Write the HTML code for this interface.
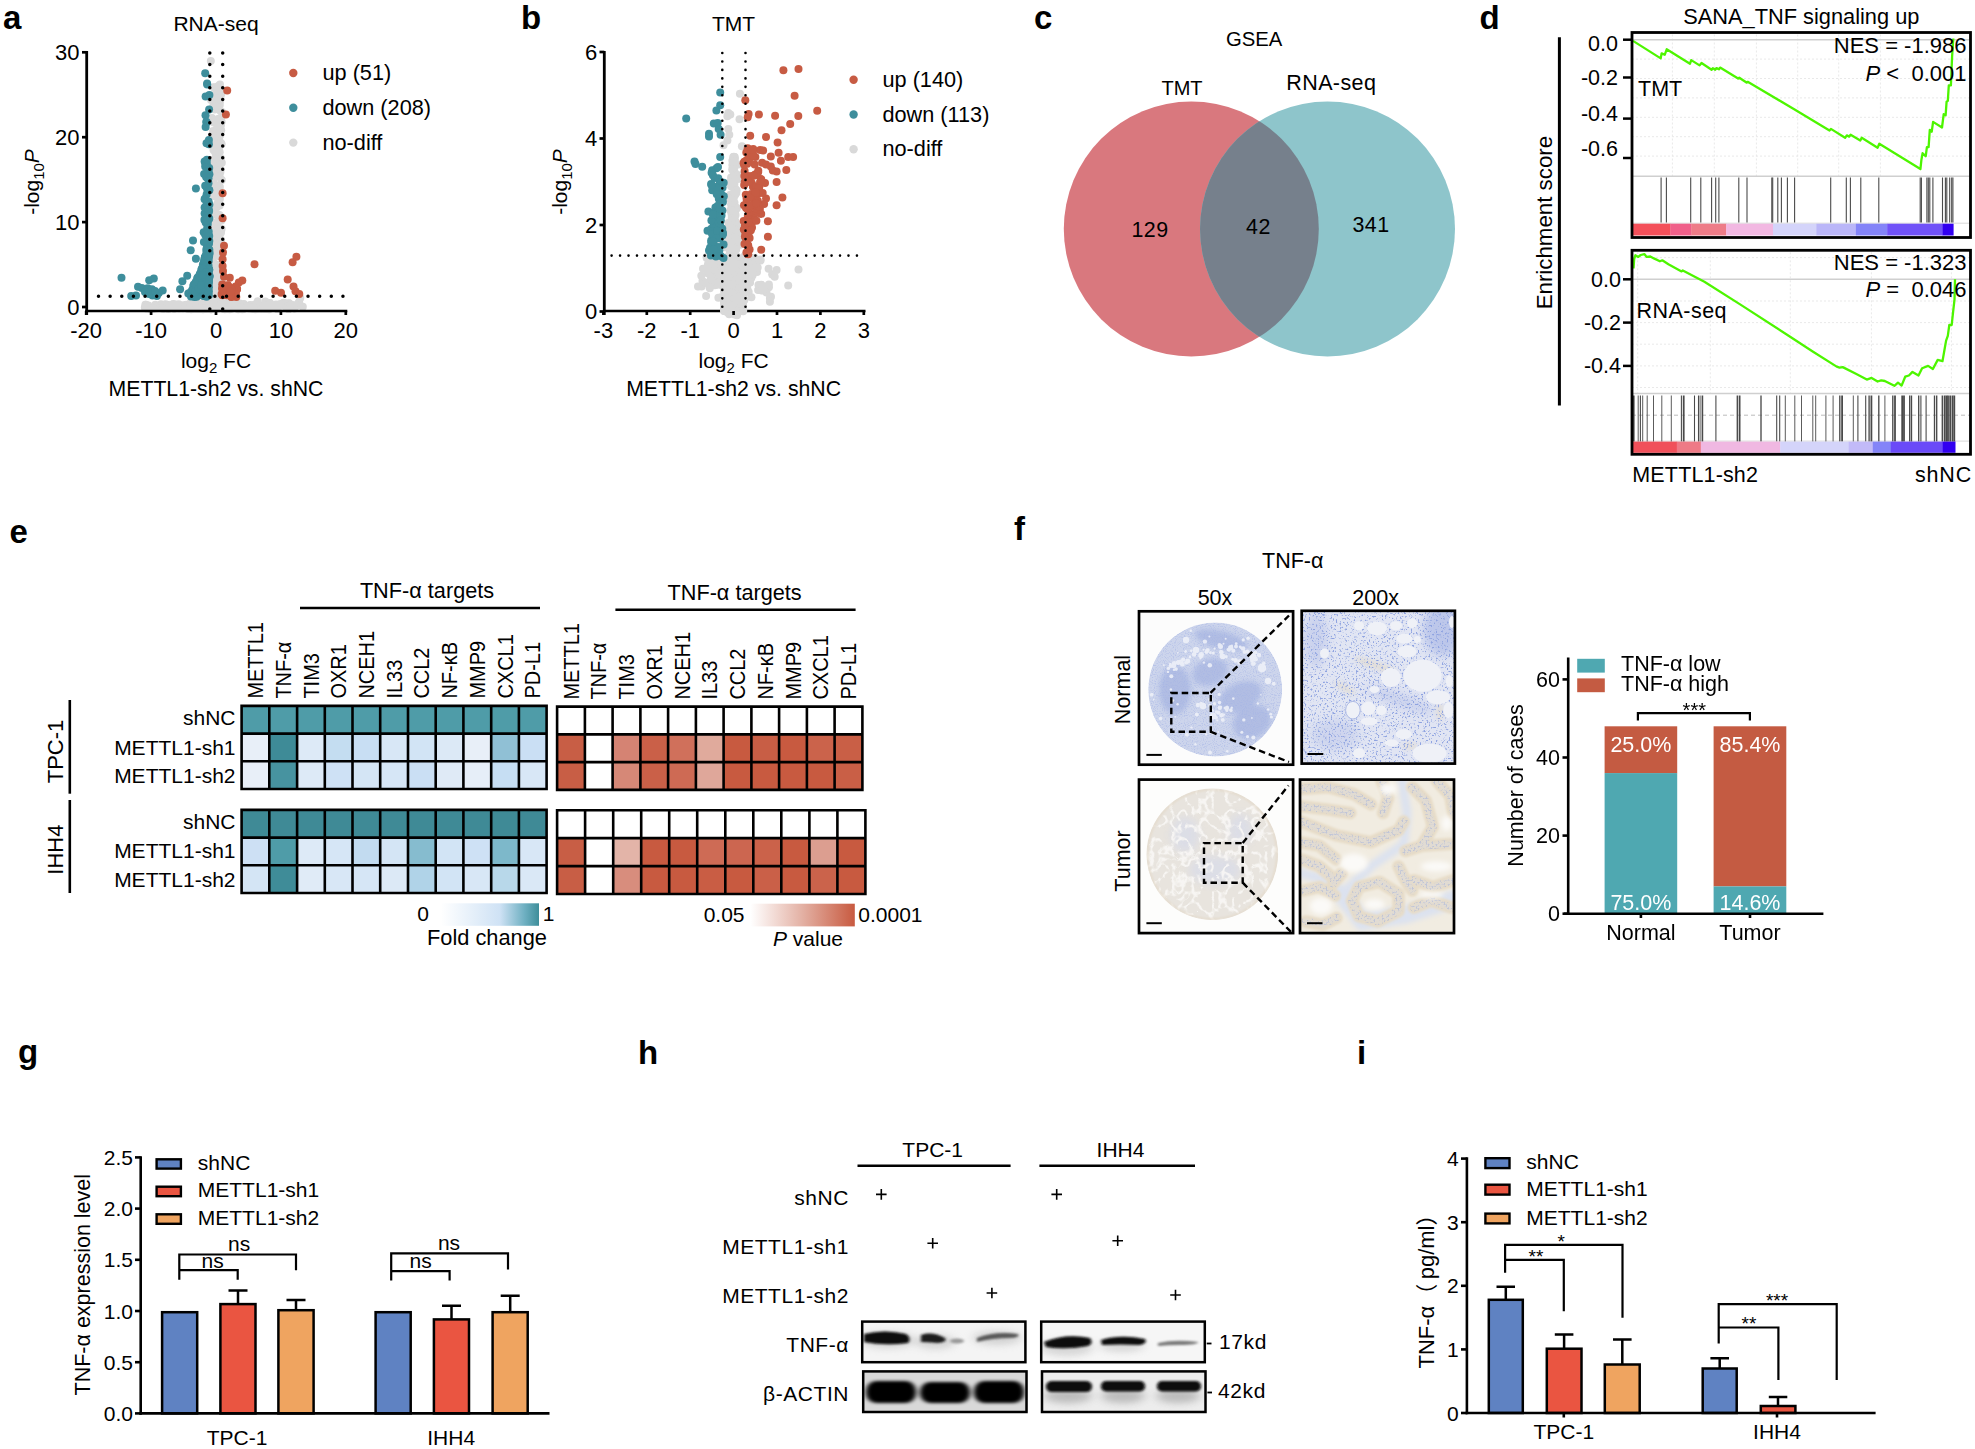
<!DOCTYPE html>
<html><head><meta charset="utf-8"><title>Figure</title>
<style>html,body{margin:0;padding:0;background:#fff}svg{display:block}text{font-family:'Liberation Sans', Arial, sans-serif}</style></head>
<body>
<svg width="1975" height="1449" viewBox="0 0 1975 1449">
<rect width="1975" height="1449" fill="#fff"/>
<text x="3.0" y="29.0" font-size="33" font-weight="bold">a</text>
<text x="216.0" y="31.0" font-size="21" text-anchor="middle">RNA-seq</text>
<g fill="#D9D9D9"><circle cx="220.3" cy="303.4" r="4"/><circle cx="213.2" cy="178.9" r="4"/><circle cx="215.6" cy="255.2" r="4"/><circle cx="219.6" cy="215.2" r="4"/><circle cx="210.5" cy="305.1" r="4"/><circle cx="219.7" cy="152.3" r="4"/><circle cx="215.5" cy="306.7" r="4"/><circle cx="212.9" cy="193.3" r="4"/><circle cx="213.0" cy="106.8" r="4"/><circle cx="216.7" cy="306.6" r="4"/><circle cx="214.7" cy="109.5" r="4"/><circle cx="210.5" cy="269.9" r="4"/><circle cx="215.4" cy="297.2" r="4"/><circle cx="213.0" cy="255.1" r="4"/><circle cx="212.8" cy="296.3" r="4"/><circle cx="213.6" cy="262.7" r="4"/><circle cx="220.2" cy="306.6" r="4"/><circle cx="217.9" cy="241.0" r="4"/><circle cx="222.1" cy="300.1" r="4"/><circle cx="215.8" cy="142.8" r="4"/><circle cx="218.7" cy="193.3" r="4"/><circle cx="220.3" cy="110.7" r="4"/><circle cx="213.8" cy="209.6" r="4"/><circle cx="220.8" cy="233.0" r="4"/><circle cx="218.1" cy="148.3" r="4"/><circle cx="213.1" cy="306.5" r="4"/><circle cx="215.1" cy="166.8" r="4"/><circle cx="216.7" cy="301.0" r="4"/><circle cx="218.3" cy="199.3" r="4"/><circle cx="215.4" cy="278.1" r="4"/><circle cx="219.5" cy="252.3" r="4"/><circle cx="214.9" cy="249.5" r="4"/><circle cx="210.5" cy="256.5" r="4"/><circle cx="218.6" cy="306.4" r="4"/><circle cx="216.3" cy="89.6" r="4"/><circle cx="216.2" cy="301.2" r="4"/><circle cx="217.7" cy="90.1" r="4"/><circle cx="217.4" cy="142.7" r="4"/><circle cx="216.9" cy="103.6" r="4"/><circle cx="216.7" cy="292.4" r="4"/><circle cx="219.9" cy="101.5" r="4"/><circle cx="220.8" cy="158.2" r="4"/><circle cx="219.9" cy="187.0" r="4"/><circle cx="216.9" cy="250.0" r="4"/><circle cx="210.8" cy="269.2" r="4"/><circle cx="214.6" cy="138.8" r="4"/><circle cx="216.0" cy="253.2" r="4"/><circle cx="214.3" cy="280.9" r="4"/><circle cx="217.6" cy="245.4" r="4"/><circle cx="215.7" cy="226.3" r="4"/><circle cx="212.9" cy="306.6" r="4"/><circle cx="217.2" cy="300.8" r="4"/><circle cx="220.0" cy="142.4" r="4"/><circle cx="213.2" cy="159.7" r="4"/><circle cx="213.5" cy="150.0" r="4"/><circle cx="210.3" cy="306.7" r="4"/><circle cx="213.2" cy="181.8" r="4"/><circle cx="217.7" cy="304.5" r="4"/><circle cx="211.0" cy="282.7" r="4"/><circle cx="216.5" cy="301.9" r="4"/><circle cx="213.4" cy="301.4" r="4"/><circle cx="215.6" cy="196.6" r="4"/><circle cx="215.8" cy="285.9" r="4"/><circle cx="214.8" cy="306.6" r="4"/><circle cx="212.4" cy="270.1" r="4"/><circle cx="221.0" cy="304.6" r="4"/><circle cx="212.7" cy="252.0" r="4"/><circle cx="220.0" cy="228.2" r="4"/><circle cx="210.4" cy="306.6" r="4"/><circle cx="218.8" cy="302.7" r="4"/><circle cx="218.6" cy="301.9" r="4"/><circle cx="216.7" cy="207.2" r="4"/><circle cx="221.9" cy="297.3" r="4"/><circle cx="216.4" cy="166.7" r="4"/><circle cx="217.9" cy="297.1" r="4"/><circle cx="217.1" cy="274.7" r="4"/><circle cx="217.7" cy="286.0" r="4"/><circle cx="213.7" cy="306.1" r="4"/><circle cx="215.5" cy="96.6" r="4"/><circle cx="221.3" cy="143.4" r="4"/><circle cx="215.2" cy="185.8" r="4"/><circle cx="210.3" cy="294.2" r="4"/><circle cx="220.2" cy="135.2" r="4"/><circle cx="214.3" cy="99.2" r="4"/><circle cx="219.2" cy="139.7" r="4"/><circle cx="214.7" cy="252.2" r="4"/><circle cx="212.6" cy="282.3" r="4"/><circle cx="215.4" cy="208.4" r="4"/><circle cx="211.4" cy="299.5" r="4"/><circle cx="213.7" cy="210.9" r="4"/><circle cx="214.1" cy="254.3" r="4"/><circle cx="212.9" cy="138.1" r="4"/><circle cx="214.1" cy="299.0" r="4"/><circle cx="215.8" cy="87.8" r="4"/><circle cx="218.3" cy="298.0" r="4"/><circle cx="215.9" cy="151.6" r="4"/><circle cx="217.2" cy="133.7" r="4"/><circle cx="219.3" cy="88.5" r="4"/><circle cx="212.2" cy="305.4" r="4"/><circle cx="219.7" cy="121.7" r="4"/><circle cx="220.3" cy="229.7" r="4"/><circle cx="214.2" cy="279.1" r="4"/><circle cx="220.6" cy="289.8" r="4"/><circle cx="221.6" cy="228.7" r="4"/><circle cx="217.8" cy="131.7" r="4"/><circle cx="210.6" cy="304.7" r="4"/><circle cx="220.6" cy="305.8" r="4"/><circle cx="220.1" cy="170.2" r="4"/><circle cx="217.5" cy="283.2" r="4"/><circle cx="214.7" cy="172.5" r="4"/><circle cx="212.8" cy="237.4" r="4"/><circle cx="213.4" cy="305.5" r="4"/><circle cx="221.2" cy="130.2" r="4"/><circle cx="213.5" cy="263.1" r="4"/><circle cx="220.1" cy="170.6" r="4"/><circle cx="218.2" cy="306.7" r="4"/><circle cx="211.5" cy="305.2" r="4"/><circle cx="214.9" cy="132.6" r="4"/><circle cx="213.8" cy="87.3" r="4"/><circle cx="213.1" cy="301.4" r="4"/><circle cx="211.4" cy="185.8" r="4"/><circle cx="221.6" cy="121.8" r="4"/><circle cx="215.1" cy="122.5" r="4"/><circle cx="211.4" cy="259.2" r="4"/><circle cx="210.6" cy="215.0" r="4"/><circle cx="222.0" cy="306.7" r="4"/><circle cx="217.3" cy="289.3" r="4"/><circle cx="213.9" cy="264.7" r="4"/><circle cx="221.1" cy="306.0" r="4"/><circle cx="213.8" cy="95.7" r="4"/><circle cx="217.6" cy="297.8" r="4"/><circle cx="219.0" cy="91.1" r="4"/><circle cx="213.3" cy="212.1" r="4"/><circle cx="213.8" cy="244.6" r="4"/><circle cx="211.1" cy="294.8" r="4"/><circle cx="222.0" cy="291.1" r="4"/><circle cx="218.0" cy="265.0" r="4"/><circle cx="221.5" cy="217.6" r="4"/><circle cx="213.8" cy="275.5" r="4"/><circle cx="214.0" cy="285.2" r="4"/><circle cx="215.5" cy="147.9" r="4"/><circle cx="216.7" cy="284.2" r="4"/><circle cx="217.3" cy="235.3" r="4"/><circle cx="210.4" cy="295.0" r="4"/><circle cx="211.0" cy="295.1" r="4"/><circle cx="211.0" cy="242.3" r="4"/><circle cx="217.8" cy="305.7" r="4"/><circle cx="219.7" cy="289.9" r="4"/><circle cx="220.5" cy="255.7" r="4"/><circle cx="216.2" cy="302.3" r="4"/><circle cx="211.1" cy="167.7" r="4"/><circle cx="219.8" cy="105.0" r="4"/><circle cx="215.7" cy="88.8" r="4"/><circle cx="216.3" cy="304.6" r="4"/><circle cx="220.9" cy="118.1" r="4"/><circle cx="221.1" cy="303.0" r="4"/><circle cx="214.0" cy="306.5" r="4"/><circle cx="221.0" cy="125.1" r="4"/><circle cx="219.0" cy="150.4" r="4"/><circle cx="215.4" cy="300.7" r="4"/><circle cx="218.7" cy="302.0" r="4"/><circle cx="213.2" cy="210.3" r="4"/><circle cx="221.7" cy="306.0" r="4"/><circle cx="216.8" cy="162.8" r="4"/><circle cx="220.4" cy="244.7" r="4"/><circle cx="214.9" cy="264.0" r="4"/><circle cx="213.3" cy="283.5" r="4"/><circle cx="217.9" cy="306.6" r="4"/><circle cx="217.0" cy="270.9" r="4"/><circle cx="214.4" cy="306.0" r="4"/><circle cx="211.7" cy="303.2" r="4"/><circle cx="220.1" cy="293.5" r="4"/><circle cx="215.0" cy="274.2" r="4"/><circle cx="213.0" cy="226.3" r="4"/><circle cx="216.5" cy="306.7" r="4"/><circle cx="217.9" cy="254.0" r="4"/><circle cx="218.4" cy="266.9" r="4"/><circle cx="213.0" cy="190.0" r="4"/><circle cx="215.9" cy="255.3" r="4"/><circle cx="215.1" cy="296.9" r="4"/><circle cx="221.0" cy="240.0" r="4"/><circle cx="218.6" cy="118.8" r="4"/><circle cx="211.0" cy="306.3" r="4"/><circle cx="220.7" cy="251.6" r="4"/><circle cx="219.4" cy="301.9" r="4"/><circle cx="219.0" cy="133.4" r="4"/><circle cx="219.1" cy="147.2" r="4"/><circle cx="217.3" cy="188.4" r="4"/><circle cx="221.5" cy="144.3" r="4"/><circle cx="212.3" cy="237.3" r="4"/><circle cx="212.8" cy="294.4" r="4"/><circle cx="219.3" cy="237.7" r="4"/><circle cx="218.3" cy="306.2" r="4"/><circle cx="214.3" cy="194.8" r="4"/><circle cx="212.1" cy="250.8" r="4"/><circle cx="210.6" cy="190.6" r="4"/><circle cx="218.5" cy="90.5" r="4"/><circle cx="221.1" cy="292.6" r="4"/><circle cx="219.8" cy="100.5" r="4"/><circle cx="219.1" cy="149.9" r="4"/><circle cx="221.3" cy="265.6" r="4"/><circle cx="220.0" cy="95.1" r="4"/><circle cx="212.1" cy="267.9" r="4"/><circle cx="211.7" cy="285.4" r="4"/><circle cx="213.8" cy="122.6" r="4"/><circle cx="215.1" cy="229.6" r="4"/><circle cx="213.7" cy="304.2" r="4"/><circle cx="219.2" cy="294.6" r="4"/><circle cx="212.4" cy="306.7" r="4"/><circle cx="210.4" cy="266.8" r="4"/><circle cx="217.4" cy="222.1" r="4"/><circle cx="215.3" cy="152.5" r="4"/><circle cx="213.4" cy="244.5" r="4"/><circle cx="213.2" cy="233.5" r="4"/><circle cx="219.7" cy="205.5" r="4"/><circle cx="221.8" cy="162.7" r="4"/><circle cx="216.1" cy="243.7" r="4"/><circle cx="217.9" cy="144.5" r="4"/><circle cx="213.6" cy="276.7" r="4"/><circle cx="219.9" cy="304.6" r="4"/><circle cx="219.1" cy="304.2" r="4"/><circle cx="221.7" cy="243.7" r="4"/><circle cx="221.8" cy="179.9" r="4"/><circle cx="216.2" cy="303.3" r="4"/><circle cx="213.9" cy="236.9" r="4"/><circle cx="214.4" cy="253.5" r="4"/><circle cx="210.2" cy="247.8" r="4"/><circle cx="215.6" cy="266.1" r="4"/><circle cx="215.0" cy="288.1" r="4"/><circle cx="218.4" cy="172.1" r="4"/><circle cx="217.9" cy="255.9" r="4"/><circle cx="212.6" cy="277.6" r="4"/><circle cx="213.5" cy="306.7" r="4"/><circle cx="220.7" cy="230.2" r="4"/><circle cx="216.3" cy="154.8" r="4"/><circle cx="220.3" cy="87.8" r="4"/><circle cx="219.1" cy="272.3" r="4"/><circle cx="214.3" cy="87.5" r="4"/><circle cx="216.5" cy="224.2" r="4"/><circle cx="210.2" cy="280.5" r="4"/><circle cx="215.3" cy="275.7" r="4"/><circle cx="220.5" cy="272.9" r="4"/><circle cx="219.0" cy="233.9" r="4"/><circle cx="217.2" cy="127.3" r="4"/><circle cx="217.8" cy="185.2" r="4"/><circle cx="217.7" cy="216.0" r="4"/><circle cx="217.7" cy="272.6" r="4"/><circle cx="221.4" cy="220.4" r="4"/><circle cx="220.3" cy="172.3" r="4"/><circle cx="219.9" cy="177.6" r="4"/><circle cx="214.4" cy="228.3" r="4"/><circle cx="218.7" cy="292.9" r="4"/><circle cx="214.1" cy="137.2" r="4"/><circle cx="217.0" cy="153.4" r="4"/><circle cx="216.3" cy="306.4" r="4"/><circle cx="215.2" cy="185.5" r="4"/><circle cx="218.0" cy="281.1" r="4"/><circle cx="216.2" cy="306.6" r="4"/><circle cx="216.4" cy="106.4" r="4"/><circle cx="217.4" cy="203.8" r="4"/><circle cx="212.7" cy="298.3" r="4"/><circle cx="213.4" cy="132.2" r="4"/><circle cx="216.4" cy="154.3" r="4"/><circle cx="216.3" cy="279.1" r="4"/><circle cx="212.2" cy="188.3" r="4"/><circle cx="218.7" cy="214.7" r="4"/><circle cx="213.4" cy="160.3" r="4"/><circle cx="212.9" cy="227.1" r="4"/><circle cx="212.2" cy="239.9" r="4"/><circle cx="220.6" cy="169.6" r="4"/><circle cx="212.8" cy="284.8" r="4"/><circle cx="220.4" cy="98.5" r="4"/><circle cx="221.0" cy="306.6" r="4"/><circle cx="214.0" cy="223.6" r="4"/><circle cx="219.3" cy="268.1" r="4"/><circle cx="212.4" cy="171.2" r="4"/><circle cx="212.1" cy="222.6" r="4"/><circle cx="221.1" cy="94.3" r="4"/><circle cx="217.4" cy="191.1" r="4"/><circle cx="216.5" cy="293.2" r="4"/><circle cx="211.8" cy="303.2" r="4"/><circle cx="214.5" cy="195.2" r="4"/><circle cx="213.0" cy="183.3" r="4"/><circle cx="218.8" cy="194.4" r="4"/><circle cx="211.4" cy="288.1" r="4"/><circle cx="216.1" cy="274.4" r="4"/><circle cx="212.4" cy="304.9" r="4"/><circle cx="217.3" cy="306.2" r="4"/><circle cx="213.1" cy="131.0" r="4"/><circle cx="219.9" cy="199.1" r="4"/><circle cx="215.9" cy="98.3" r="4"/><circle cx="219.0" cy="151.5" r="4"/><circle cx="215.0" cy="305.1" r="4"/><circle cx="214.7" cy="255.3" r="4"/><circle cx="212.9" cy="301.3" r="4"/><circle cx="215.7" cy="158.3" r="4"/><circle cx="212.7" cy="235.0" r="4"/><circle cx="214.1" cy="195.5" r="4"/><circle cx="221.1" cy="231.4" r="4"/><circle cx="220.0" cy="84.4" r="4"/><circle cx="197.0" cy="302.1" r="4"/><circle cx="206.9" cy="303.9" r="4"/><circle cx="168.3" cy="308.9" r="4"/><circle cx="233.2" cy="307.3" r="4"/><circle cx="164.9" cy="304.8" r="4"/><circle cx="219.1" cy="308.0" r="4"/><circle cx="211.1" cy="309.2" r="4"/><circle cx="243.9" cy="304.6" r="4"/><circle cx="276.3" cy="307.2" r="4"/><circle cx="242.9" cy="305.1" r="4"/><circle cx="239.9" cy="307.5" r="4"/><circle cx="238.9" cy="306.2" r="4"/><circle cx="205.7" cy="307.1" r="4"/><circle cx="175.7" cy="306.5" r="4"/><circle cx="255.8" cy="304.3" r="4"/><circle cx="227.0" cy="302.1" r="4"/><circle cx="277.7" cy="309.1" r="4"/><circle cx="158.8" cy="308.1" r="4"/><circle cx="214.4" cy="306.1" r="4"/><circle cx="191.9" cy="302.5" r="4"/><circle cx="148.4" cy="305.6" r="4"/><circle cx="234.7" cy="307.3" r="4"/><circle cx="239.7" cy="303.4" r="4"/><circle cx="241.3" cy="307.0" r="4"/><circle cx="182.8" cy="308.2" r="4"/><circle cx="266.7" cy="305.6" r="4"/><circle cx="160.9" cy="304.2" r="4"/><circle cx="256.7" cy="304.5" r="4"/><circle cx="228.0" cy="303.1" r="4"/><circle cx="199.8" cy="309.0" r="4"/><circle cx="198.4" cy="309.1" r="4"/><circle cx="271.5" cy="307.8" r="4"/><circle cx="233.2" cy="307.7" r="4"/><circle cx="261.2" cy="306.1" r="4"/><circle cx="167.8" cy="308.2" r="4"/><circle cx="155.3" cy="304.8" r="4"/><circle cx="289.1" cy="303.3" r="4"/><circle cx="288.8" cy="303.4" r="4"/><circle cx="165.6" cy="304.2" r="4"/><circle cx="266.7" cy="304.0" r="4"/><circle cx="200.9" cy="305.0" r="4"/><circle cx="207.3" cy="301.4" r="4"/><circle cx="233.7" cy="305.8" r="4"/><circle cx="239.8" cy="307.1" r="4"/><circle cx="235.9" cy="308.1" r="4"/><circle cx="230.3" cy="305.1" r="4"/><circle cx="250.1" cy="305.0" r="4"/><circle cx="171.6" cy="308.1" r="4"/><circle cx="276.6" cy="308.0" r="4"/><circle cx="283.4" cy="302.7" r="4"/><circle cx="232.8" cy="304.7" r="4"/><circle cx="229.4" cy="303.4" r="4"/><circle cx="257.7" cy="301.2" r="4"/><circle cx="215.3" cy="306.2" r="4"/><circle cx="182.6" cy="305.6" r="4"/><circle cx="228.8" cy="308.5" r="4"/><circle cx="191.2" cy="309.2" r="4"/><circle cx="198.6" cy="302.5" r="4"/><circle cx="260.9" cy="306.0" r="4"/><circle cx="233.7" cy="306.1" r="4"/><circle cx="229.0" cy="301.7" r="4"/><circle cx="208.2" cy="307.8" r="4"/><circle cx="191.6" cy="305.6" r="4"/><circle cx="230.3" cy="308.7" r="4"/><circle cx="243.8" cy="304.1" r="4"/><circle cx="178.7" cy="306.4" r="4"/><circle cx="284.6" cy="302.9" r="4"/><circle cx="204.3" cy="303.5" r="4"/><circle cx="202.7" cy="306.5" r="4"/><circle cx="197.0" cy="308.9" r="4"/><circle cx="242.4" cy="309.2" r="4"/><circle cx="232.3" cy="308.0" r="4"/><circle cx="195.8" cy="306.2" r="4"/><circle cx="259.8" cy="306.9" r="4"/><circle cx="265.6" cy="304.3" r="4"/><circle cx="221.1" cy="304.3" r="4"/><circle cx="229.7" cy="309.2" r="4"/><circle cx="184.1" cy="307.9" r="4"/><circle cx="257.3" cy="309.0" r="4"/><circle cx="239.9" cy="305.9" r="4"/><circle cx="213.1" cy="301.8" r="4"/><circle cx="196.8" cy="304.8" r="4"/><circle cx="209.4" cy="308.0" r="4"/><circle cx="219.3" cy="302.8" r="4"/><circle cx="267.1" cy="309.0" r="4"/><circle cx="205.3" cy="307.9" r="4"/><circle cx="223.7" cy="308.9" r="4"/><circle cx="184.0" cy="307.3" r="4"/><circle cx="209.5" cy="301.2" r="4"/><circle cx="189.6" cy="307.2" r="4"/><circle cx="178.0" cy="307.5" r="4"/><circle cx="145.9" cy="304.7" r="4"/><circle cx="243.7" cy="306.0" r="4"/><circle cx="213.2" cy="303.0" r="4"/><circle cx="210.6" cy="308.8" r="4"/><circle cx="175.0" cy="304.4" r="4"/><circle cx="227.6" cy="308.7" r="4"/><circle cx="196.7" cy="304.5" r="4"/><circle cx="201.2" cy="307.6" r="4"/><circle cx="232.2" cy="302.5" r="4"/><circle cx="252.7" cy="309.1" r="4"/><circle cx="195.4" cy="305.0" r="4"/><circle cx="271.1" cy="307.8" r="4"/><circle cx="223.4" cy="308.2" r="4"/><circle cx="158.3" cy="307.0" r="4"/><circle cx="223.7" cy="308.5" r="4"/><circle cx="233.0" cy="307.0" r="4"/><circle cx="206.8" cy="309.0" r="4"/><circle cx="179.6" cy="308.2" r="4"/><circle cx="238.2" cy="309.2" r="4"/><circle cx="241.3" cy="308.2" r="4"/><circle cx="264.5" cy="309.1" r="4"/><circle cx="156.7" cy="308.3" r="4"/><circle cx="226.4" cy="307.2" r="4"/><circle cx="290.0" cy="308.2" r="4"/><circle cx="218.1" cy="306.2" r="4"/><circle cx="194.7" cy="307.5" r="4"/><circle cx="269.8" cy="303.0" r="4"/><circle cx="239.0" cy="307.1" r="4"/><circle cx="250.4" cy="306.1" r="4"/><circle cx="232.5" cy="307.2" r="4"/><circle cx="284.5" cy="305.9" r="4"/><circle cx="153.0" cy="308.7" r="4"/><circle cx="212.3" cy="308.2" r="4"/><circle cx="186.8" cy="307.9" r="4"/><circle cx="202.2" cy="306.0" r="4"/><circle cx="276.0" cy="304.6" r="4"/><circle cx="195.9" cy="304.7" r="4"/><circle cx="168.9" cy="305.0" r="4"/><circle cx="178.3" cy="308.2" r="4"/><circle cx="227.1" cy="306.8" r="4"/><circle cx="163.0" cy="306.4" r="4"/><circle cx="269.1" cy="309.2" r="4"/><circle cx="292.9" cy="305.0" r="4"/><circle cx="203.7" cy="302.5" r="4"/><circle cx="216.2" cy="305.5" r="4"/><circle cx="210.4" cy="307.1" r="4"/><circle cx="200.5" cy="306.6" r="4"/><circle cx="150.4" cy="309.2" r="4"/><circle cx="197.7" cy="308.1" r="4"/><circle cx="297.8" cy="304.9" r="4"/><circle cx="269.5" cy="308.2" r="4"/><circle cx="215.1" cy="305.8" r="4"/><circle cx="223.3" cy="307.8" r="4"/><circle cx="173.2" cy="304.1" r="4"/><circle cx="198.6" cy="307.9" r="4"/><circle cx="223.5" cy="304.5" r="4"/><circle cx="243.5" cy="309.1" r="4"/><circle cx="249.4" cy="308.6" r="4"/><circle cx="244.7" cy="307.6" r="4"/><circle cx="255.3" cy="309.2" r="4"/><circle cx="222.1" cy="304.3" r="4"/><circle cx="205.6" cy="301.5" r="4"/><circle cx="246.9" cy="306.7" r="4"/><circle cx="218.0" cy="303.7" r="4"/><circle cx="193.3" cy="305.7" r="4"/><circle cx="289.0" cy="308.7" r="4"/><circle cx="224.9" cy="309.2" r="4"/><circle cx="218.9" cy="303.5" r="4"/><circle cx="187.3" cy="305.4" r="4"/><circle cx="194.0" cy="304.1" r="4"/><circle cx="286.8" cy="307.2" r="4"/><circle cx="145.4" cy="304.8" r="4"/><circle cx="232.7" cy="308.3" r="4"/><circle cx="265.3" cy="301.6" r="4"/><circle cx="172.0" cy="307.8" r="4"/><circle cx="268.3" cy="304.2" r="4"/><circle cx="253.7" cy="304.9" r="4"/><circle cx="217.8" cy="305.0" r="4"/><circle cx="204.9" cy="305.1" r="4"/><circle cx="219.2" cy="308.3" r="4"/><circle cx="146.5" cy="308.5" r="4"/><circle cx="209.3" cy="301.3" r="4"/><circle cx="206.4" cy="306.0" r="4"/><circle cx="214.5" cy="307.0" r="4"/><circle cx="206.0" cy="303.2" r="4"/><circle cx="224.4" cy="305.8" r="4"/><circle cx="276.2" cy="305.2" r="4"/><circle cx="225.3" cy="307.5" r="4"/><circle cx="188.1" cy="309.0" r="4"/><circle cx="227.7" cy="303.4" r="4"/><circle cx="180.4" cy="307.1" r="4"/><circle cx="233.0" cy="305.2" r="4"/><circle cx="156.6" cy="305.9" r="4"/><circle cx="204.2" cy="305.5" r="4"/><circle cx="164.7" cy="308.6" r="4"/><circle cx="185.8" cy="305.3" r="4"/><circle cx="179.7" cy="307.2" r="4"/><circle cx="158.4" cy="307.6" r="4"/><circle cx="189.8" cy="306.7" r="4"/><circle cx="167.3" cy="305.4" r="4"/><circle cx="193.8" cy="301.7" r="4"/><circle cx="232.8" cy="308.2" r="4"/><circle cx="177.0" cy="304.8" r="4"/><circle cx="254.9" cy="307.3" r="4"/><circle cx="194.1" cy="304.3" r="4"/><circle cx="225.5" cy="303.8" r="4"/><circle cx="203.5" cy="305.3" r="4"/><circle cx="186.3" cy="304.7" r="4"/><circle cx="222.9" cy="301.5" r="4"/><circle cx="225.0" cy="308.1" r="4"/><circle cx="159.8" cy="307.1" r="4"/><circle cx="224.0" cy="306.0" r="4"/><circle cx="288.6" cy="309.0" r="4"/><circle cx="251.3" cy="307.0" r="4"/><circle cx="213.4" cy="305.5" r="4"/><circle cx="174.2" cy="308.8" r="4"/><circle cx="200.6" cy="301.4" r="4"/><circle cx="233.9" cy="303.1" r="4"/><circle cx="204.0" cy="302.2" r="4"/><circle cx="156.5" cy="307.9" r="4"/><circle cx="299.3" cy="303.0" r="4"/><circle cx="215.6" cy="302.2" r="4"/><circle cx="217.9" cy="305.9" r="4"/><circle cx="286.3" cy="307.0" r="4"/><circle cx="231.3" cy="302.9" r="4"/><circle cx="187.9" cy="305.7" r="4"/><circle cx="209.3" cy="303.5" r="4"/><circle cx="237.0" cy="305.7" r="4"/><circle cx="146.9" cy="308.1" r="4"/><circle cx="230.4" cy="305.6" r="4"/><circle cx="220.1" cy="302.9" r="4"/><circle cx="214.1" cy="303.3" r="4"/><circle cx="209.9" cy="302.4" r="4"/><circle cx="228.0" cy="307.8" r="4"/><circle cx="223.8" cy="301.2" r="4"/><circle cx="277.3" cy="309.1" r="4"/><circle cx="154.5" cy="308.5" r="4"/><circle cx="295.6" cy="305.7" r="4"/><circle cx="237.9" cy="308.1" r="4"/><circle cx="256.1" cy="304.2" r="4"/><circle cx="212.2" cy="304.1" r="4"/><circle cx="191.5" cy="301.4" r="4"/><circle cx="238.0" cy="307.8" r="4"/><circle cx="288.8" cy="308.8" r="4"/><circle cx="215.9" cy="307.8" r="4"/><circle cx="261.4" cy="309.1" r="4"/><circle cx="236.3" cy="302.6" r="4"/><circle cx="210.7" cy="308.5" r="4"/><circle cx="211.3" cy="305.6" r="4"/><circle cx="218.2" cy="301.6" r="4"/><circle cx="196.8" cy="304.2" r="4"/><circle cx="178.8" cy="304.2" r="4"/><circle cx="222.2" cy="305.9" r="4"/><circle cx="146.0" cy="305.4" r="4"/><circle cx="150.1" cy="308.4" r="4"/><circle cx="193.9" cy="308.5" r="4"/><circle cx="172.9" cy="304.6" r="4"/><circle cx="211.0" cy="309.2" r="4"/><circle cx="233.8" cy="305.2" r="4"/><circle cx="248.1" cy="306.9" r="4"/><circle cx="234.2" cy="304.5" r="4"/><circle cx="269.9" cy="303.1" r="4"/><circle cx="232.4" cy="306.3" r="4"/><circle cx="219.0" cy="305.7" r="4"/><circle cx="278.1" cy="306.6" r="4"/><circle cx="274.2" cy="306.1" r="4"/><circle cx="232.4" cy="305.4" r="4"/><circle cx="225.1" cy="305.4" r="4"/><circle cx="151.8" cy="308.6" r="4"/><circle cx="213.8" cy="302.0" r="4"/><circle cx="253.1" cy="307.3" r="4"/><circle cx="212.7" cy="307.5" r="4"/><circle cx="216.3" cy="307.8" r="4"/><circle cx="183.9" cy="305.6" r="4"/><circle cx="224.6" cy="301.3" r="4"/><circle cx="220.8" cy="304.6" r="4"/><circle cx="294.1" cy="308.3" r="4"/><circle cx="294.5" cy="308.6" r="4"/><circle cx="264.0" cy="305.7" r="4"/><circle cx="195.1" cy="306.7" r="4"/><circle cx="227.4" cy="308.5" r="4"/><circle cx="290.6" cy="305.3" r="4"/><circle cx="205.4" cy="308.7" r="4"/><circle cx="298.7" cy="302.6" r="4"/><circle cx="144.8" cy="307.4" r="4"/><circle cx="224.2" cy="307.4" r="4"/><circle cx="230.9" cy="306.2" r="4"/><circle cx="194.1" cy="305.6" r="4"/><circle cx="190.1" cy="308.0" r="4"/><circle cx="235.4" cy="306.3" r="4"/><circle cx="280.2" cy="304.0" r="4"/><circle cx="227.7" cy="307.4" r="4"/><circle cx="192.8" cy="308.8" r="4"/><circle cx="288.3" cy="309.1" r="4"/><circle cx="213.8" cy="304.2" r="4"/><circle cx="240.2" cy="307.7" r="4"/><circle cx="217.4" cy="308.4" r="4"/><circle cx="201.9" cy="308.3" r="4"/><circle cx="177.4" cy="307.1" r="4"/><circle cx="211.4" cy="307.1" r="4"/><circle cx="195.0" cy="308.4" r="4"/><circle cx="172.1" cy="305.6" r="4"/><circle cx="190.6" cy="303.1" r="4"/><circle cx="212.0" cy="305.5" r="4"/><circle cx="213.5" cy="304.8" r="4"/><circle cx="233.4" cy="304.0" r="4"/><circle cx="162.7" cy="308.7" r="4"/><circle cx="203.0" cy="309.2" r="4"/><circle cx="222.9" cy="307.5" r="4"/><circle cx="210.8" cy="60.9" r="4"/><circle cx="219.0" cy="90.6" r="4"/><circle cx="218.5" cy="86.0" r="4"/><circle cx="302.8" cy="306.7" r="4"/><circle cx="300.3" cy="298.0" r="4"/><circle cx="222.0" cy="112.0" r="4"/><circle cx="221.0" cy="120.0" r="4"/><circle cx="211.0" cy="100.0" r="4"/><circle cx="212.0" cy="118.0" r="4"/></g>
<g fill="#3E8E9C"><circle cx="205.2" cy="73.2" r="4"/><circle cx="205.6" cy="96.4" r="4"/><circle cx="206.6" cy="122.5" r="4"/><circle cx="208.9" cy="140.1" r="4"/><circle cx="208.9" cy="144.3" r="4"/><circle cx="204.6" cy="161.4" r="4"/><circle cx="205.2" cy="166.6" r="4"/><circle cx="207.5" cy="172.4" r="4"/><circle cx="208.5" cy="178.2" r="4"/><circle cx="195.9" cy="188.4" r="4"/><circle cx="207.5" cy="190.7" r="4"/><circle cx="206.6" cy="194.6" r="4"/><circle cx="205.2" cy="198.5" r="4"/><circle cx="209.1" cy="211.0" r="4"/><circle cx="204.6" cy="213.5" r="4"/><circle cx="205.6" cy="222.6" r="4"/><circle cx="208.5" cy="219.7" r="4"/><circle cx="203.7" cy="232.3" r="4"/><circle cx="207.5" cy="233.2" r="4"/><circle cx="193.0" cy="240.6" r="4"/><circle cx="190.7" cy="250.2" r="4"/><circle cx="195.9" cy="258.7" r="4"/><circle cx="187.2" cy="275.7" r="4"/><circle cx="182.4" cy="281.2" r="4"/><circle cx="180.1" cy="289.3" r="4"/><circle cx="121.5" cy="277.7" r="4"/><circle cx="149.2" cy="280.2" r="4"/><circle cx="153.8" cy="278.6" r="4"/><circle cx="138.0" cy="286.8" r="4"/><circle cx="141.8" cy="287.9" r="4"/><circle cx="147.6" cy="288.3" r="4"/><circle cx="151.9" cy="289.3" r="4"/><circle cx="162.7" cy="290.6" r="4"/><circle cx="158.8" cy="293.1" r="4"/><circle cx="131.2" cy="296.0" r="4"/><circle cx="136.0" cy="295.5" r="4"/><circle cx="152.5" cy="295.5" r="4"/><circle cx="156.9" cy="296.0" r="4"/><circle cx="145.0" cy="292.0" r="4"/><circle cx="149.0" cy="294.0" r="4"/><circle cx="155.0" cy="291.0" r="4"/><circle cx="200.2" cy="274.7" r="4"/><circle cx="199.9" cy="284.0" r="4"/><circle cx="201.4" cy="292.1" r="4"/><circle cx="207.1" cy="273.4" r="4"/><circle cx="191.9" cy="290.8" r="4"/><circle cx="196.0" cy="293.8" r="4"/><circle cx="209.3" cy="254.0" r="4"/><circle cx="192.5" cy="289.5" r="4"/><circle cx="198.0" cy="278.4" r="4"/><circle cx="192.2" cy="294.5" r="4"/><circle cx="205.5" cy="270.5" r="4"/><circle cx="206.2" cy="269.5" r="4"/><circle cx="209.4" cy="275.6" r="4"/><circle cx="208.9" cy="255.1" r="4"/><circle cx="197.9" cy="280.0" r="4"/><circle cx="207.1" cy="286.1" r="4"/><circle cx="202.8" cy="274.9" r="4"/><circle cx="209.2" cy="255.8" r="4"/><circle cx="206.2" cy="281.9" r="4"/><circle cx="207.0" cy="283.4" r="4"/><circle cx="203.1" cy="291.7" r="4"/><circle cx="204.0" cy="273.5" r="4"/><circle cx="189.7" cy="292.9" r="4"/><circle cx="195.5" cy="291.3" r="4"/><circle cx="208.9" cy="249.9" r="4"/><circle cx="197.2" cy="278.5" r="4"/><circle cx="206.3" cy="286.7" r="4"/><circle cx="201.3" cy="269.7" r="4"/><circle cx="199.2" cy="277.3" r="4"/><circle cx="193.2" cy="291.8" r="4"/><circle cx="199.7" cy="282.6" r="4"/><circle cx="208.6" cy="269.0" r="4"/><circle cx="208.8" cy="295.2" r="4"/><circle cx="205.3" cy="264.9" r="4"/><circle cx="204.6" cy="295.7" r="4"/><circle cx="204.1" cy="263.5" r="4"/><circle cx="206.4" cy="268.2" r="4"/><circle cx="209.2" cy="269.9" r="4"/><circle cx="193.3" cy="294.9" r="4"/><circle cx="209.3" cy="241.0" r="4"/><circle cx="207.9" cy="255.8" r="4"/><circle cx="206.5" cy="293.0" r="4"/><circle cx="207.7" cy="262.3" r="4"/><circle cx="198.7" cy="277.4" r="4"/><circle cx="198.1" cy="278.7" r="4"/><circle cx="204.1" cy="278.9" r="4"/><circle cx="197.2" cy="292.3" r="4"/><circle cx="203.8" cy="275.7" r="4"/><circle cx="205.9" cy="269.7" r="4"/><circle cx="208.8" cy="250.4" r="4"/><circle cx="207.1" cy="288.2" r="4"/><circle cx="208.7" cy="261.0" r="4"/><circle cx="209.2" cy="270.1" r="4"/><circle cx="204.3" cy="270.0" r="4"/><circle cx="195.6" cy="284.7" r="4"/><circle cx="207.1" cy="251.6" r="4"/><circle cx="207.7" cy="260.2" r="4"/><circle cx="198.2" cy="280.3" r="4"/><circle cx="193.9" cy="284.4" r="4"/><circle cx="208.6" cy="243.3" r="4"/><circle cx="209.2" cy="276.0" r="4"/><circle cx="208.3" cy="248.1" r="4"/><circle cx="207.8" cy="279.6" r="4"/><circle cx="208.4" cy="249.8" r="4"/><circle cx="199.5" cy="287.3" r="4"/><circle cx="194.5" cy="296.9" r="4"/><circle cx="197.1" cy="293.0" r="4"/><circle cx="204.9" cy="276.0" r="4"/><circle cx="209.4" cy="250.1" r="4"/><circle cx="196.1" cy="283.9" r="4"/><circle cx="209.0" cy="243.5" r="4"/><circle cx="207.1" cy="268.2" r="4"/><circle cx="204.5" cy="290.9" r="4"/><circle cx="205.9" cy="267.0" r="4"/><circle cx="202.7" cy="295.2" r="4"/><circle cx="208.9" cy="282.9" r="4"/><circle cx="200.1" cy="273.6" r="4"/><circle cx="207.5" cy="261.6" r="4"/><circle cx="200.8" cy="283.7" r="4"/><circle cx="201.3" cy="280.4" r="4"/><circle cx="204.4" cy="284.6" r="4"/><circle cx="206.2" cy="269.5" r="4"/><circle cx="202.6" cy="278.0" r="4"/><circle cx="201.1" cy="292.4" r="4"/><circle cx="200.7" cy="274.5" r="4"/><circle cx="203.7" cy="296.0" r="4"/><circle cx="205.3" cy="286.9" r="4"/><circle cx="208.9" cy="287.3" r="4"/><circle cx="202.8" cy="277.3" r="4"/><circle cx="194.3" cy="285.6" r="4"/><circle cx="198.8" cy="289.4" r="4"/><circle cx="209.4" cy="276.8" r="4"/><circle cx="202.3" cy="279.3" r="4"/><circle cx="206.6" cy="287.3" r="4"/><circle cx="208.9" cy="280.9" r="4"/><circle cx="195.3" cy="286.7" r="4"/><circle cx="202.5" cy="273.9" r="4"/><circle cx="204.8" cy="284.1" r="4"/><circle cx="206.6" cy="251.7" r="4"/><circle cx="208.2" cy="269.8" r="4"/><circle cx="200.9" cy="274.2" r="4"/><circle cx="196.2" cy="295.4" r="4"/><circle cx="205.4" cy="295.9" r="4"/><circle cx="209.5" cy="276.5" r="4"/><circle cx="204.1" cy="262.7" r="4"/><circle cx="207.3" cy="248.8" r="4"/><circle cx="197.7" cy="277.4" r="4"/><circle cx="206.5" cy="296.8" r="4"/><circle cx="202.9" cy="264.4" r="4"/><circle cx="208.1" cy="268.3" r="4"/><circle cx="195.7" cy="293.8" r="4"/><circle cx="205.4" cy="267.1" r="4"/><circle cx="204.9" cy="273.4" r="4"/><circle cx="207.4" cy="279.3" r="4"/><circle cx="195.7" cy="282.1" r="4"/><circle cx="198.6" cy="281.1" r="4"/><circle cx="208.5" cy="265.6" r="4"/><circle cx="206.6" cy="240.9" r="4"/><circle cx="208.0" cy="254.5" r="4"/><circle cx="198.2" cy="283.8" r="4"/><circle cx="203.2" cy="282.2" r="4"/><circle cx="200.8" cy="290.2" r="4"/><circle cx="208.5" cy="291.0" r="4"/><circle cx="207.9" cy="286.5" r="4"/><circle cx="205.5" cy="271.4" r="4"/><circle cx="207.2" cy="259.2" r="4"/><circle cx="208.8" cy="291.6" r="4"/><circle cx="204.2" cy="260.1" r="4"/><circle cx="205.4" cy="274.5" r="4"/><circle cx="192.1" cy="293.9" r="4"/><circle cx="206.5" cy="258.6" r="4"/><circle cx="205.5" cy="259.1" r="4"/><circle cx="199.1" cy="279.5" r="4"/><circle cx="206.3" cy="249.4" r="4"/><circle cx="204.4" cy="262.4" r="4"/><circle cx="200.3" cy="274.1" r="4"/><circle cx="209.4" cy="253.0" r="4"/><circle cx="199.3" cy="275.4" r="4"/><circle cx="204.0" cy="275.3" r="4"/><circle cx="206.9" cy="258.0" r="4"/><circle cx="200.6" cy="273.4" r="4"/><circle cx="201.1" cy="287.3" r="4"/><circle cx="208.9" cy="256.8" r="4"/><circle cx="194.8" cy="296.0" r="4"/><circle cx="204.7" cy="262.1" r="4"/><circle cx="206.9" cy="261.5" r="4"/><circle cx="207.4" cy="292.5" r="4"/><circle cx="209.4" cy="253.1" r="4"/><circle cx="207.8" cy="257.0" r="4"/><circle cx="207.4" cy="267.9" r="4"/><circle cx="208.1" cy="242.6" r="4"/><circle cx="201.8" cy="274.3" r="4"/><circle cx="205.2" cy="266.8" r="4"/><circle cx="203.8" cy="267.4" r="4"/><circle cx="207.1" cy="258.7" r="4"/><circle cx="204.7" cy="274.3" r="4"/><circle cx="202.8" cy="278.7" r="4"/><circle cx="203.2" cy="267.6" r="4"/><circle cx="196.4" cy="295.3" r="4"/><circle cx="198.7" cy="282.9" r="4"/><circle cx="204.9" cy="267.8" r="4"/><circle cx="204.3" cy="275.2" r="4"/><circle cx="204.5" cy="271.7" r="4"/><circle cx="208.2" cy="261.7" r="4"/><circle cx="206.3" cy="260.5" r="4"/><circle cx="204.6" cy="263.4" r="4"/><circle cx="192.7" cy="293.6" r="4"/><circle cx="202.0" cy="268.2" r="4"/><circle cx="206.6" cy="269.1" r="4"/><circle cx="200.3" cy="281.2" r="4"/><circle cx="201.9" cy="272.5" r="4"/><circle cx="203.6" cy="291.7" r="4"/><circle cx="207.2" cy="262.1" r="4"/><circle cx="198.4" cy="285.6" r="4"/><circle cx="207.6" cy="258.8" r="4"/><circle cx="188.3" cy="293.5" r="4"/><circle cx="198.4" cy="281.6" r="4"/><circle cx="205.1" cy="291.1" r="4"/><circle cx="207.4" cy="249.5" r="4"/><circle cx="203.0" cy="271.3" r="4"/><circle cx="206.4" cy="266.3" r="4"/><circle cx="207.8" cy="289.9" r="4"/><circle cx="208.1" cy="272.4" r="4"/><circle cx="200.4" cy="278.5" r="4"/><circle cx="191.0" cy="296.5" r="4"/><circle cx="207.5" cy="256.5" r="4"/><circle cx="201.4" cy="278.9" r="4"/><circle cx="193.3" cy="285.7" r="4"/><circle cx="204.7" cy="294.9" r="4"/><circle cx="204.8" cy="257.5" r="4"/><circle cx="204.8" cy="257.7" r="4"/><circle cx="207.1" cy="254.5" r="4"/><circle cx="209.0" cy="255.3" r="4"/><circle cx="203.1" cy="268.5" r="4"/><circle cx="204.3" cy="285.7" r="4"/><circle cx="208.0" cy="255.9" r="4"/><circle cx="208.4" cy="258.7" r="4"/><circle cx="203.9" cy="276.8" r="4"/><circle cx="207.6" cy="294.2" r="4"/><circle cx="202.5" cy="278.4" r="4"/><circle cx="207.9" cy="256.3" r="4"/><circle cx="205.5" cy="256.0" r="4"/><circle cx="209.1" cy="269.3" r="4"/><circle cx="203.7" cy="275.8" r="4"/><circle cx="193.9" cy="292.9" r="4"/><circle cx="204.4" cy="260.9" r="4"/><circle cx="207.5" cy="240.5" r="4"/><circle cx="206.9" cy="246.8" r="4"/><circle cx="205.3" cy="259.7" r="4"/><circle cx="194.4" cy="290.1" r="4"/><circle cx="207.9" cy="253.7" r="4"/><circle cx="206.6" cy="253.2" r="4"/><circle cx="196.6" cy="296.8" r="4"/><circle cx="199.3" cy="283.6" r="4"/><circle cx="207.9" cy="256.3" r="4"/><circle cx="203.2" cy="269.4" r="4"/><circle cx="206.0" cy="272.6" r="4"/><circle cx="206.9" cy="279.2" r="4"/><circle cx="208.7" cy="249.5" r="4"/><circle cx="207.5" cy="243.8" r="4"/><circle cx="202.9" cy="274.9" r="4"/><circle cx="208.9" cy="280.0" r="4"/><circle cx="193.4" cy="290.2" r="4"/><circle cx="208.3" cy="241.2" r="4"/><circle cx="201.7" cy="289.1" r="4"/><circle cx="195.0" cy="291.9" r="4"/><circle cx="195.4" cy="284.0" r="4"/><circle cx="198.6" cy="288.8" r="4"/><circle cx="208.1" cy="247.5" r="4"/><circle cx="201.0" cy="285.2" r="4"/><circle cx="208.3" cy="213.2" r="4"/><circle cx="208.7" cy="231.5" r="4"/><circle cx="207.8" cy="217.3" r="4"/><circle cx="209.4" cy="174.2" r="4"/><circle cx="208.5" cy="172.0" r="4"/><circle cx="209.4" cy="204.4" r="4"/><circle cx="205.5" cy="163.9" r="4"/><circle cx="207.8" cy="240.7" r="4"/><circle cx="206.8" cy="204.2" r="4"/><circle cx="207.2" cy="168.0" r="4"/><circle cx="204.4" cy="219.8" r="4"/><circle cx="207.2" cy="217.5" r="4"/><circle cx="204.6" cy="199.3" r="4"/><circle cx="207.6" cy="208.5" r="4"/><circle cx="207.8" cy="224.1" r="4"/><circle cx="206.9" cy="163.9" r="4"/><circle cx="208.2" cy="233.2" r="4"/><circle cx="209.2" cy="167.9" r="4"/><circle cx="209.2" cy="235.9" r="4"/><circle cx="209.3" cy="218.4" r="4"/><circle cx="204.6" cy="207.6" r="4"/><circle cx="208.5" cy="183.3" r="4"/><circle cx="207.0" cy="215.2" r="4"/><circle cx="208.0" cy="211.3" r="4"/><circle cx="206.9" cy="159.8" r="4"/><circle cx="206.7" cy="187.4" r="4"/><circle cx="208.6" cy="201.6" r="4"/><circle cx="208.4" cy="241.7" r="4"/><circle cx="207.6" cy="240.1" r="4"/><circle cx="208.6" cy="209.3" r="4"/><circle cx="206.1" cy="177.0" r="4"/><circle cx="206.9" cy="203.1" r="4"/><circle cx="207.4" cy="178.0" r="4"/><circle cx="205.8" cy="218.7" r="4"/><circle cx="207.9" cy="219.3" r="4"/><circle cx="206.9" cy="220.6" r="4"/><circle cx="206.6" cy="204.8" r="4"/><circle cx="209.3" cy="190.2" r="4"/><circle cx="204.1" cy="174.1" r="4"/><circle cx="205.3" cy="235.0" r="4"/><circle cx="205.2" cy="185.8" r="4"/><circle cx="207.2" cy="228.0" r="4"/><circle cx="209.2" cy="189.9" r="4"/><circle cx="203.9" cy="241.9" r="4"/><circle cx="207.8" cy="232.2" r="4"/><circle cx="206.5" cy="143.3" r="4"/><circle cx="207.2" cy="84.4" r="4"/><circle cx="205.5" cy="115.3" r="4"/><circle cx="206.3" cy="121.7" r="4"/><circle cx="209.1" cy="109.6" r="4"/><circle cx="209.4" cy="94.9" r="4"/><circle cx="205.6" cy="126.9" r="4"/><circle cx="207.1" cy="83.4" r="4"/></g>
<g fill="#C75B43"><circle cx="227.2" cy="90.6" r="4"/><circle cx="225.9" cy="114.4" r="4"/><circle cx="222.6" cy="193.2" r="4"/><circle cx="222.6" cy="218.2" r="4"/><circle cx="224.0" cy="245.8" r="4"/><circle cx="223.0" cy="252.6" r="4"/><circle cx="222.6" cy="259.3" r="4"/><circle cx="254.5" cy="264.2" r="4"/><circle cx="296.4" cy="256.8" r="4"/><circle cx="292.6" cy="262.2" r="4"/><circle cx="287.7" cy="279.6" r="4"/><circle cx="293.5" cy="286.4" r="4"/><circle cx="275.2" cy="290.8" r="4"/><circle cx="281.0" cy="292.8" r="4"/><circle cx="295.5" cy="291.2" r="4"/><circle cx="299.3" cy="294.1" r="4"/><circle cx="224.0" cy="276.7" r="4"/><circle cx="229.8" cy="277.7" r="4"/><circle cx="242.3" cy="280.6" r="4"/><circle cx="238.8" cy="282.5" r="4"/><circle cx="235.6" cy="286.4" r="4"/><circle cx="222.6" cy="266.0" r="4"/><circle cx="223.0" cy="271.0" r="4"/><circle cx="231.1" cy="291.9" r="4"/><circle cx="230.2" cy="292.9" r="4"/><circle cx="236.7" cy="289.8" r="4"/><circle cx="229.6" cy="290.9" r="4"/><circle cx="229.2" cy="292.8" r="4"/><circle cx="222.9" cy="284.7" r="4"/><circle cx="222.2" cy="284.6" r="4"/><circle cx="228.5" cy="288.0" r="4"/><circle cx="233.3" cy="291.1" r="4"/><circle cx="222.5" cy="295.3" r="4"/><circle cx="222.0" cy="288.6" r="4"/><circle cx="231.2" cy="291.3" r="4"/><circle cx="223.8" cy="285.8" r="4"/><circle cx="229.0" cy="287.2" r="4"/><circle cx="235.0" cy="292.4" r="4"/><circle cx="236.8" cy="289.3" r="4"/><circle cx="229.6" cy="287.7" r="4"/><circle cx="227.1" cy="289.7" r="4"/><circle cx="233.9" cy="291.4" r="4"/><circle cx="232.9" cy="289.4" r="4"/><circle cx="230.1" cy="294.7" r="4"/><circle cx="226.3" cy="295.0" r="4"/><circle cx="225.1" cy="288.6" r="4"/><circle cx="236.3" cy="296.9" r="4"/><circle cx="233.4" cy="292.0" r="4"/><circle cx="237.1" cy="288.8" r="4"/><circle cx="235.2" cy="288.2" r="4"/><circle cx="223.2" cy="287.4" r="4"/><circle cx="231.3" cy="296.7" r="4"/><circle cx="227.9" cy="285.4" r="4"/><circle cx="231.1" cy="295.7" r="4"/><circle cx="233.2" cy="289.0" r="4"/><circle cx="224.5" cy="294.1" r="4"/><circle cx="231.5" cy="296.9" r="4"/><circle cx="236.0" cy="294.4" r="4"/><circle cx="231.2" cy="288.9" r="4"/><circle cx="221.6" cy="294.0" r="4"/><circle cx="226.8" cy="295.2" r="4"/><circle cx="222.3" cy="295.1" r="4"/><circle cx="230.3" cy="295.5" r="4"/><circle cx="231.5" cy="289.7" r="4"/><circle cx="227.8" cy="285.3" r="4"/><circle cx="223.5" cy="291.5" r="4"/><circle cx="222.8" cy="288.7" r="4"/><circle cx="230.3" cy="291.7" r="4"/></g>
<line x1="209.8" y1="52.9" x2="209.8" y2="310.0" stroke="#000" stroke-width="3.5" stroke-dasharray="0 11.64" stroke-linecap="round"/>
<line x1="222.7" y1="52.9" x2="222.7" y2="310.0" stroke="#000" stroke-width="3.5" stroke-dasharray="0 11.64" stroke-linecap="round"/>
<line x1="98.5" y1="296.3" x2="346.0" y2="296.3" stroke="#000" stroke-width="3.5" stroke-dasharray="0 11.64" stroke-linecap="round"/>
<line x1="86.7" y1="51.0" x2="86.7" y2="315.0" stroke="#000" stroke-width="2.8"/>
<line x1="85.3" y1="311.0" x2="347.3" y2="311.0" stroke="#000" stroke-width="2.7"/>
<line x1="82.0" y1="52.3" x2="86.7" y2="52.3" stroke="#000" stroke-width="2.7"/>
<text x="79.6" y="59.9" font-size="22" text-anchor="end">30</text>
<line x1="82.0" y1="137.2" x2="86.7" y2="137.2" stroke="#000" stroke-width="2.7"/>
<text x="79.6" y="144.8" font-size="22" text-anchor="end">20</text>
<line x1="82.0" y1="222.1" x2="86.7" y2="222.1" stroke="#000" stroke-width="2.7"/>
<text x="79.6" y="229.7" font-size="22" text-anchor="end">10</text>
<line x1="82.0" y1="307.0" x2="86.7" y2="307.0" stroke="#000" stroke-width="2.7"/>
<text x="79.6" y="314.6" font-size="22" text-anchor="end">0</text>
<line x1="86.2" y1="311.0" x2="86.2" y2="315.0" stroke="#000" stroke-width="2.7"/>
<text x="86.2" y="338.3" font-size="22" text-anchor="middle">-20</text>
<line x1="151.1" y1="311.0" x2="151.1" y2="315.0" stroke="#000" stroke-width="2.7"/>
<text x="151.1" y="338.3" font-size="22" text-anchor="middle">-10</text>
<line x1="216.0" y1="311.0" x2="216.0" y2="315.0" stroke="#000" stroke-width="2.7"/>
<text x="216.0" y="338.3" font-size="22" text-anchor="middle">0</text>
<line x1="280.9" y1="311.0" x2="280.9" y2="315.0" stroke="#000" stroke-width="2.7"/>
<text x="280.9" y="338.3" font-size="22" text-anchor="middle">10</text>
<line x1="345.8" y1="311.0" x2="345.8" y2="315.0" stroke="#000" stroke-width="2.7"/>
<text x="345.8" y="338.3" font-size="22" text-anchor="middle">20</text>
<text x="216.0" y="368.0" font-size="21" text-anchor="middle">log<tspan font-size="15" dy="5">2</tspan><tspan dy="-5"> FC</tspan></text>
<text x="216.0" y="395.5" font-size="21.25" text-anchor="middle">METTL1-sh2 vs. shNC</text>
<text transform="translate(39.0 182.0) rotate(-90)" font-size="21" text-anchor="middle">-log<tspan font-size="15" dy="5">10</tspan><tspan dy="-5" font-style="italic">P</tspan></text>
<g fill="#C75B43"><circle cx="293.3" cy="73.0" r="4.2"/></g>
<text x="322.5" y="80.0" font-size="21.7">up (51)</text>
<g fill="#3E8E9C"><circle cx="293.3" cy="107.8" r="4.2"/></g>
<text x="322.5" y="114.8" font-size="21.7">down (208)</text>
<g fill="#D9D9D9"><circle cx="293.3" cy="142.6" r="4.2"/></g>
<text x="322.5" y="149.6" font-size="21.7">no-diff</text>
<text x="521.0" y="29.0" font-size="33" font-weight="bold">b</text>
<text x="733.6" y="31.0" font-size="21" text-anchor="middle">TMT</text>
<line x1="604.3" y1="51.0" x2="604.3" y2="315.0" stroke="#000" stroke-width="2.8"/>
<line x1="602.9" y1="311.0" x2="865.5" y2="311.0" stroke="#000" stroke-width="2.7"/>
<g fill="#D9D9D9"><circle cx="734.0" cy="167.6" r="4"/><circle cx="732.9" cy="309.4" r="4"/><circle cx="733.3" cy="198.5" r="4"/><circle cx="725.1" cy="292.5" r="4"/><circle cx="729.5" cy="248.0" r="4"/><circle cx="728.5" cy="305.6" r="4"/><circle cx="727.2" cy="277.0" r="4"/><circle cx="734.7" cy="156.9" r="4"/><circle cx="732.2" cy="169.4" r="4"/><circle cx="731.9" cy="296.6" r="4"/><circle cx="740.8" cy="310.8" r="4"/><circle cx="734.7" cy="291.3" r="4"/><circle cx="738.7" cy="283.9" r="4"/><circle cx="730.3" cy="256.3" r="4"/><circle cx="738.9" cy="299.6" r="4"/><circle cx="734.4" cy="306.9" r="4"/><circle cx="740.5" cy="264.8" r="4"/><circle cx="733.5" cy="304.0" r="4"/><circle cx="734.4" cy="184.0" r="4"/><circle cx="731.0" cy="180.7" r="4"/><circle cx="734.2" cy="215.5" r="4"/><circle cx="732.5" cy="160.8" r="4"/><circle cx="734.8" cy="166.0" r="4"/><circle cx="738.0" cy="226.0" r="4"/><circle cx="728.0" cy="272.5" r="4"/><circle cx="733.3" cy="175.9" r="4"/><circle cx="735.7" cy="266.4" r="4"/><circle cx="732.1" cy="186.8" r="4"/><circle cx="731.4" cy="182.5" r="4"/><circle cx="734.1" cy="177.1" r="4"/><circle cx="731.4" cy="224.2" r="4"/><circle cx="733.9" cy="290.6" r="4"/><circle cx="737.2" cy="229.4" r="4"/><circle cx="743.1" cy="296.6" r="4"/><circle cx="732.1" cy="179.5" r="4"/><circle cx="741.1" cy="228.0" r="4"/><circle cx="726.9" cy="265.8" r="4"/><circle cx="732.9" cy="251.3" r="4"/><circle cx="735.4" cy="292.1" r="4"/><circle cx="735.3" cy="173.5" r="4"/><circle cx="739.9" cy="244.7" r="4"/><circle cx="736.2" cy="223.7" r="4"/><circle cx="734.6" cy="180.4" r="4"/><circle cx="743.1" cy="310.3" r="4"/><circle cx="733.2" cy="238.9" r="4"/><circle cx="735.0" cy="188.6" r="4"/><circle cx="724.1" cy="308.4" r="4"/><circle cx="732.0" cy="298.8" r="4"/><circle cx="738.3" cy="301.8" r="4"/><circle cx="731.4" cy="225.7" r="4"/><circle cx="731.0" cy="310.9" r="4"/><circle cx="735.2" cy="234.9" r="4"/><circle cx="735.0" cy="309.4" r="4"/><circle cx="733.4" cy="223.0" r="4"/><circle cx="733.2" cy="311.0" r="4"/><circle cx="743.1" cy="305.6" r="4"/><circle cx="731.4" cy="303.8" r="4"/><circle cx="727.6" cy="310.7" r="4"/><circle cx="733.8" cy="158.3" r="4"/><circle cx="734.8" cy="288.4" r="4"/><circle cx="733.5" cy="246.3" r="4"/><circle cx="730.9" cy="289.2" r="4"/><circle cx="724.1" cy="310.9" r="4"/><circle cx="735.2" cy="220.7" r="4"/><circle cx="733.7" cy="181.9" r="4"/><circle cx="727.2" cy="228.1" r="4"/><circle cx="734.7" cy="270.8" r="4"/><circle cx="741.8" cy="291.6" r="4"/><circle cx="724.1" cy="308.6" r="4"/><circle cx="737.8" cy="307.4" r="4"/><circle cx="729.8" cy="251.9" r="4"/><circle cx="738.3" cy="306.5" r="4"/><circle cx="733.5" cy="166.6" r="4"/><circle cx="740.6" cy="278.6" r="4"/><circle cx="730.3" cy="311.1" r="4"/><circle cx="732.3" cy="310.3" r="4"/><circle cx="735.1" cy="310.9" r="4"/><circle cx="735.0" cy="242.4" r="4"/><circle cx="743.1" cy="265.1" r="4"/><circle cx="733.3" cy="157.0" r="4"/><circle cx="729.3" cy="299.9" r="4"/><circle cx="734.6" cy="250.7" r="4"/><circle cx="735.5" cy="244.5" r="4"/><circle cx="724.7" cy="297.7" r="4"/><circle cx="733.1" cy="278.1" r="4"/><circle cx="733.5" cy="310.8" r="4"/><circle cx="740.0" cy="280.1" r="4"/><circle cx="739.8" cy="299.2" r="4"/><circle cx="735.5" cy="308.7" r="4"/><circle cx="737.6" cy="301.2" r="4"/><circle cx="729.8" cy="263.1" r="4"/><circle cx="734.3" cy="241.1" r="4"/><circle cx="743.1" cy="301.6" r="4"/><circle cx="729.3" cy="223.1" r="4"/><circle cx="727.0" cy="276.6" r="4"/><circle cx="733.0" cy="310.5" r="4"/><circle cx="730.4" cy="278.8" r="4"/><circle cx="733.0" cy="309.0" r="4"/><circle cx="731.6" cy="206.4" r="4"/><circle cx="735.0" cy="176.8" r="4"/><circle cx="730.8" cy="247.1" r="4"/><circle cx="743.1" cy="284.9" r="4"/><circle cx="732.4" cy="311.1" r="4"/><circle cx="731.2" cy="292.7" r="4"/><circle cx="733.4" cy="197.3" r="4"/><circle cx="732.8" cy="274.0" r="4"/><circle cx="730.1" cy="279.8" r="4"/><circle cx="733.8" cy="251.2" r="4"/><circle cx="732.3" cy="309.8" r="4"/><circle cx="735.0" cy="173.2" r="4"/><circle cx="733.7" cy="309.7" r="4"/><circle cx="730.9" cy="254.3" r="4"/><circle cx="725.0" cy="282.4" r="4"/><circle cx="735.6" cy="281.9" r="4"/><circle cx="735.5" cy="307.7" r="4"/><circle cx="734.2" cy="195.0" r="4"/><circle cx="739.1" cy="241.3" r="4"/><circle cx="731.1" cy="311.0" r="4"/><circle cx="734.6" cy="237.7" r="4"/><circle cx="726.2" cy="266.8" r="4"/><circle cx="724.2" cy="286.7" r="4"/><circle cx="736.4" cy="296.6" r="4"/><circle cx="724.1" cy="262.2" r="4"/><circle cx="734.5" cy="206.0" r="4"/><circle cx="734.2" cy="174.0" r="4"/><circle cx="729.3" cy="300.0" r="4"/><circle cx="733.3" cy="268.3" r="4"/><circle cx="737.2" cy="233.6" r="4"/><circle cx="731.1" cy="177.6" r="4"/><circle cx="727.5" cy="308.9" r="4"/><circle cx="736.7" cy="286.9" r="4"/><circle cx="733.6" cy="279.0" r="4"/><circle cx="743.1" cy="310.0" r="4"/><circle cx="734.8" cy="158.7" r="4"/><circle cx="735.7" cy="239.9" r="4"/><circle cx="737.3" cy="300.0" r="4"/><circle cx="732.0" cy="235.3" r="4"/><circle cx="729.2" cy="262.6" r="4"/><circle cx="724.1" cy="308.2" r="4"/><circle cx="731.8" cy="217.1" r="4"/><circle cx="724.1" cy="308.9" r="4"/><circle cx="732.6" cy="297.7" r="4"/><circle cx="730.9" cy="183.7" r="4"/><circle cx="735.6" cy="280.7" r="4"/><circle cx="733.9" cy="156.9" r="4"/><circle cx="725.5" cy="306.4" r="4"/><circle cx="740.2" cy="275.5" r="4"/><circle cx="734.1" cy="187.0" r="4"/><circle cx="726.5" cy="304.1" r="4"/><circle cx="733.2" cy="280.6" r="4"/><circle cx="738.2" cy="227.0" r="4"/><circle cx="730.7" cy="270.8" r="4"/><circle cx="732.6" cy="166.0" r="4"/><circle cx="738.7" cy="237.8" r="4"/><circle cx="734.8" cy="215.8" r="4"/><circle cx="731.4" cy="245.1" r="4"/><circle cx="726.4" cy="280.9" r="4"/><circle cx="724.7" cy="242.5" r="4"/><circle cx="724.1" cy="311.1" r="4"/><circle cx="734.2" cy="186.7" r="4"/><circle cx="733.9" cy="239.5" r="4"/><circle cx="733.4" cy="171.0" r="4"/><circle cx="728.5" cy="223.0" r="4"/><circle cx="731.1" cy="186.3" r="4"/><circle cx="738.0" cy="308.7" r="4"/><circle cx="724.1" cy="302.6" r="4"/><circle cx="732.0" cy="219.7" r="4"/><circle cx="732.8" cy="206.0" r="4"/><circle cx="728.5" cy="306.8" r="4"/><circle cx="729.5" cy="298.0" r="4"/><circle cx="730.8" cy="255.3" r="4"/><circle cx="733.8" cy="164.7" r="4"/><circle cx="741.0" cy="309.8" r="4"/><circle cx="733.6" cy="198.1" r="4"/><circle cx="733.7" cy="237.8" r="4"/><circle cx="729.6" cy="234.5" r="4"/><circle cx="732.9" cy="289.5" r="4"/><circle cx="741.2" cy="311.0" r="4"/><circle cx="733.7" cy="309.6" r="4"/><circle cx="731.8" cy="218.4" r="4"/><circle cx="730.4" cy="210.6" r="4"/><circle cx="735.8" cy="209.9" r="4"/><circle cx="734.4" cy="191.5" r="4"/><circle cx="736.0" cy="283.7" r="4"/><circle cx="733.4" cy="272.0" r="4"/><circle cx="734.2" cy="256.8" r="4"/><circle cx="732.5" cy="164.6" r="4"/><circle cx="738.5" cy="283.6" r="4"/><circle cx="736.5" cy="275.3" r="4"/><circle cx="731.3" cy="239.7" r="4"/><circle cx="724.1" cy="269.1" r="4"/><circle cx="730.2" cy="309.7" r="4"/><circle cx="732.5" cy="201.2" r="4"/><circle cx="737.0" cy="208.0" r="4"/><circle cx="728.2" cy="238.8" r="4"/><circle cx="741.3" cy="309.0" r="4"/><circle cx="730.0" cy="242.8" r="4"/><circle cx="735.2" cy="194.8" r="4"/><circle cx="732.1" cy="207.5" r="4"/><circle cx="729.9" cy="299.9" r="4"/><circle cx="734.0" cy="273.1" r="4"/><circle cx="734.7" cy="167.1" r="4"/><circle cx="736.2" cy="308.2" r="4"/><circle cx="728.8" cy="285.9" r="4"/><circle cx="739.1" cy="291.4" r="4"/><circle cx="736.8" cy="305.0" r="4"/><circle cx="730.8" cy="275.4" r="4"/><circle cx="736.8" cy="176.7" r="4"/><circle cx="726.2" cy="275.4" r="4"/><circle cx="724.1" cy="290.5" r="4"/><circle cx="733.9" cy="308.8" r="4"/><circle cx="735.8" cy="233.7" r="4"/><circle cx="727.7" cy="284.7" r="4"/><circle cx="742.0" cy="299.9" r="4"/><circle cx="732.0" cy="205.0" r="4"/><circle cx="731.9" cy="201.4" r="4"/><circle cx="742.7" cy="288.6" r="4"/><circle cx="726.3" cy="266.1" r="4"/><circle cx="738.8" cy="231.4" r="4"/><circle cx="732.1" cy="218.2" r="4"/><circle cx="736.6" cy="190.2" r="4"/><circle cx="732.8" cy="161.3" r="4"/><circle cx="727.4" cy="294.3" r="4"/><circle cx="728.0" cy="285.5" r="4"/><circle cx="739.6" cy="281.9" r="4"/><circle cx="743.1" cy="287.2" r="4"/><circle cx="736.0" cy="270.2" r="4"/><circle cx="733.1" cy="166.3" r="4"/><circle cx="739.4" cy="307.4" r="4"/><circle cx="734.5" cy="286.5" r="4"/><circle cx="735.6" cy="177.8" r="4"/><circle cx="727.9" cy="276.2" r="4"/><circle cx="734.3" cy="259.4" r="4"/><circle cx="743.1" cy="282.6" r="4"/><circle cx="731.4" cy="295.0" r="4"/><circle cx="731.1" cy="291.6" r="4"/><circle cx="734.3" cy="175.6" r="4"/><circle cx="735.5" cy="302.3" r="4"/><circle cx="729.6" cy="298.3" r="4"/><circle cx="735.6" cy="288.5" r="4"/><circle cx="734.1" cy="298.7" r="4"/><circle cx="741.2" cy="289.3" r="4"/><circle cx="733.8" cy="284.8" r="4"/><circle cx="731.4" cy="306.4" r="4"/><circle cx="730.3" cy="194.8" r="4"/><circle cx="738.3" cy="307.1" r="4"/><circle cx="735.9" cy="262.7" r="4"/><circle cx="731.6" cy="214.3" r="4"/><circle cx="724.1" cy="247.2" r="4"/><circle cx="743.1" cy="282.3" r="4"/><circle cx="730.5" cy="270.6" r="4"/><circle cx="732.3" cy="198.0" r="4"/><circle cx="729.4" cy="249.6" r="4"/><circle cx="732.8" cy="159.7" r="4"/><circle cx="734.3" cy="158.6" r="4"/><circle cx="728.8" cy="279.7" r="4"/><circle cx="735.7" cy="262.4" r="4"/><circle cx="733.8" cy="156.8" r="4"/><circle cx="742.4" cy="307.3" r="4"/><circle cx="732.7" cy="178.5" r="4"/><circle cx="729.6" cy="309.6" r="4"/><circle cx="743.1" cy="311.2" r="4"/><circle cx="731.3" cy="308.5" r="4"/><circle cx="736.7" cy="306.3" r="4"/><circle cx="741.4" cy="235.5" r="4"/><circle cx="738.9" cy="239.6" r="4"/><circle cx="737.5" cy="310.5" r="4"/><circle cx="731.5" cy="269.4" r="4"/><circle cx="736.8" cy="256.6" r="4"/><circle cx="739.4" cy="310.2" r="4"/><circle cx="743.1" cy="302.6" r="4"/><circle cx="729.5" cy="262.7" r="4"/><circle cx="734.9" cy="233.1" r="4"/><circle cx="731.8" cy="267.8" r="4"/><circle cx="735.9" cy="307.1" r="4"/><circle cx="735.6" cy="301.7" r="4"/><circle cx="735.0" cy="310.4" r="4"/><circle cx="737.2" cy="244.8" r="4"/><circle cx="736.3" cy="192.9" r="4"/><circle cx="729.5" cy="265.3" r="4"/><circle cx="734.0" cy="178.0" r="4"/><circle cx="734.5" cy="202.8" r="4"/><circle cx="734.5" cy="244.0" r="4"/><circle cx="739.0" cy="293.6" r="4"/><circle cx="729.0" cy="277.0" r="4"/><circle cx="734.7" cy="207.5" r="4"/><circle cx="731.1" cy="204.3" r="4"/><circle cx="731.1" cy="295.0" r="4"/><circle cx="735.6" cy="215.0" r="4"/><circle cx="733.4" cy="228.6" r="4"/><circle cx="733.2" cy="229.5" r="4"/><circle cx="732.7" cy="257.8" r="4"/><circle cx="736.4" cy="302.5" r="4"/><circle cx="738.1" cy="240.5" r="4"/><circle cx="733.3" cy="244.3" r="4"/><circle cx="726.1" cy="270.4" r="4"/><circle cx="735.3" cy="310.5" r="4"/><circle cx="729.5" cy="198.5" r="4"/><circle cx="736.2" cy="249.5" r="4"/><circle cx="734.6" cy="308.3" r="4"/><circle cx="731.3" cy="242.3" r="4"/><circle cx="733.4" cy="167.7" r="4"/><circle cx="734.7" cy="161.6" r="4"/><circle cx="729.8" cy="294.2" r="4"/><circle cx="737.9" cy="301.9" r="4"/><circle cx="725.5" cy="295.7" r="4"/><circle cx="732.0" cy="181.8" r="4"/><circle cx="731.4" cy="279.2" r="4"/><circle cx="729.2" cy="224.9" r="4"/><circle cx="736.2" cy="307.7" r="4"/><circle cx="732.6" cy="228.8" r="4"/><circle cx="743.1" cy="301.5" r="4"/><circle cx="728.2" cy="289.7" r="4"/><circle cx="732.5" cy="262.3" r="4"/><circle cx="734.4" cy="176.2" r="4"/><circle cx="739.0" cy="230.7" r="4"/><circle cx="730.9" cy="210.2" r="4"/><circle cx="735.6" cy="288.2" r="4"/><circle cx="733.5" cy="270.7" r="4"/><circle cx="736.7" cy="270.3" r="4"/><circle cx="725.7" cy="303.2" r="4"/><circle cx="735.0" cy="292.3" r="4"/><circle cx="724.1" cy="304.8" r="4"/><circle cx="726.2" cy="300.8" r="4"/><circle cx="729.2" cy="246.2" r="4"/><circle cx="727.7" cy="233.0" r="4"/><circle cx="736.5" cy="292.5" r="4"/><circle cx="743.1" cy="293.5" r="4"/><circle cx="736.6" cy="311.1" r="4"/><circle cx="730.9" cy="291.9" r="4"/><circle cx="733.2" cy="289.2" r="4"/><circle cx="745.1" cy="287.9" r="4"/><circle cx="720.1" cy="282.7" r="4"/><circle cx="736.2" cy="313.3" r="4"/><circle cx="737.3" cy="275.7" r="4"/><circle cx="737.7" cy="274.4" r="4"/><circle cx="742.8" cy="286.1" r="4"/><circle cx="740.1" cy="260.1" r="4"/><circle cx="715.5" cy="272.5" r="4"/><circle cx="734.2" cy="260.0" r="4"/><circle cx="729.7" cy="299.1" r="4"/><circle cx="760.5" cy="259.6" r="4"/><circle cx="730.3" cy="295.9" r="4"/><circle cx="714.9" cy="275.1" r="4"/><circle cx="725.9" cy="269.8" r="4"/><circle cx="733.0" cy="295.3" r="4"/><circle cx="732.6" cy="305.3" r="4"/><circle cx="729.0" cy="273.7" r="4"/><circle cx="714.8" cy="285.3" r="4"/><circle cx="741.6" cy="285.2" r="4"/><circle cx="729.3" cy="280.9" r="4"/><circle cx="736.4" cy="294.6" r="4"/><circle cx="735.2" cy="278.0" r="4"/><circle cx="728.6" cy="258.7" r="4"/><circle cx="748.9" cy="271.1" r="4"/><circle cx="737.7" cy="284.7" r="4"/><circle cx="742.2" cy="278.9" r="4"/><circle cx="739.9" cy="278.7" r="4"/><circle cx="718.2" cy="266.1" r="4"/><circle cx="725.3" cy="268.3" r="4"/><circle cx="740.2" cy="294.8" r="4"/><circle cx="734.4" cy="300.5" r="4"/><circle cx="731.0" cy="299.7" r="4"/><circle cx="744.6" cy="273.9" r="4"/><circle cx="738.0" cy="272.5" r="4"/><circle cx="732.1" cy="276.8" r="4"/><circle cx="731.5" cy="303.4" r="4"/><circle cx="729.1" cy="299.8" r="4"/><circle cx="729.5" cy="289.6" r="4"/><circle cx="721.5" cy="258.7" r="4"/><circle cx="724.7" cy="287.2" r="4"/><circle cx="752.2" cy="274.4" r="4"/><circle cx="734.5" cy="302.0" r="4"/><circle cx="721.9" cy="258.6" r="4"/><circle cx="740.8" cy="273.0" r="4"/><circle cx="715.9" cy="279.2" r="4"/><circle cx="745.1" cy="257.7" r="4"/><circle cx="735.3" cy="263.5" r="4"/><circle cx="729.2" cy="314.3" r="4"/><circle cx="706.7" cy="269.2" r="4"/><circle cx="746.8" cy="262.4" r="4"/><circle cx="739.2" cy="274.2" r="4"/><circle cx="721.0" cy="283.0" r="4"/><circle cx="738.0" cy="298.4" r="4"/><circle cx="726.4" cy="306.6" r="4"/><circle cx="716.9" cy="264.0" r="4"/><circle cx="727.4" cy="271.2" r="4"/><circle cx="740.4" cy="307.0" r="4"/><circle cx="736.7" cy="293.3" r="4"/><circle cx="717.5" cy="284.7" r="4"/><circle cx="746.3" cy="260.3" r="4"/><circle cx="736.8" cy="304.8" r="4"/><circle cx="733.8" cy="294.1" r="4"/><circle cx="734.4" cy="284.5" r="4"/><circle cx="731.1" cy="279.6" r="4"/><circle cx="738.5" cy="306.0" r="4"/><circle cx="724.7" cy="278.8" r="4"/><circle cx="731.4" cy="260.0" r="4"/><circle cx="729.0" cy="300.7" r="4"/><circle cx="737.3" cy="286.3" r="4"/><circle cx="719.7" cy="257.4" r="4"/><circle cx="729.3" cy="282.7" r="4"/><circle cx="747.5" cy="282.9" r="4"/><circle cx="728.1" cy="272.4" r="4"/><circle cx="731.4" cy="298.4" r="4"/><circle cx="731.5" cy="287.4" r="4"/><circle cx="731.4" cy="312.8" r="4"/><circle cx="707.1" cy="272.9" r="4"/><circle cx="733.6" cy="276.2" r="4"/><circle cx="742.7" cy="281.5" r="4"/><circle cx="732.9" cy="283.6" r="4"/><circle cx="741.3" cy="267.5" r="4"/><circle cx="741.2" cy="258.4" r="4"/><circle cx="729.8" cy="312.4" r="4"/><circle cx="743.3" cy="290.1" r="4"/><circle cx="712.7" cy="277.3" r="4"/><circle cx="730.8" cy="276.2" r="4"/><circle cx="726.2" cy="269.3" r="4"/><circle cx="738.3" cy="286.7" r="4"/><circle cx="724.3" cy="271.6" r="4"/><circle cx="723.5" cy="276.9" r="4"/><circle cx="730.6" cy="258.4" r="4"/><circle cx="722.1" cy="267.3" r="4"/><circle cx="740.6" cy="260.8" r="4"/><circle cx="717.8" cy="267.7" r="4"/><circle cx="724.3" cy="301.3" r="4"/><circle cx="726.0" cy="274.8" r="4"/><circle cx="723.7" cy="257.9" r="4"/><circle cx="719.9" cy="257.7" r="4"/><circle cx="743.4" cy="266.8" r="4"/><circle cx="721.3" cy="270.1" r="4"/><circle cx="743.5" cy="287.5" r="4"/><circle cx="730.0" cy="299.4" r="4"/><circle cx="723.8" cy="284.4" r="4"/><circle cx="749.4" cy="279.7" r="4"/><circle cx="732.5" cy="284.4" r="4"/><circle cx="722.3" cy="260.2" r="4"/><circle cx="729.2" cy="272.4" r="4"/><circle cx="747.0" cy="266.0" r="4"/><circle cx="724.3" cy="271.5" r="4"/><circle cx="741.9" cy="284.8" r="4"/><circle cx="734.8" cy="301.5" r="4"/><circle cx="722.5" cy="258.8" r="4"/><circle cx="744.8" cy="268.4" r="4"/><circle cx="736.0" cy="297.4" r="4"/><circle cx="730.6" cy="303.9" r="4"/><circle cx="715.9" cy="274.7" r="4"/><circle cx="744.2" cy="282.5" r="4"/><circle cx="734.6" cy="302.9" r="4"/><circle cx="733.8" cy="280.0" r="4"/><circle cx="742.7" cy="269.2" r="4"/><circle cx="736.0" cy="280.7" r="4"/><circle cx="758.1" cy="260.8" r="4"/><circle cx="729.8" cy="272.8" r="4"/><circle cx="735.8" cy="275.9" r="4"/><circle cx="740.6" cy="298.1" r="4"/><circle cx="737.8" cy="290.1" r="4"/><circle cx="721.4" cy="268.7" r="4"/><circle cx="731.8" cy="281.4" r="4"/><circle cx="744.6" cy="276.0" r="4"/><circle cx="743.3" cy="293.6" r="4"/><circle cx="721.2" cy="297.2" r="4"/><circle cx="737.3" cy="293.5" r="4"/><circle cx="724.9" cy="294.5" r="4"/><circle cx="735.0" cy="275.4" r="4"/><circle cx="752.6" cy="275.3" r="4"/><circle cx="738.4" cy="279.1" r="4"/><circle cx="741.0" cy="281.0" r="4"/><circle cx="735.7" cy="286.8" r="4"/><circle cx="740.0" cy="269.9" r="4"/><circle cx="743.2" cy="259.6" r="4"/><circle cx="720.6" cy="265.7" r="4"/><circle cx="735.4" cy="300.2" r="4"/><circle cx="737.0" cy="315.2" r="4"/><circle cx="734.1" cy="303.6" r="4"/><circle cx="730.1" cy="297.0" r="4"/><circle cx="734.2" cy="285.1" r="4"/><circle cx="732.1" cy="261.7" r="4"/><circle cx="726.7" cy="290.0" r="4"/><circle cx="731.4" cy="301.0" r="4"/><circle cx="743.9" cy="258.1" r="4"/><circle cx="753.1" cy="261.7" r="4"/><circle cx="736.5" cy="282.0" r="4"/><circle cx="733.2" cy="299.3" r="4"/><circle cx="747.5" cy="280.5" r="4"/><circle cx="741.0" cy="278.3" r="4"/><circle cx="733.0" cy="265.3" r="4"/><circle cx="736.4" cy="261.1" r="4"/><circle cx="731.0" cy="295.5" r="4"/><circle cx="736.1" cy="275.3" r="4"/><circle cx="734.4" cy="281.5" r="4"/><circle cx="735.5" cy="288.2" r="4"/><circle cx="738.2" cy="266.0" r="4"/><circle cx="739.4" cy="273.8" r="4"/><circle cx="738.4" cy="273.0" r="4"/><circle cx="717.6" cy="263.0" r="4"/><circle cx="734.7" cy="298.8" r="4"/><circle cx="733.1" cy="301.2" r="4"/><circle cx="734.4" cy="302.2" r="4"/><circle cx="719.1" cy="259.8" r="4"/><circle cx="750.5" cy="257.4" r="4"/><circle cx="730.6" cy="287.4" r="4"/><circle cx="732.7" cy="258.2" r="4"/><circle cx="727.5" cy="277.0" r="4"/><circle cx="737.6" cy="313.1" r="4"/><circle cx="735.3" cy="269.0" r="4"/><circle cx="733.7" cy="262.5" r="4"/><circle cx="727.7" cy="268.1" r="4"/><circle cx="727.1" cy="257.1" r="4"/><circle cx="726.8" cy="290.5" r="4"/><circle cx="727.0" cy="305.1" r="4"/><circle cx="725.5" cy="301.5" r="4"/><circle cx="742.2" cy="264.3" r="4"/><circle cx="727.0" cy="263.2" r="4"/><circle cx="731.6" cy="298.8" r="4"/><circle cx="748.4" cy="261.6" r="4"/><circle cx="751.3" cy="277.9" r="4"/><circle cx="745.2" cy="276.1" r="4"/><circle cx="734.9" cy="266.2" r="4"/><circle cx="737.3" cy="303.2" r="4"/><circle cx="728.5" cy="296.9" r="4"/><circle cx="737.6" cy="272.0" r="4"/><circle cx="720.2" cy="263.7" r="4"/><circle cx="753.6" cy="272.1" r="4"/><circle cx="740.8" cy="287.8" r="4"/><circle cx="757.0" cy="272.0" r="4"/><circle cx="732.3" cy="306.8" r="4"/><circle cx="726.5" cy="283.7" r="4"/><circle cx="735.1" cy="266.8" r="4"/><circle cx="740.7" cy="277.6" r="4"/><circle cx="753.5" cy="260.5" r="4"/><circle cx="744.1" cy="268.9" r="4"/><circle cx="729.7" cy="297.4" r="4"/><circle cx="721.0" cy="269.5" r="4"/><circle cx="729.4" cy="277.8" r="4"/><circle cx="740.2" cy="293.8" r="4"/><circle cx="730.3" cy="281.9" r="4"/><circle cx="735.2" cy="294.1" r="4"/><circle cx="726.3" cy="287.8" r="4"/><circle cx="742.3" cy="267.7" r="4"/><circle cx="728.2" cy="292.6" r="4"/><circle cx="731.8" cy="294.4" r="4"/><circle cx="744.4" cy="299.8" r="4"/><circle cx="726.8" cy="263.8" r="4"/><circle cx="735.0" cy="297.8" r="4"/><circle cx="736.2" cy="290.2" r="4"/><circle cx="742.0" cy="283.4" r="4"/><circle cx="734.1" cy="270.4" r="4"/><circle cx="733.9" cy="263.7" r="4"/><circle cx="734.2" cy="265.5" r="4"/><circle cx="731.9" cy="285.9" r="4"/><circle cx="737.0" cy="292.0" r="4"/><circle cx="733.4" cy="292.1" r="4"/><circle cx="740.1" cy="278.8" r="4"/><circle cx="729.3" cy="264.6" r="4"/><circle cx="741.9" cy="280.5" r="4"/><circle cx="737.1" cy="263.3" r="4"/><circle cx="718.4" cy="297.7" r="4"/><circle cx="729.4" cy="265.0" r="4"/><circle cx="745.0" cy="278.3" r="4"/><circle cx="732.0" cy="275.9" r="4"/><circle cx="734.5" cy="314.4" r="4"/><circle cx="744.0" cy="259.5" r="4"/><circle cx="730.6" cy="303.2" r="4"/><circle cx="720.4" cy="263.5" r="4"/><circle cx="733.5" cy="272.8" r="4"/><circle cx="735.4" cy="298.7" r="4"/><circle cx="753.2" cy="268.3" r="4"/><circle cx="706.7" cy="257.0" r="4"/><circle cx="746.8" cy="261.2" r="4"/><circle cx="737.7" cy="279.3" r="4"/><circle cx="732.2" cy="304.6" r="4"/><circle cx="742.3" cy="264.6" r="4"/><circle cx="743.8" cy="268.2" r="4"/><circle cx="737.0" cy="270.9" r="4"/><circle cx="739.3" cy="306.8" r="4"/><circle cx="743.0" cy="276.6" r="4"/><circle cx="728.5" cy="290.1" r="4"/><circle cx="730.3" cy="256.4" r="4"/><circle cx="712.2" cy="260.9" r="4"/><circle cx="712.8" cy="259.1" r="4"/><circle cx="726.3" cy="279.6" r="4"/><circle cx="732.7" cy="292.8" r="4"/><circle cx="735.9" cy="312.6" r="4"/><circle cx="716.1" cy="273.7" r="4"/><circle cx="738.0" cy="306.1" r="4"/><circle cx="737.0" cy="266.0" r="4"/><circle cx="739.1" cy="290.7" r="4"/><circle cx="724.9" cy="258.2" r="4"/><circle cx="728.8" cy="297.0" r="4"/><circle cx="727.5" cy="306.4" r="4"/><circle cx="750.0" cy="282.5" r="4"/><circle cx="736.0" cy="271.1" r="4"/><circle cx="732.1" cy="289.1" r="4"/><circle cx="734.8" cy="283.9" r="4"/><circle cx="743.7" cy="270.8" r="4"/><circle cx="732.2" cy="300.2" r="4"/><circle cx="725.6" cy="271.9" r="4"/><circle cx="734.9" cy="297.7" r="4"/><circle cx="721.8" cy="263.8" r="4"/><circle cx="731.3" cy="257.7" r="4"/><circle cx="732.8" cy="286.6" r="4"/><circle cx="721.1" cy="257.3" r="4"/><circle cx="721.9" cy="280.9" r="4"/><circle cx="748.0" cy="258.9" r="4"/><circle cx="726.3" cy="275.2" r="4"/><circle cx="736.5" cy="302.3" r="4"/><circle cx="733.9" cy="268.9" r="4"/><circle cx="736.6" cy="263.1" r="4"/><circle cx="727.3" cy="312.2" r="4"/><circle cx="733.6" cy="312.3" r="4"/><circle cx="735.4" cy="275.4" r="4"/><circle cx="738.4" cy="259.4" r="4"/><circle cx="730.7" cy="271.6" r="4"/><circle cx="727.8" cy="271.3" r="4"/><circle cx="728.4" cy="293.9" r="4"/><circle cx="749.4" cy="261.3" r="4"/><circle cx="725.3" cy="277.5" r="4"/><circle cx="733.2" cy="307.6" r="4"/><circle cx="738.0" cy="293.5" r="4"/><circle cx="729.3" cy="295.1" r="4"/><circle cx="726.7" cy="297.5" r="4"/><circle cx="760.5" cy="260.6" r="4"/><circle cx="733.7" cy="275.5" r="4"/><circle cx="730.6" cy="272.5" r="4"/><circle cx="751.7" cy="261.8" r="4"/><circle cx="740.3" cy="295.7" r="4"/><circle cx="741.6" cy="293.1" r="4"/><circle cx="730.8" cy="302.1" r="4"/><circle cx="733.8" cy="295.2" r="4"/><circle cx="744.0" cy="291.2" r="4"/><circle cx="742.4" cy="276.4" r="4"/><circle cx="729.0" cy="272.1" r="4"/><circle cx="754.8" cy="258.0" r="4"/><circle cx="744.4" cy="256.3" r="4"/><circle cx="734.5" cy="303.2" r="4"/><circle cx="727.2" cy="280.9" r="4"/><circle cx="725.2" cy="287.2" r="4"/><circle cx="706.7" cy="257.9" r="4"/><circle cx="714.6" cy="283.5" r="4"/><circle cx="743.7" cy="272.5" r="4"/><circle cx="740.9" cy="272.5" r="4"/><circle cx="731.3" cy="294.1" r="4"/><circle cx="730.5" cy="281.6" r="4"/><circle cx="728.1" cy="274.4" r="4"/><circle cx="734.0" cy="296.6" r="4"/><circle cx="729.0" cy="286.1" r="4"/><circle cx="728.7" cy="296.0" r="4"/><circle cx="732.2" cy="288.1" r="4"/><circle cx="738.5" cy="275.2" r="4"/><circle cx="733.4" cy="281.1" r="4"/><circle cx="734.2" cy="260.1" r="4"/><circle cx="735.7" cy="306.6" r="4"/><circle cx="739.8" cy="265.7" r="4"/><circle cx="734.1" cy="259.1" r="4"/><circle cx="725.6" cy="263.5" r="4"/><circle cx="734.7" cy="307.7" r="4"/><circle cx="736.6" cy="276.5" r="4"/><circle cx="717.2" cy="275.0" r="4"/><circle cx="714.5" cy="267.5" r="4"/><circle cx="744.8" cy="267.9" r="4"/><circle cx="757.7" cy="259.9" r="4"/><circle cx="749.7" cy="264.0" r="4"/><circle cx="740.5" cy="278.7" r="4"/><circle cx="731.8" cy="277.8" r="4"/><circle cx="753.2" cy="264.9" r="4"/><circle cx="727.8" cy="266.7" r="4"/><circle cx="739.8" cy="303.5" r="4"/><circle cx="734.7" cy="270.8" r="4"/><circle cx="733.7" cy="302.2" r="4"/><circle cx="744.9" cy="272.2" r="4"/><circle cx="732.4" cy="272.6" r="4"/><circle cx="747.3" cy="275.4" r="4"/><circle cx="707.9" cy="264.4" r="4"/><circle cx="747.1" cy="288.5" r="4"/><circle cx="739.6" cy="291.4" r="4"/><circle cx="738.0" cy="267.2" r="4"/><circle cx="731.1" cy="296.4" r="4"/><circle cx="742.3" cy="283.6" r="4"/><circle cx="712.6" cy="256.6" r="4"/><circle cx="724.2" cy="291.8" r="4"/><circle cx="722.9" cy="286.1" r="4"/><circle cx="736.6" cy="275.3" r="4"/><circle cx="749.6" cy="282.6" r="4"/><circle cx="729.4" cy="280.3" r="4"/><circle cx="725.2" cy="264.7" r="4"/><circle cx="721.4" cy="281.7" r="4"/><circle cx="740.7" cy="271.5" r="4"/><circle cx="747.3" cy="269.5" r="4"/><circle cx="723.5" cy="284.4" r="4"/><circle cx="735.8" cy="272.6" r="4"/><circle cx="731.0" cy="271.8" r="4"/><circle cx="729.9" cy="278.3" r="4"/><circle cx="735.5" cy="290.9" r="4"/><circle cx="757.7" cy="267.6" r="4"/><circle cx="712.1" cy="267.4" r="4"/><circle cx="736.9" cy="261.6" r="4"/><circle cx="728.0" cy="270.4" r="4"/><circle cx="733.7" cy="262.1" r="4"/><circle cx="725.1" cy="269.9" r="4"/><circle cx="722.3" cy="285.3" r="4"/><circle cx="740.5" cy="271.0" r="4"/><circle cx="732.5" cy="300.1" r="4"/><circle cx="732.1" cy="295.6" r="4"/><circle cx="741.2" cy="264.1" r="4"/><circle cx="729.2" cy="266.9" r="4"/><circle cx="728.6" cy="297.1" r="4"/><circle cx="733.6" cy="303.6" r="4"/><circle cx="718.6" cy="283.1" r="4"/><circle cx="730.9" cy="302.3" r="4"/><circle cx="738.1" cy="290.9" r="4"/><circle cx="733.7" cy="292.1" r="4"/><circle cx="741.1" cy="264.3" r="4"/><circle cx="731.4" cy="280.5" r="4"/><circle cx="710.9" cy="278.5" r="4"/><circle cx="735.4" cy="258.5" r="4"/><circle cx="730.3" cy="307.1" r="4"/><circle cx="740.4" cy="272.3" r="4"/><circle cx="735.4" cy="278.1" r="4"/><circle cx="730.1" cy="281.6" r="4"/><circle cx="737.0" cy="263.9" r="4"/><circle cx="738.9" cy="273.9" r="4"/><circle cx="731.2" cy="299.5" r="4"/><circle cx="732.8" cy="296.8" r="4"/><circle cx="735.6" cy="288.3" r="4"/><circle cx="720.5" cy="274.3" r="4"/><circle cx="712.0" cy="273.4" r="4"/><circle cx="749.5" cy="274.9" r="4"/><circle cx="740.5" cy="273.3" r="4"/><circle cx="736.6" cy="275.4" r="4"/><circle cx="732.4" cy="258.2" r="4"/><circle cx="729.9" cy="264.9" r="4"/><circle cx="730.5" cy="295.3" r="4"/><circle cx="732.3" cy="305.3" r="4"/><circle cx="718.4" cy="266.5" r="4"/><circle cx="734.9" cy="269.7" r="4"/><circle cx="726.3" cy="275.0" r="4"/><circle cx="737.6" cy="278.1" r="4"/><circle cx="732.7" cy="293.3" r="4"/><circle cx="746.7" cy="287.9" r="4"/><circle cx="728.4" cy="268.9" r="4"/><circle cx="722.2" cy="265.9" r="4"/><circle cx="747.3" cy="288.6" r="4"/><circle cx="734.1" cy="267.6" r="4"/><circle cx="743.4" cy="268.1" r="4"/><circle cx="729.6" cy="283.4" r="4"/><circle cx="739.1" cy="274.1" r="4"/><circle cx="727.1" cy="267.2" r="4"/><circle cx="733.5" cy="258.2" r="4"/><circle cx="734.6" cy="298.4" r="4"/><circle cx="748.7" cy="292.0" r="4"/><circle cx="771.0" cy="296.8" r="4"/><circle cx="767.1" cy="286.6" r="4"/><circle cx="768.9" cy="287.2" r="4"/><circle cx="709.2" cy="274.1" r="4"/><circle cx="723.1" cy="263.8" r="4"/><circle cx="761.7" cy="290.4" r="4"/><circle cx="737.2" cy="279.0" r="4"/><circle cx="758.1" cy="290.1" r="4"/><circle cx="742.8" cy="280.2" r="4"/><circle cx="744.4" cy="278.8" r="4"/><circle cx="732.9" cy="285.3" r="4"/><circle cx="730.2" cy="261.7" r="4"/><circle cx="739.6" cy="296.2" r="4"/><circle cx="730.1" cy="270.6" r="4"/><circle cx="751.4" cy="297.2" r="4"/><circle cx="731.5" cy="282.8" r="4"/><circle cx="763.4" cy="290.0" r="4"/><circle cx="768.6" cy="268.7" r="4"/><circle cx="702.5" cy="281.0" r="4"/><circle cx="740.4" cy="275.8" r="4"/><circle cx="766.5" cy="292.5" r="4"/><circle cx="762.2" cy="287.1" r="4"/><circle cx="762.5" cy="290.2" r="4"/><circle cx="703.0" cy="268.7" r="4"/><circle cx="772.7" cy="274.8" r="4"/><circle cx="758.5" cy="284.9" r="4"/><circle cx="719.3" cy="274.5" r="4"/><circle cx="760.7" cy="289.9" r="4"/><circle cx="728.8" cy="289.9" r="4"/><circle cx="720.6" cy="266.7" r="4"/><circle cx="701.6" cy="286.6" r="4"/><circle cx="714.6" cy="269.8" r="4"/><circle cx="743.1" cy="270.9" r="4"/><circle cx="752.4" cy="265.8" r="4"/><circle cx="744.3" cy="299.5" r="4"/><circle cx="708.6" cy="284.4" r="4"/><circle cx="709.8" cy="288.3" r="4"/><circle cx="721.3" cy="262.1" r="4"/><circle cx="772.2" cy="274.2" r="4"/><circle cx="732.1" cy="284.3" r="4"/><circle cx="706.2" cy="282.8" r="4"/><circle cx="711.6" cy="279.7" r="4"/><circle cx="761.3" cy="284.8" r="4"/><circle cx="753.2" cy="268.7" r="4"/><circle cx="739.9" cy="93.7" r="4"/><circle cx="739.5" cy="119.2" r="4"/><circle cx="728.3" cy="113.0" r="4"/><circle cx="730.3" cy="114.4" r="4"/><circle cx="727.4" cy="116.3" r="4"/><circle cx="798.5" cy="269.4" r="4"/><circle cx="788.2" cy="285.4" r="4"/><circle cx="769.9" cy="298.0" r="4"/><circle cx="769.9" cy="301.8" r="4"/><circle cx="776.6" cy="270.0" r="4"/><circle cx="774.7" cy="276.7" r="4"/><circle cx="768.9" cy="284.4" r="4"/><circle cx="701.3" cy="275.7" r="4"/><circle cx="698.0" cy="286.4" r="4"/><circle cx="706.1" cy="296.0" r="4"/><circle cx="728.3" cy="128.9" r="4"/><circle cx="729.3" cy="134.7" r="4"/><circle cx="727.4" cy="140.5" r="4"/><circle cx="723.5" cy="145.3" r="4"/><circle cx="741.9" cy="146.3" r="4"/><circle cx="740.9" cy="164.6" r="4"/><circle cx="739.0" cy="175.3" r="4"/><circle cx="738.0" cy="179.1" r="4"/></g>
<g fill="#3E8E9C"><circle cx="720.2" cy="92.6" r="4"/><circle cx="720.2" cy="105.3" r="4"/><circle cx="716.4" cy="110.5" r="4"/><circle cx="686.2" cy="118.6" r="4"/><circle cx="713.8" cy="123.5" r="4"/><circle cx="717.7" cy="123.1" r="4"/><circle cx="718.7" cy="128.9" r="4"/><circle cx="720.6" cy="134.7" r="4"/><circle cx="709.0" cy="133.7" r="4"/><circle cx="709.0" cy="136.6" r="4"/><circle cx="720.2" cy="156.9" r="4"/><circle cx="694.5" cy="161.4" r="4"/><circle cx="695.5" cy="164.1" r="4"/><circle cx="702.2" cy="166.8" r="4"/><circle cx="708.4" cy="211.6" r="4"/><circle cx="707.5" cy="230.7" r="4"/><circle cx="710.0" cy="247.7" r="4"/><circle cx="710.9" cy="255.5" r="4"/><circle cx="709.0" cy="250.6" r="4"/><circle cx="712.9" cy="252.6" r="4"/><circle cx="716.6" cy="250.1" r="4"/><circle cx="722.6" cy="187.5" r="4"/><circle cx="714.5" cy="211.7" r="4"/><circle cx="722.3" cy="228.7" r="4"/><circle cx="715.9" cy="256.4" r="4"/><circle cx="714.2" cy="190.1" r="4"/><circle cx="718.3" cy="193.2" r="4"/><circle cx="719.3" cy="250.5" r="4"/><circle cx="712.2" cy="170.2" r="4"/><circle cx="723.7" cy="182.7" r="4"/><circle cx="722.7" cy="197.2" r="4"/><circle cx="713.5" cy="186.4" r="4"/><circle cx="711.9" cy="252.6" r="4"/><circle cx="717.9" cy="211.9" r="4"/><circle cx="722.3" cy="196.8" r="4"/><circle cx="714.0" cy="244.5" r="4"/><circle cx="720.3" cy="193.5" r="4"/><circle cx="719.3" cy="209.9" r="4"/><circle cx="715.4" cy="237.1" r="4"/><circle cx="716.9" cy="252.5" r="4"/><circle cx="716.5" cy="168.2" r="4"/><circle cx="713.3" cy="214.5" r="4"/><circle cx="718.8" cy="246.9" r="4"/><circle cx="714.7" cy="213.6" r="4"/><circle cx="714.6" cy="177.9" r="4"/><circle cx="719.9" cy="224.8" r="4"/><circle cx="711.4" cy="228.7" r="4"/><circle cx="720.1" cy="237.5" r="4"/><circle cx="717.8" cy="228.6" r="4"/><circle cx="723.6" cy="244.5" r="4"/><circle cx="716.6" cy="219.5" r="4"/><circle cx="721.5" cy="215.6" r="4"/><circle cx="721.1" cy="228.1" r="4"/><circle cx="721.2" cy="194.2" r="4"/><circle cx="718.5" cy="187.4" r="4"/><circle cx="718.0" cy="167.0" r="4"/><circle cx="722.9" cy="232.8" r="4"/><circle cx="722.4" cy="210.4" r="4"/><circle cx="711.1" cy="184.1" r="4"/><circle cx="715.5" cy="216.7" r="4"/><circle cx="721.1" cy="202.1" r="4"/><circle cx="722.3" cy="235.4" r="4"/><circle cx="721.0" cy="195.5" r="4"/><circle cx="719.9" cy="223.8" r="4"/><circle cx="717.1" cy="219.5" r="4"/><circle cx="711.2" cy="240.4" r="4"/><circle cx="713.1" cy="238.2" r="4"/><circle cx="719.8" cy="182.4" r="4"/><circle cx="715.4" cy="207.6" r="4"/><circle cx="711.6" cy="172.8" r="4"/><circle cx="712.2" cy="190.3" r="4"/><circle cx="713.6" cy="229.9" r="4"/><circle cx="719.8" cy="200.8" r="4"/><circle cx="721.7" cy="230.7" r="4"/><circle cx="713.8" cy="224.0" r="4"/><circle cx="718.3" cy="178.3" r="4"/><circle cx="722.1" cy="199.4" r="4"/><circle cx="720.0" cy="185.6" r="4"/><circle cx="718.8" cy="198.7" r="4"/><circle cx="720.9" cy="182.3" r="4"/><circle cx="718.1" cy="212.2" r="4"/><circle cx="711.3" cy="242.5" r="4"/><circle cx="715.3" cy="216.0" r="4"/><circle cx="721.8" cy="188.1" r="4"/><circle cx="716.3" cy="188.0" r="4"/><circle cx="717.8" cy="205.7" r="4"/><circle cx="716.8" cy="194.2" r="4"/><circle cx="719.2" cy="211.8" r="4"/><circle cx="723.5" cy="257.9" r="4"/><circle cx="723.8" cy="196.3" r="4"/><circle cx="712.9" cy="175.2" r="4"/><circle cx="719.9" cy="214.6" r="4"/><circle cx="711.4" cy="220.5" r="4"/><circle cx="720.4" cy="203.3" r="4"/><circle cx="722.3" cy="201.3" r="4"/><circle cx="712.1" cy="234.3" r="4"/><circle cx="720.1" cy="208.6" r="4"/><circle cx="719.7" cy="238.4" r="4"/><circle cx="720.7" cy="255.9" r="4"/><circle cx="722.9" cy="202.0" r="4"/><circle cx="718.8" cy="222.2" r="4"/><circle cx="720.8" cy="220.4" r="4"/><circle cx="717.0" cy="231.1" r="4"/><circle cx="716.5" cy="238.3" r="4"/><circle cx="723.0" cy="234.0" r="4"/><circle cx="712.9" cy="214.5" r="4"/><circle cx="713.7" cy="249.3" r="4"/><circle cx="711.5" cy="185.1" r="4"/><circle cx="719.7" cy="204.3" r="4"/><circle cx="713.2" cy="241.2" r="4"/></g>
<g fill="#C75B43"><circle cx="783.4" cy="70.3" r="4"/><circle cx="798.5" cy="69.0" r="4"/><circle cx="794.6" cy="95.7" r="4"/><circle cx="817.2" cy="110.7" r="4"/><circle cx="745.3" cy="100.3" r="4"/><circle cx="748.6" cy="114.0" r="4"/><circle cx="747.7" cy="117.3" r="4"/><circle cx="758.9" cy="114.4" r="4"/><circle cx="775.1" cy="115.7" r="4"/><circle cx="798.3" cy="115.9" r="4"/><circle cx="790.2" cy="124.1" r="4"/><circle cx="781.5" cy="130.2" r="4"/><circle cx="750.2" cy="135.7" r="4"/><circle cx="766.0" cy="137.0" r="4"/><circle cx="777.6" cy="142.4" r="4"/><circle cx="778.6" cy="152.7" r="4"/><circle cx="788.2" cy="156.9" r="4"/><circle cx="793.1" cy="156.9" r="4"/><circle cx="770.8" cy="156.5" r="4"/><circle cx="760.2" cy="150.1" r="4"/><circle cx="763.1" cy="150.5" r="4"/><circle cx="780.9" cy="160.8" r="4"/><circle cx="786.3" cy="169.9" r="4"/><circle cx="776.6" cy="171.4" r="4"/><circle cx="776.6" cy="182.0" r="4"/><circle cx="782.4" cy="197.5" r="4"/><circle cx="766.0" cy="198.5" r="4"/><circle cx="764.1" cy="203.9" r="4"/><circle cx="776.6" cy="205.2" r="4"/><circle cx="767.9" cy="221.3" r="4"/><circle cx="767.9" cy="236.7" r="4"/><circle cx="761.2" cy="249.7" r="4"/><circle cx="747.7" cy="148.2" r="4"/><circle cx="749.6" cy="152.1" r="4"/><circle cx="748.6" cy="157.9" r="4"/><circle cx="762.1" cy="162.7" r="4"/><circle cx="766.0" cy="164.6" r="4"/><circle cx="770.8" cy="166.6" r="4"/><circle cx="772.8" cy="170.4" r="4"/><circle cx="765.0" cy="183.0" r="4"/><circle cx="761.2" cy="179.1" r="4"/><circle cx="759.3" cy="186.9" r="4"/><circle cx="758.3" cy="193.6" r="4"/><circle cx="761.2" cy="213.9" r="4"/><circle cx="759.1" cy="189.6" r="4"/><circle cx="748.2" cy="150.8" r="4"/><circle cx="754.7" cy="164.5" r="4"/><circle cx="746.0" cy="181.0" r="4"/><circle cx="746.3" cy="160.5" r="4"/><circle cx="744.9" cy="225.4" r="4"/><circle cx="746.3" cy="152.6" r="4"/><circle cx="752.2" cy="152.8" r="4"/><circle cx="749.5" cy="231.4" r="4"/><circle cx="744.2" cy="184.9" r="4"/><circle cx="746.4" cy="226.7" r="4"/><circle cx="759.8" cy="208.5" r="4"/><circle cx="755.1" cy="174.6" r="4"/><circle cx="753.8" cy="196.3" r="4"/><circle cx="757.6" cy="192.6" r="4"/><circle cx="744.0" cy="205.3" r="4"/><circle cx="745.8" cy="238.2" r="4"/><circle cx="752.9" cy="186.7" r="4"/><circle cx="755.2" cy="213.4" r="4"/><circle cx="748.8" cy="161.2" r="4"/><circle cx="750.4" cy="216.4" r="4"/><circle cx="757.0" cy="174.9" r="4"/><circle cx="747.5" cy="254.0" r="4"/><circle cx="746.0" cy="206.9" r="4"/><circle cx="757.8" cy="200.8" r="4"/><circle cx="751.7" cy="182.9" r="4"/><circle cx="749.3" cy="197.4" r="4"/><circle cx="747.8" cy="215.9" r="4"/><circle cx="749.6" cy="249.4" r="4"/><circle cx="744.7" cy="182.0" r="4"/><circle cx="752.8" cy="150.8" r="4"/><circle cx="745.8" cy="194.7" r="4"/><circle cx="752.9" cy="153.4" r="4"/><circle cx="758.3" cy="170.8" r="4"/><circle cx="755.9" cy="187.4" r="4"/><circle cx="756.3" cy="186.3" r="4"/><circle cx="747.3" cy="163.7" r="4"/><circle cx="744.3" cy="161.7" r="4"/><circle cx="759.6" cy="210.0" r="4"/><circle cx="753.2" cy="148.9" r="4"/><circle cx="746.3" cy="179.7" r="4"/><circle cx="747.5" cy="151.7" r="4"/><circle cx="749.9" cy="157.7" r="4"/><circle cx="746.6" cy="198.5" r="4"/><circle cx="748.2" cy="245.2" r="4"/><circle cx="746.1" cy="231.6" r="4"/><circle cx="752.0" cy="227.4" r="4"/><circle cx="745.5" cy="233.2" r="4"/><circle cx="746.4" cy="252.4" r="4"/><circle cx="755.4" cy="157.0" r="4"/><circle cx="760.1" cy="181.8" r="4"/><circle cx="744.6" cy="171.0" r="4"/><circle cx="753.0" cy="204.6" r="4"/><circle cx="752.1" cy="222.2" r="4"/><circle cx="758.6" cy="187.9" r="4"/><circle cx="745.9" cy="204.7" r="4"/><circle cx="749.0" cy="212.3" r="4"/><circle cx="746.1" cy="208.1" r="4"/><circle cx="748.0" cy="175.9" r="4"/><circle cx="743.7" cy="221.1" r="4"/><circle cx="751.4" cy="193.9" r="4"/><circle cx="744.5" cy="244.1" r="4"/><circle cx="757.6" cy="204.7" r="4"/><circle cx="762.7" cy="193.0" r="4"/><circle cx="752.0" cy="176.1" r="4"/><circle cx="748.7" cy="181.7" r="4"/><circle cx="753.3" cy="155.9" r="4"/><circle cx="755.1" cy="220.0" r="4"/><circle cx="746.8" cy="200.6" r="4"/><circle cx="756.4" cy="220.7" r="4"/><circle cx="747.7" cy="209.3" r="4"/><circle cx="758.2" cy="205.6" r="4"/><circle cx="749.6" cy="238.1" r="4"/><circle cx="743.8" cy="229.6" r="4"/><circle cx="743.6" cy="163.3" r="4"/><circle cx="752.8" cy="197.6" r="4"/><circle cx="752.8" cy="150.1" r="4"/><circle cx="755.6" cy="208.3" r="4"/><circle cx="748.2" cy="254.2" r="4"/><circle cx="750.9" cy="230.2" r="4"/><circle cx="756.6" cy="205.8" r="4"/><circle cx="746.6" cy="234.1" r="4"/><circle cx="744.9" cy="236.5" r="4"/><circle cx="759.1" cy="206.6" r="4"/><circle cx="758.1" cy="172.2" r="4"/><circle cx="756.7" cy="201.3" r="4"/><circle cx="744.2" cy="164.8" r="4"/><circle cx="753.7" cy="175.8" r="4"/><circle cx="748.0" cy="246.2" r="4"/><circle cx="750.0" cy="205.5" r="4"/><circle cx="756.1" cy="203.2" r="4"/><circle cx="746.4" cy="243.4" r="4"/><circle cx="748.1" cy="222.2" r="4"/><circle cx="744.4" cy="176.0" r="4"/><circle cx="755.7" cy="192.6" r="4"/></g>
<line x1="722.3" y1="53.0" x2="722.3" y2="310.0" stroke="#000" stroke-width="2.6" stroke-dasharray="0 8.46" stroke-linecap="round"/>
<line x1="745.5" y1="53.0" x2="745.5" y2="310.0" stroke="#000" stroke-width="2.6" stroke-dasharray="0 8.46" stroke-linecap="round"/>
<line x1="611.6" y1="255.6" x2="864.0" y2="255.6" stroke="#000" stroke-width="2.6" stroke-dasharray="0 8.46" stroke-linecap="round"/>
<line x1="599.5" y1="52.0" x2="604.3" y2="52.0" stroke="#000" stroke-width="2.7"/>
<text x="597.2" y="59.6" font-size="22" text-anchor="end">6</text>
<line x1="599.5" y1="138.5" x2="604.3" y2="138.5" stroke="#000" stroke-width="2.7"/>
<text x="597.2" y="146.1" font-size="22" text-anchor="end">4</text>
<line x1="599.5" y1="225.0" x2="604.3" y2="225.0" stroke="#000" stroke-width="2.7"/>
<text x="597.2" y="232.6" font-size="22" text-anchor="end">2</text>
<line x1="599.5" y1="311.5" x2="604.3" y2="311.5" stroke="#000" stroke-width="2.7"/>
<text x="597.2" y="319.1" font-size="22" text-anchor="end">0</text>
<line x1="603.4" y1="311.0" x2="603.4" y2="315.0" stroke="#000" stroke-width="2.7"/>
<text x="603.4" y="338.3" font-size="22" text-anchor="middle">-3</text>
<line x1="646.8" y1="311.0" x2="646.8" y2="315.0" stroke="#000" stroke-width="2.7"/>
<text x="646.8" y="338.3" font-size="22" text-anchor="middle">-2</text>
<line x1="690.2" y1="311.0" x2="690.2" y2="315.0" stroke="#000" stroke-width="2.7"/>
<text x="690.2" y="338.3" font-size="22" text-anchor="middle">-1</text>
<line x1="733.6" y1="311.0" x2="733.6" y2="315.0" stroke="#000" stroke-width="2.7"/>
<text x="733.6" y="338.3" font-size="22" text-anchor="middle">0</text>
<line x1="777.0" y1="311.0" x2="777.0" y2="315.0" stroke="#000" stroke-width="2.7"/>
<text x="777.0" y="338.3" font-size="22" text-anchor="middle">1</text>
<line x1="820.4" y1="311.0" x2="820.4" y2="315.0" stroke="#000" stroke-width="2.7"/>
<text x="820.4" y="338.3" font-size="22" text-anchor="middle">2</text>
<line x1="863.8" y1="311.0" x2="863.8" y2="315.0" stroke="#000" stroke-width="2.7"/>
<text x="863.8" y="338.3" font-size="22" text-anchor="middle">3</text>
<text x="733.6" y="368.0" font-size="21" text-anchor="middle">log<tspan font-size="15" dy="5">2</tspan><tspan dy="-5"> FC</tspan></text>
<text x="733.6" y="395.5" font-size="21.25" text-anchor="middle">METTL1-sh2 vs. shNC</text>
<text transform="translate(567.0 182.0) rotate(-90)" font-size="21" text-anchor="middle">-log<tspan font-size="15" dy="5">10</tspan><tspan dy="-5" font-style="italic">P</tspan></text>
<g fill="#C75B43"><circle cx="853.6" cy="79.7" r="4.2"/></g>
<text x="882.5" y="86.7" font-size="21.7">up (140)</text>
<g fill="#3E8E9C"><circle cx="853.6" cy="114.5" r="4.2"/></g>
<text x="882.5" y="121.5" font-size="21.7">down (113)</text>
<g fill="#D9D9D9"><circle cx="853.6" cy="149.3" r="4.2"/></g>
<text x="882.5" y="156.3" font-size="21.7">no-diff</text>
<text x="1034.0" y="29.0" font-size="33" font-weight="bold">c</text>
<text x="1254.2" y="46.4" font-size="20.3" text-anchor="middle">GSEA</text>
<defs><clipPath id="vclip"><circle cx="1191.3" cy="229" r="127.5"/></clipPath></defs>
<circle cx="1191.3" cy="229" r="127.5" fill="#D9787E"/>
<circle cx="1327.5" cy="229" r="127.5" fill="#8EC5CB"/>
<circle cx="1327.5" cy="229" r="127.5" fill="#76808C" clip-path="url(#vclip)"/>
<text x="1182.0" y="95.0" font-size="20" text-anchor="middle">TMT</text>
<text x="1331.3" y="90.0" font-size="21.5" text-anchor="middle" letter-spacing="0.4">RNA-seq</text>
<text x="1150.0" y="237.0" font-size="21.4" text-anchor="middle" letter-spacing="0.5">129</text>
<text x="1258.5" y="234.2" font-size="21.4" text-anchor="middle" letter-spacing="0.5">42</text>
<text x="1371.0" y="231.9" font-size="21.4" text-anchor="middle" letter-spacing="0.5">341</text>
<text x="1479.5" y="29.0" font-size="33" font-weight="bold">d</text>
<text x="1801.3" y="24.0" font-size="21.8" text-anchor="middle">SANA_TNF signaling up</text>
<line x1="1672.4" y1="34.5" x2="1672.4" y2="176.3" stroke="#E9E9E9" stroke-width="1" stroke-dasharray="2 2"/>
<line x1="1714.3" y1="34.5" x2="1714.3" y2="176.3" stroke="#E9E9E9" stroke-width="1" stroke-dasharray="2 2"/>
<line x1="1756.4" y1="34.5" x2="1756.4" y2="176.3" stroke="#E9E9E9" stroke-width="1" stroke-dasharray="2 2"/>
<line x1="1797.7" y1="34.5" x2="1797.7" y2="176.3" stroke="#E9E9E9" stroke-width="1" stroke-dasharray="2 2"/>
<line x1="1838.7" y1="34.5" x2="1838.7" y2="176.3" stroke="#E9E9E9" stroke-width="1" stroke-dasharray="2 2"/>
<line x1="1880.4" y1="34.5" x2="1880.4" y2="176.3" stroke="#E9E9E9" stroke-width="1" stroke-dasharray="2 2"/>
<line x1="1632.0" y1="59.1" x2="1970.0" y2="59.1" stroke="#E9E9E9" stroke-width="1" stroke-dasharray="2 2"/>
<line x1="1632.0" y1="78.5" x2="1970.0" y2="78.5" stroke="#E9E9E9" stroke-width="1" stroke-dasharray="2 2"/>
<line x1="1632.0" y1="97.9" x2="1970.0" y2="97.9" stroke="#E9E9E9" stroke-width="1" stroke-dasharray="2 2"/>
<line x1="1632.0" y1="117.3" x2="1970.0" y2="117.3" stroke="#E9E9E9" stroke-width="1" stroke-dasharray="2 2"/>
<line x1="1632.0" y1="136.7" x2="1970.0" y2="136.7" stroke="#E9E9E9" stroke-width="1" stroke-dasharray="2 2"/>
<line x1="1632.0" y1="156.1" x2="1970.0" y2="156.1" stroke="#E9E9E9" stroke-width="1" stroke-dasharray="2 2"/>
<line x1="1632.0" y1="39.7" x2="1970.0" y2="39.7" stroke="#CFCFCF" stroke-width="1.5"/>
<line x1="1632.0" y1="176.3" x2="1970.0" y2="176.3" stroke="#CFCFCF" stroke-width="1.5"/>
<line x1="1632.0" y1="223.2" x2="1970.0" y2="223.2" stroke="#D8D8D8" stroke-width="1"/>
<line x1="1661.1" y1="177.5" x2="1661.1" y2="222.5" stroke="#4A4A4A" stroke-width="1.1"/>
<line x1="1666.4" y1="177.5" x2="1666.4" y2="222.5" stroke="#4A4A4A" stroke-width="1.1"/>
<line x1="1690.7" y1="177.5" x2="1690.7" y2="222.5" stroke="#4A4A4A" stroke-width="1.1"/>
<line x1="1700.8" y1="177.5" x2="1700.8" y2="222.5" stroke="#4A4A4A" stroke-width="1.1"/>
<line x1="1711.6" y1="177.5" x2="1711.6" y2="222.5" stroke="#4A4A4A" stroke-width="1.1"/>
<line x1="1715.7" y1="177.5" x2="1715.7" y2="222.5" stroke="#4A4A4A" stroke-width="1.1"/>
<line x1="1718.9" y1="177.5" x2="1718.9" y2="222.5" stroke="#4A4A4A" stroke-width="1.1"/>
<line x1="1738.8" y1="177.5" x2="1738.8" y2="222.5" stroke="#4A4A4A" stroke-width="1.1"/>
<line x1="1747.0" y1="177.5" x2="1747.0" y2="222.5" stroke="#4A4A4A" stroke-width="1.1"/>
<line x1="1771.8" y1="177.5" x2="1771.8" y2="222.5" stroke="#4A4A4A" stroke-width="1.1"/>
<line x1="1772.7" y1="177.5" x2="1772.7" y2="222.5" stroke="#4A4A4A" stroke-width="1.1"/>
<line x1="1777.8" y1="177.5" x2="1777.8" y2="222.5" stroke="#4A4A4A" stroke-width="1.1"/>
<line x1="1781.4" y1="177.5" x2="1781.4" y2="222.5" stroke="#4A4A4A" stroke-width="1.1"/>
<line x1="1787.4" y1="177.5" x2="1787.4" y2="222.5" stroke="#4A4A4A" stroke-width="1.1"/>
<line x1="1794.6" y1="177.5" x2="1794.6" y2="222.5" stroke="#4A4A4A" stroke-width="1.1"/>
<line x1="1830.7" y1="177.5" x2="1830.7" y2="222.5" stroke="#4A4A4A" stroke-width="1.1"/>
<line x1="1846.3" y1="177.5" x2="1846.3" y2="222.5" stroke="#4A4A4A" stroke-width="1.1"/>
<line x1="1850.4" y1="177.5" x2="1850.4" y2="222.5" stroke="#4A4A4A" stroke-width="1.1"/>
<line x1="1860.8" y1="177.5" x2="1860.8" y2="222.5" stroke="#4A4A4A" stroke-width="1.1"/>
<line x1="1878.8" y1="177.5" x2="1878.8" y2="222.5" stroke="#4A4A4A" stroke-width="1.1"/>
<line x1="1920.2" y1="177.5" x2="1920.2" y2="222.5" stroke="#4A4A4A" stroke-width="1.1"/>
<line x1="1921.4" y1="177.5" x2="1921.4" y2="222.5" stroke="#4A4A4A" stroke-width="1.1"/>
<line x1="1926.9" y1="177.5" x2="1926.9" y2="222.5" stroke="#4A4A4A" stroke-width="1.1"/>
<line x1="1928.3" y1="177.5" x2="1928.3" y2="222.5" stroke="#4A4A4A" stroke-width="1.1"/>
<line x1="1929.8" y1="177.5" x2="1929.8" y2="222.5" stroke="#4A4A4A" stroke-width="1.1"/>
<line x1="1932.9" y1="177.5" x2="1932.9" y2="222.5" stroke="#4A4A4A" stroke-width="1.1"/>
<line x1="1942.5" y1="177.5" x2="1942.5" y2="222.5" stroke="#4A4A4A" stroke-width="1.1"/>
<line x1="1945.4" y1="177.5" x2="1945.4" y2="222.5" stroke="#4A4A4A" stroke-width="1.1"/>
<line x1="1946.8" y1="177.5" x2="1946.8" y2="222.5" stroke="#4A4A4A" stroke-width="1.1"/>
<line x1="1949.7" y1="177.5" x2="1949.7" y2="222.5" stroke="#4A4A4A" stroke-width="1.1"/>
<line x1="1951.7" y1="177.5" x2="1951.7" y2="222.5" stroke="#4A4A4A" stroke-width="1.1"/>
<line x1="1952.9" y1="177.5" x2="1952.9" y2="222.5" stroke="#4A4A4A" stroke-width="1.1"/>
<rect x="1633.0" y="223.7" width="37.6" height="11.8" fill="#F4505A"/>
<rect x="1670.3" y="223.7" width="21.2" height="11.8" fill="#F0608A"/>
<rect x="1691.2" y="223.7" width="35.2" height="11.8" fill="#EE7C88"/>
<rect x="1726.1" y="223.7" width="47.2" height="11.8" fill="#F2B8E2"/>
<rect x="1773.0" y="223.7" width="43.6" height="11.8" fill="#D4D4FA"/>
<rect x="1816.3" y="223.7" width="40.0" height="11.8" fill="#BAB6F8"/>
<rect x="1855.9" y="223.7" width="31.6" height="11.8" fill="#8484F8"/>
<rect x="1887.2" y="223.7" width="55.6" height="11.8" fill="#7052F8"/>
<rect x="1942.5" y="223.7" width="11.1" height="11.8" fill="#3200F0"/>
<path d="M1633.0 40.9 L1660.7 58.4 L1661.6 53.4 L1664.7 54.8 L1666.7 49.3 L1690.0 63.7 L1691.2 60.1 L1699.6 65.4 L1701.5 63.0 L1711.6 69.7 L1712.8 68.1 L1715.2 69.7 L1716.5 68.1 L1718.9 69.3 L1720.1 67.6 L1738.1 78.6 L1739.3 77.7 L1746.5 82.5 L1747.7 81.8 L1794.6 109.4 L1829.5 130.6 L1830.9 128.9 L1845.1 137.8 L1846.8 135.4 L1849.2 136.6 L1850.6 134.7 L1860.3 140.5 L1861.7 137.8 L1877.6 147.7 L1879.3 143.8 L1920.4 169.1 L1921.4 159.9 L1922.6 153.2 L1925.7 156.3 L1926.9 147.2 L1928.6 147.2 L1929.8 129.9 L1931.7 131.8 L1933.1 121.9 L1942.0 127.5 L1943.7 114.2 L1945.6 115.4 L1946.6 101.5 L1947.8 101.0 L1948.8 85.4 L1950.9 85.4 L1952.1 56.5 L1953.3 38.5" stroke="#4DF500" stroke-width="2.3" fill="none" stroke-linejoin="round"/>
<rect x="1632.0" y="32.5" width="338.5" height="205.0" fill="none" stroke="#000" stroke-width="2.8"/>
<line x1="1623.0" y1="39.7" x2="1631.0" y2="39.7" stroke="#000" stroke-width="2.5"/>
<text x="1618.0" y="50.5" font-size="21.5" text-anchor="end">0.0</text>
<line x1="1623.0" y1="77.5" x2="1631.0" y2="77.5" stroke="#000" stroke-width="2.5"/>
<text x="1618.0" y="85.0" font-size="21.5" text-anchor="end">-0.2</text>
<line x1="1623.0" y1="118.6" x2="1631.0" y2="118.6" stroke="#000" stroke-width="2.5"/>
<text x="1618.0" y="121.0" font-size="21.5" text-anchor="end">-0.4</text>
<line x1="1623.0" y1="158.0" x2="1631.0" y2="158.0" stroke="#000" stroke-width="2.5"/>
<text x="1618.0" y="155.5" font-size="21.5" text-anchor="end">-0.6</text>
<text x="1966.5" y="53.0" font-size="22" text-anchor="end">NES = -1.986</text>
<text x="1966.5" y="80.6" font-size="22" text-anchor="end"><tspan font-style="italic">P</tspan> &lt;&#160; 0.001</text>
<text x="1638.0" y="95.7" font-size="21.5">TMT</text>
<line x1="1637.7" y1="252.3" x2="1637.7" y2="393.5" stroke="#E9E9E9" stroke-width="1" stroke-dasharray="2 2"/>
<line x1="1710.3" y1="252.3" x2="1710.3" y2="393.5" stroke="#E9E9E9" stroke-width="1" stroke-dasharray="2 2"/>
<line x1="1790.3" y1="252.3" x2="1790.3" y2="393.5" stroke="#E9E9E9" stroke-width="1" stroke-dasharray="2 2"/>
<line x1="1871.4" y1="252.3" x2="1871.4" y2="393.5" stroke="#E9E9E9" stroke-width="1" stroke-dasharray="2 2"/>
<line x1="1951.4" y1="252.3" x2="1951.4" y2="393.5" stroke="#E9E9E9" stroke-width="1" stroke-dasharray="2 2"/>
<line x1="1632.0" y1="301.0" x2="1970.0" y2="301.0" stroke="#E9E9E9" stroke-width="1" stroke-dasharray="2 2"/>
<line x1="1632.0" y1="322.6" x2="1970.0" y2="322.6" stroke="#E9E9E9" stroke-width="1" stroke-dasharray="2 2"/>
<line x1="1632.0" y1="344.2" x2="1970.0" y2="344.2" stroke="#E9E9E9" stroke-width="1" stroke-dasharray="2 2"/>
<line x1="1632.0" y1="365.9" x2="1970.0" y2="365.9" stroke="#E9E9E9" stroke-width="1" stroke-dasharray="2 2"/>
<line x1="1632.0" y1="387.5" x2="1970.0" y2="387.5" stroke="#E9E9E9" stroke-width="1" stroke-dasharray="2 2"/>
<line x1="1632.0" y1="257.6" x2="1970.0" y2="257.6" stroke="#E9E9E9" stroke-width="1" stroke-dasharray="2 2"/>
<line x1="1632.0" y1="279.3" x2="1970.0" y2="279.3" stroke="#CFCFCF" stroke-width="1.5"/>
<line x1="1632.0" y1="393.5" x2="1970.0" y2="393.5" stroke="#CFCFCF" stroke-width="1.5"/>
<line x1="1632.0" y1="441.1" x2="1970.0" y2="441.1" stroke="#D8D8D8" stroke-width="1"/>
<line x1="1632.0" y1="415.2" x2="1970.0" y2="415.2" stroke="#BBBBBB" stroke-width="1" stroke-dasharray="4 3"/>
<line x1="1633.7" y1="395.5" x2="1633.7" y2="441.6" stroke="#4A4A4A" stroke-width="1.8"/>
<line x1="1638.2" y1="395.5" x2="1638.2" y2="441.6" stroke="#4A4A4A" stroke-width="0.9"/>
<line x1="1640.4" y1="395.5" x2="1640.4" y2="441.6" stroke="#4A4A4A" stroke-width="1.08"/>
<line x1="1642.7" y1="395.5" x2="1642.7" y2="441.6" stroke="#4A4A4A" stroke-width="0.9"/>
<line x1="1647.2" y1="395.5" x2="1647.2" y2="441.6" stroke="#4A4A4A" stroke-width="0.9"/>
<line x1="1653.5" y1="395.5" x2="1653.5" y2="441.6" stroke="#4A4A4A" stroke-width="0.9"/>
<line x1="1661.8" y1="395.5" x2="1661.8" y2="441.6" stroke="#4A4A4A" stroke-width="0.9"/>
<line x1="1671.3" y1="395.5" x2="1671.3" y2="441.6" stroke="#4A4A4A" stroke-width="0.9"/>
<line x1="1681.4" y1="395.5" x2="1681.4" y2="441.6" stroke="#4A4A4A" stroke-width="1.08"/>
<line x1="1683.7" y1="395.5" x2="1683.7" y2="441.6" stroke="#4A4A4A" stroke-width="1.8"/>
<line x1="1694.5" y1="395.5" x2="1694.5" y2="441.6" stroke="#4A4A4A" stroke-width="1.08"/>
<line x1="1698.5" y1="395.5" x2="1698.5" y2="441.6" stroke="#4A4A4A" stroke-width="1.08"/>
<line x1="1700.1" y1="395.5" x2="1700.1" y2="441.6" stroke="#4A4A4A" stroke-width="0.9"/>
<line x1="1702.4" y1="395.5" x2="1702.4" y2="441.6" stroke="#4A4A4A" stroke-width="1.62"/>
<line x1="1715.9" y1="395.5" x2="1715.9" y2="441.6" stroke="#4A4A4A" stroke-width="1.08"/>
<line x1="1737.3" y1="395.5" x2="1737.3" y2="441.6" stroke="#4A4A4A" stroke-width="1.35"/>
<line x1="1739.6" y1="395.5" x2="1739.6" y2="441.6" stroke="#4A4A4A" stroke-width="1.8"/>
<line x1="1761.0" y1="395.5" x2="1761.0" y2="441.6" stroke="#4A4A4A" stroke-width="1.35"/>
<line x1="1776.7" y1="395.5" x2="1776.7" y2="441.6" stroke="#4A4A4A" stroke-width="1.08"/>
<line x1="1779.7" y1="395.5" x2="1779.7" y2="441.6" stroke="#4A4A4A" stroke-width="1.08"/>
<line x1="1785.3" y1="395.5" x2="1785.3" y2="441.6" stroke="#4A4A4A" stroke-width="0.9"/>
<line x1="1794.8" y1="395.5" x2="1794.8" y2="441.6" stroke="#4A4A4A" stroke-width="0.9"/>
<line x1="1801.5" y1="395.5" x2="1801.5" y2="441.6" stroke="#4A4A4A" stroke-width="0.9"/>
<line x1="1812.8" y1="395.5" x2="1812.8" y2="441.6" stroke="#4A4A4A" stroke-width="0.9"/>
<line x1="1815.7" y1="395.5" x2="1815.7" y2="441.6" stroke="#4A4A4A" stroke-width="0.9"/>
<line x1="1825.9" y1="395.5" x2="1825.9" y2="441.6" stroke="#4A4A4A" stroke-width="0.9"/>
<line x1="1833.1" y1="395.5" x2="1833.1" y2="441.6" stroke="#4A4A4A" stroke-width="0.9"/>
<line x1="1839.8" y1="395.5" x2="1839.8" y2="441.6" stroke="#4A4A4A" stroke-width="1.35"/>
<line x1="1842.1" y1="395.5" x2="1842.1" y2="441.6" stroke="#4A4A4A" stroke-width="1.8"/>
<line x1="1853.3" y1="395.5" x2="1853.3" y2="441.6" stroke="#4A4A4A" stroke-width="0.9"/>
<line x1="1857.9" y1="395.5" x2="1857.9" y2="441.6" stroke="#4A4A4A" stroke-width="1.08"/>
<line x1="1865.7" y1="395.5" x2="1865.7" y2="441.6" stroke="#4A4A4A" stroke-width="1.08"/>
<line x1="1869.1" y1="395.5" x2="1869.1" y2="441.6" stroke="#4A4A4A" stroke-width="1.35"/>
<line x1="1871.4" y1="395.5" x2="1871.4" y2="441.6" stroke="#4A4A4A" stroke-width="1.8"/>
<line x1="1878.8" y1="395.5" x2="1878.8" y2="441.6" stroke="#4A4A4A" stroke-width="1.35"/>
<line x1="1884.9" y1="395.5" x2="1884.9" y2="441.6" stroke="#4A4A4A" stroke-width="0.9"/>
<line x1="1892.8" y1="395.5" x2="1892.8" y2="441.6" stroke="#4A4A4A" stroke-width="1.35"/>
<line x1="1895.0" y1="395.5" x2="1895.0" y2="441.6" stroke="#4A4A4A" stroke-width="1.8"/>
<line x1="1902.2" y1="395.5" x2="1902.2" y2="441.6" stroke="#4A4A4A" stroke-width="1.8"/>
<line x1="1904.0" y1="395.5" x2="1904.0" y2="441.6" stroke="#4A4A4A" stroke-width="1.8"/>
<line x1="1909.7" y1="395.5" x2="1909.7" y2="441.6" stroke="#4A4A4A" stroke-width="1.35"/>
<line x1="1911.5" y1="395.5" x2="1911.5" y2="441.6" stroke="#4A4A4A" stroke-width="1.35"/>
<line x1="1918.7" y1="395.5" x2="1918.7" y2="441.6" stroke="#4A4A4A" stroke-width="1.35"/>
<line x1="1920.9" y1="395.5" x2="1920.9" y2="441.6" stroke="#4A4A4A" stroke-width="1.08"/>
<line x1="1926.1" y1="395.5" x2="1926.1" y2="441.6" stroke="#4A4A4A" stroke-width="1.08"/>
<line x1="1934.5" y1="395.5" x2="1934.5" y2="441.6" stroke="#4A4A4A" stroke-width="1.35"/>
<line x1="1936.7" y1="395.5" x2="1936.7" y2="441.6" stroke="#4A4A4A" stroke-width="1.35"/>
<line x1="1942.3" y1="395.5" x2="1942.3" y2="441.6" stroke="#4A4A4A" stroke-width="1.35"/>
<line x1="1944.6" y1="395.5" x2="1944.6" y2="441.6" stroke="#4A4A4A" stroke-width="1.8"/>
<line x1="1946.4" y1="395.5" x2="1946.4" y2="441.6" stroke="#4A4A4A" stroke-width="1.8"/>
<line x1="1948.0" y1="395.5" x2="1948.0" y2="441.6" stroke="#4A4A4A" stroke-width="1.8"/>
<line x1="1950.2" y1="395.5" x2="1950.2" y2="441.6" stroke="#4A4A4A" stroke-width="1.8"/>
<line x1="1952.5" y1="395.5" x2="1952.5" y2="441.6" stroke="#4A4A4A" stroke-width="1.8"/>
<line x1="1954.3" y1="395.5" x2="1954.3" y2="441.6" stroke="#4A4A4A" stroke-width="1.8"/>
<rect x="1633.0" y="441.6" width="44.1" height="11.2" fill="#F0505A"/>
<rect x="1676.8" y="441.6" width="24.4" height="11.2" fill="#EE7A86"/>
<rect x="1700.8" y="441.6" width="79.7" height="11.2" fill="#F0B8E2"/>
<rect x="1780.2" y="441.6" width="68.8" height="11.2" fill="#D4D4FA"/>
<rect x="1848.7" y="441.6" width="24.4" height="11.2" fill="#C2BAF8"/>
<rect x="1872.8" y="441.6" width="18.3" height="11.2" fill="#8484F8"/>
<rect x="1890.8" y="441.6" width="52.0" height="11.2" fill="#6A4AF8"/>
<rect x="1942.5" y="441.6" width="13.0" height="11.2" fill="#3200F0"/>
<path d="M1633.5 268.5 L1634.2 258.9 L1635.4 255.3 L1638.3 256.9 L1640.7 255.0 L1644.3 254.1 L1646.7 256.9 L1650.3 256.5 L1653.9 258.4 L1659.9 261.3 L1662.3 260.3 L1668.4 264.2 L1681.6 271.4 L1682.8 270.4 L1704.4 281.7 L1740.5 304.6 L1788.6 335.8 L1812.7 351.5 L1836.7 366.6 L1839.6 367.6 L1842.7 367.1 L1855.9 373.8 L1866.8 379.6 L1871.6 377.9 L1877.6 381.5 L1881.2 380.3 L1884.8 381.0 L1894.4 385.8 L1898.0 382.7 L1901.6 385.6 L1905.2 376.7 L1908.9 375.5 L1912.5 371.9 L1918.5 375.5 L1922.1 368.3 L1928.1 365.9 L1932.9 369.0 L1937.7 359.9 L1942.5 361.1 L1944.4 350.3 L1946.1 340.6 L1947.8 335.8 L1949.3 325.0 L1951.7 325.0 L1953.1 311.8 L1954.5 299.7 L1955.0 279.3" stroke="#4DF500" stroke-width="2.3" fill="none" stroke-linejoin="round"/>
<rect x="1632.0" y="250.3" width="338.5" height="204.0" fill="none" stroke="#000" stroke-width="2.8"/>
<line x1="1623.0" y1="279.3" x2="1631.0" y2="279.3" stroke="#000" stroke-width="2.5"/>
<text x="1621.0" y="286.8" font-size="21.5" text-anchor="end">0.0</text>
<line x1="1623.0" y1="322.6" x2="1631.0" y2="322.6" stroke="#000" stroke-width="2.5"/>
<text x="1621.0" y="330.1" font-size="21.5" text-anchor="end">-0.2</text>
<line x1="1623.0" y1="365.9" x2="1631.0" y2="365.9" stroke="#000" stroke-width="2.5"/>
<text x="1621.0" y="373.4" font-size="21.5" text-anchor="end">-0.4</text>
<text x="1966.5" y="269.7" font-size="22" text-anchor="end">NES = -1.323</text>
<text x="1966.5" y="297.3" font-size="22" text-anchor="end"><tspan font-style="italic">P</tspan> =&#160; 0.046</text>
<text x="1636.6" y="317.8" font-size="21.5" letter-spacing="0.45">RNA-seq</text>
<text x="1632.3" y="482.0" font-size="21.5" letter-spacing="0.15">METTL1-sh2</text>
<text x="1972.0" y="482.0" font-size="21.5" text-anchor="end" letter-spacing="0.8">shNC</text>
<line x1="1559.4" y1="37.3" x2="1559.4" y2="405.6" stroke="#000" stroke-width="3"/>
<text transform="translate(1551.8 222.6) rotate(-90)" font-size="22.3" text-anchor="middle">Enrichment score</text>
<text x="9.5" y="543.0" font-size="33" font-weight="bold">e</text>
<rect x="241.6" y="705.9" width="28.0" height="28.0" fill="#4F9CA8"/>
<rect x="269.3" y="705.9" width="28.0" height="28.0" fill="#4F9CA8"/>
<rect x="297.1" y="705.9" width="28.0" height="28.0" fill="#4F9CA8"/>
<rect x="324.8" y="705.9" width="28.0" height="28.0" fill="#4F9CA8"/>
<rect x="352.5" y="705.9" width="28.0" height="28.0" fill="#4F9CA8"/>
<rect x="380.2" y="705.9" width="28.0" height="28.0" fill="#4F9CA8"/>
<rect x="408.0" y="705.9" width="28.0" height="28.0" fill="#4F9CA8"/>
<rect x="435.7" y="705.9" width="28.0" height="28.0" fill="#4F9CA8"/>
<rect x="463.4" y="705.9" width="28.0" height="28.0" fill="#4F9CA8"/>
<rect x="491.2" y="705.9" width="28.0" height="28.0" fill="#4F9CA8"/>
<rect x="518.9" y="705.9" width="28.0" height="28.0" fill="#4F9CA8"/>
<rect x="241.6" y="733.6" width="28.0" height="28.0" fill="#E8EFF8"/>
<rect x="269.3" y="733.6" width="28.0" height="28.0" fill="#3E8B97"/>
<rect x="297.1" y="733.6" width="28.0" height="28.0" fill="#DDEAF7"/>
<rect x="324.8" y="733.6" width="28.0" height="28.0" fill="#C4DDF1"/>
<rect x="352.5" y="733.6" width="28.0" height="28.0" fill="#C8DEF3"/>
<rect x="380.2" y="733.6" width="28.0" height="28.0" fill="#D8E7F6"/>
<rect x="408.0" y="733.6" width="28.0" height="28.0" fill="#D2E4F5"/>
<rect x="435.7" y="733.6" width="28.0" height="28.0" fill="#DCE9F6"/>
<rect x="463.4" y="733.6" width="28.0" height="28.0" fill="#E8EFF8"/>
<rect x="491.2" y="733.6" width="28.0" height="28.0" fill="#90C0D5"/>
<rect x="518.9" y="733.6" width="28.0" height="28.0" fill="#CADFF4"/>
<rect x="241.6" y="761.3" width="28.0" height="28.0" fill="#E8EFF8"/>
<rect x="269.3" y="761.3" width="28.0" height="28.0" fill="#4793A0"/>
<rect x="297.1" y="761.3" width="28.0" height="28.0" fill="#DDEAF7"/>
<rect x="324.8" y="761.3" width="28.0" height="28.0" fill="#CEE1F5"/>
<rect x="352.5" y="761.3" width="28.0" height="28.0" fill="#D4E5F5"/>
<rect x="380.2" y="761.3" width="28.0" height="28.0" fill="#D6E6F6"/>
<rect x="408.0" y="761.3" width="28.0" height="28.0" fill="#CADFF4"/>
<rect x="435.7" y="761.3" width="28.0" height="28.0" fill="#DFEAF6"/>
<rect x="463.4" y="761.3" width="28.0" height="28.0" fill="#E6EEF8"/>
<rect x="491.2" y="761.3" width="28.0" height="28.0" fill="#C6DEF3"/>
<rect x="518.9" y="761.3" width="28.0" height="28.0" fill="#D8E7F6"/>
<path d="M241.6 704.6V790.3M269.3 704.6V790.3M297.1 704.6V790.3M324.8 704.6V790.3M352.5 704.6V790.3M380.2 704.6V790.3M408.0 704.6V790.3M435.7 704.6V790.3M463.4 704.6V790.3M491.2 704.6V790.3M518.9 704.6V790.3M546.6 704.6V790.3M240.3 705.9H547.9M240.3 733.6H547.9M240.3 761.3H547.9M240.3 789.0H547.9" stroke="#000" stroke-width="2.6" fill="none"/>
<rect x="241.6" y="809.9" width="28.0" height="28.0" fill="#3F8A96"/>
<rect x="269.3" y="809.9" width="28.0" height="28.0" fill="#3F8A96"/>
<rect x="297.1" y="809.9" width="28.0" height="28.0" fill="#3F8A96"/>
<rect x="324.8" y="809.9" width="28.0" height="28.0" fill="#3F8A96"/>
<rect x="352.5" y="809.9" width="28.0" height="28.0" fill="#3F8A96"/>
<rect x="380.2" y="809.9" width="28.0" height="28.0" fill="#3F8A96"/>
<rect x="408.0" y="809.9" width="28.0" height="28.0" fill="#3F8A96"/>
<rect x="435.7" y="809.9" width="28.0" height="28.0" fill="#3F8A96"/>
<rect x="463.4" y="809.9" width="28.0" height="28.0" fill="#3F8A96"/>
<rect x="491.2" y="809.9" width="28.0" height="28.0" fill="#3F8A96"/>
<rect x="518.9" y="809.9" width="28.0" height="28.0" fill="#3F8A96"/>
<rect x="241.6" y="837.6" width="28.0" height="28.0" fill="#CDE0F4"/>
<rect x="269.3" y="837.6" width="28.0" height="28.0" fill="#4F9CA8"/>
<rect x="297.1" y="837.6" width="28.0" height="28.0" fill="#DDEAF7"/>
<rect x="324.8" y="837.6" width="28.0" height="28.0" fill="#D6E6F6"/>
<rect x="352.5" y="837.6" width="28.0" height="28.0" fill="#C2DBF0"/>
<rect x="380.2" y="837.6" width="28.0" height="28.0" fill="#D4E5F5"/>
<rect x="408.0" y="837.6" width="28.0" height="28.0" fill="#86BCCF"/>
<rect x="435.7" y="837.6" width="28.0" height="28.0" fill="#D2E4F5"/>
<rect x="463.4" y="837.6" width="28.0" height="28.0" fill="#CEE1F5"/>
<rect x="491.2" y="837.6" width="28.0" height="28.0" fill="#7DB8CA"/>
<rect x="518.9" y="837.6" width="28.0" height="28.0" fill="#D8E7F6"/>
<rect x="241.6" y="865.3" width="28.0" height="28.0" fill="#D4E5F5"/>
<rect x="269.3" y="865.3" width="28.0" height="28.0" fill="#3F8C98"/>
<rect x="297.1" y="865.3" width="28.0" height="28.0" fill="#E0EBF7"/>
<rect x="324.8" y="865.3" width="28.0" height="28.0" fill="#D8E7F6"/>
<rect x="352.5" y="865.3" width="28.0" height="28.0" fill="#D6E6F6"/>
<rect x="380.2" y="865.3" width="28.0" height="28.0" fill="#DCE9F6"/>
<rect x="408.0" y="865.3" width="28.0" height="28.0" fill="#B0D3E8"/>
<rect x="435.7" y="865.3" width="28.0" height="28.0" fill="#D2E4F5"/>
<rect x="463.4" y="865.3" width="28.0" height="28.0" fill="#D8E7F6"/>
<rect x="491.2" y="865.3" width="28.0" height="28.0" fill="#B8D8EA"/>
<rect x="518.9" y="865.3" width="28.0" height="28.0" fill="#DAE8F6"/>
<path d="M241.6 808.6V894.3M269.3 808.6V894.3M297.1 808.6V894.3M324.8 808.6V894.3M352.5 808.6V894.3M380.2 808.6V894.3M408.0 808.6V894.3M435.7 808.6V894.3M463.4 808.6V894.3M491.2 808.6V894.3M518.9 808.6V894.3M546.6 808.6V894.3M240.3 809.9H547.9M240.3 837.6H547.9M240.3 865.3H547.9M240.3 893.0H547.9" stroke="#000" stroke-width="2.6" fill="none"/>
<rect x="557.1" y="706.6" width="28.1" height="28.1" fill="#FFFFFF"/>
<rect x="584.9" y="706.6" width="28.1" height="28.1" fill="#FFFFFF"/>
<rect x="612.6" y="706.6" width="28.1" height="28.1" fill="#FFFFFF"/>
<rect x="640.4" y="706.6" width="28.1" height="28.1" fill="#FFFFFF"/>
<rect x="668.1" y="706.6" width="28.1" height="28.1" fill="#FFFFFF"/>
<rect x="695.9" y="706.6" width="28.1" height="28.1" fill="#FFFFFF"/>
<rect x="723.6" y="706.6" width="28.1" height="28.1" fill="#FFFFFF"/>
<rect x="751.4" y="706.6" width="28.1" height="28.1" fill="#FFFFFF"/>
<rect x="779.1" y="706.6" width="28.1" height="28.1" fill="#FFFFFF"/>
<rect x="806.9" y="706.6" width="28.1" height="28.1" fill="#FFFFFF"/>
<rect x="834.6" y="706.6" width="28.1" height="28.1" fill="#FFFFFF"/>
<rect x="557.1" y="734.4" width="28.1" height="28.1" fill="#C85E45"/>
<rect x="584.9" y="734.4" width="28.1" height="28.1" fill="#FFFFFF"/>
<rect x="612.6" y="734.4" width="28.1" height="28.1" fill="#D58373"/>
<rect x="640.4" y="734.4" width="28.1" height="28.1" fill="#CA6048"/>
<rect x="668.1" y="734.4" width="28.1" height="28.1" fill="#D0705B"/>
<rect x="695.9" y="734.4" width="28.1" height="28.1" fill="#E0AA9C"/>
<rect x="723.6" y="734.4" width="28.1" height="28.1" fill="#C85A40"/>
<rect x="751.4" y="734.4" width="28.1" height="28.1" fill="#C85E45"/>
<rect x="779.1" y="734.4" width="28.1" height="28.1" fill="#C85A40"/>
<rect x="806.9" y="734.4" width="28.1" height="28.1" fill="#CB634B"/>
<rect x="834.6" y="734.4" width="28.1" height="28.1" fill="#C95F46"/>
<rect x="557.1" y="762.1" width="28.1" height="28.1" fill="#C85E45"/>
<rect x="584.9" y="762.1" width="28.1" height="28.1" fill="#FFFFFF"/>
<rect x="612.6" y="762.1" width="28.1" height="28.1" fill="#D68877"/>
<rect x="640.4" y="762.1" width="28.1" height="28.1" fill="#CA6048"/>
<rect x="668.1" y="762.1" width="28.1" height="28.1" fill="#CE6A54"/>
<rect x="695.9" y="762.1" width="28.1" height="28.1" fill="#DFA79A"/>
<rect x="723.6" y="762.1" width="28.1" height="28.1" fill="#C85A40"/>
<rect x="751.4" y="762.1" width="28.1" height="28.1" fill="#C85A40"/>
<rect x="779.1" y="762.1" width="28.1" height="28.1" fill="#C85A40"/>
<rect x="806.9" y="762.1" width="28.1" height="28.1" fill="#C85A40"/>
<rect x="834.6" y="762.1" width="28.1" height="28.1" fill="#C95F46"/>
<path d="M557.1 705.3V791.2M584.9 705.3V791.2M612.6 705.3V791.2M640.4 705.3V791.2M668.1 705.3V791.2M695.9 705.3V791.2M723.6 705.3V791.2M751.4 705.3V791.2M779.1 705.3V791.2M806.9 705.3V791.2M834.6 705.3V791.2M862.4 705.3V791.2M555.8 706.6H863.6M555.8 734.4H863.6M555.8 762.1H863.6M555.8 789.9H863.6" stroke="#000" stroke-width="2.6" fill="none"/>
<rect x="557.1" y="810.2" width="28.3" height="28.2" fill="#FFFFFF"/>
<rect x="585.1" y="810.2" width="28.3" height="28.2" fill="#FFFFFF"/>
<rect x="613.2" y="810.2" width="28.3" height="28.2" fill="#FFFFFF"/>
<rect x="641.2" y="810.2" width="28.3" height="28.2" fill="#FFFFFF"/>
<rect x="669.2" y="810.2" width="28.3" height="28.2" fill="#FFFFFF"/>
<rect x="697.2" y="810.2" width="28.3" height="28.2" fill="#FFFFFF"/>
<rect x="725.3" y="810.2" width="28.3" height="28.2" fill="#FFFFFF"/>
<rect x="753.3" y="810.2" width="28.3" height="28.2" fill="#FFFFFF"/>
<rect x="781.3" y="810.2" width="28.3" height="28.2" fill="#FFFFFF"/>
<rect x="809.4" y="810.2" width="28.3" height="28.2" fill="#FFFFFF"/>
<rect x="837.4" y="810.2" width="28.3" height="28.2" fill="#FFFFFF"/>
<rect x="557.1" y="838.1" width="28.3" height="28.2" fill="#C85E45"/>
<rect x="585.1" y="838.1" width="28.3" height="28.2" fill="#FFFFFF"/>
<rect x="613.2" y="838.1" width="28.3" height="28.2" fill="#E3B4A8"/>
<rect x="641.2" y="838.1" width="28.3" height="28.2" fill="#C85A40"/>
<rect x="669.2" y="838.1" width="28.3" height="28.2" fill="#C85A40"/>
<rect x="697.2" y="838.1" width="28.3" height="28.2" fill="#CE6B55"/>
<rect x="725.3" y="838.1" width="28.3" height="28.2" fill="#CC6650"/>
<rect x="753.3" y="838.1" width="28.3" height="28.2" fill="#CB624A"/>
<rect x="781.3" y="838.1" width="28.3" height="28.2" fill="#C85A40"/>
<rect x="809.4" y="838.1" width="28.3" height="28.2" fill="#DC9E90"/>
<rect x="837.4" y="838.1" width="28.3" height="28.2" fill="#C85A40"/>
<rect x="557.1" y="866.1" width="28.3" height="28.2" fill="#C85E45"/>
<rect x="585.1" y="866.1" width="28.3" height="28.2" fill="#FFFFFF"/>
<rect x="613.2" y="866.1" width="28.3" height="28.2" fill="#D88D7D"/>
<rect x="641.2" y="866.1" width="28.3" height="28.2" fill="#C85A40"/>
<rect x="669.2" y="866.1" width="28.3" height="28.2" fill="#C85A40"/>
<rect x="697.2" y="866.1" width="28.3" height="28.2" fill="#C95D44"/>
<rect x="725.3" y="866.1" width="28.3" height="28.2" fill="#C85A40"/>
<rect x="753.3" y="866.1" width="28.3" height="28.2" fill="#CA6048"/>
<rect x="781.3" y="866.1" width="28.3" height="28.2" fill="#C85A40"/>
<rect x="809.4" y="866.1" width="28.3" height="28.2" fill="#CB634B"/>
<rect x="837.4" y="866.1" width="28.3" height="28.2" fill="#C85A40"/>
<path d="M557.1 808.9V895.3M585.1 808.9V895.3M613.2 808.9V895.3M641.2 808.9V895.3M669.2 808.9V895.3M697.2 808.9V895.3M725.3 808.9V895.3M753.3 808.9V895.3M781.3 808.9V895.3M809.4 808.9V895.3M837.4 808.9V895.3M865.4 808.9V895.3M555.8 810.2H866.7M555.8 838.1H866.7M555.8 866.1H866.7M555.8 894.0H866.7" stroke="#000" stroke-width="2.6" fill="none"/>
<text transform="translate(263.1 698.6) rotate(-90) scale(0.9 1)" font-size="22.2">METTL1</text>
<text transform="translate(578.6 699.6) rotate(-90) scale(0.9 1)" font-size="22.2">METTL1</text>
<text transform="translate(290.8 698.6) rotate(-90) scale(0.9 1)" font-size="22.2">TNF-α</text>
<text transform="translate(606.3 699.6) rotate(-90) scale(0.9 1)" font-size="22.2">TNF-α</text>
<text transform="translate(318.5 698.6) rotate(-90) scale(0.9 1)" font-size="22.2">TIM3</text>
<text transform="translate(634.1 699.6) rotate(-90) scale(0.9 1)" font-size="22.2">TIM3</text>
<text transform="translate(346.3 698.6) rotate(-90) scale(0.9 1)" font-size="22.2">OXR1</text>
<text transform="translate(661.8 699.6) rotate(-90) scale(0.9 1)" font-size="22.2">OXR1</text>
<text transform="translate(374.0 698.6) rotate(-90) scale(0.9 1)" font-size="22.2">NCEH1</text>
<text transform="translate(689.6 699.6) rotate(-90) scale(0.9 1)" font-size="22.2">NCEH1</text>
<text transform="translate(401.7 698.6) rotate(-90) scale(0.9 1)" font-size="22.2">IL33</text>
<text transform="translate(717.3 699.6) rotate(-90) scale(0.9 1)" font-size="22.2">IL33</text>
<text transform="translate(429.4 698.6) rotate(-90) scale(0.9 1)" font-size="22.2">CCL2</text>
<text transform="translate(745.1 699.6) rotate(-90) scale(0.9 1)" font-size="22.2">CCL2</text>
<text transform="translate(457.2 698.6) rotate(-90) scale(0.9 1)" font-size="22.2">NF-κB</text>
<text transform="translate(772.8 699.6) rotate(-90) scale(0.9 1)" font-size="22.2">NF-κB</text>
<text transform="translate(484.9 698.6) rotate(-90) scale(0.9 1)" font-size="22.2">MMP9</text>
<text transform="translate(800.6 699.6) rotate(-90) scale(0.9 1)" font-size="22.2">MMP9</text>
<text transform="translate(512.6 698.6) rotate(-90) scale(0.9 1)" font-size="22.2">CXCL1</text>
<text transform="translate(828.3 699.6) rotate(-90) scale(0.9 1)" font-size="22.2">CXCL1</text>
<text transform="translate(540.4 698.6) rotate(-90) scale(0.9 1)" font-size="22.2">PD-L1</text>
<text transform="translate(856.1 699.6) rotate(-90) scale(0.9 1)" font-size="22.2">PD-L1</text>
<text x="427.0" y="597.8" font-size="21.7" text-anchor="middle">TNF-α targets</text>
<line x1="300.0" y1="608.0" x2="540.0" y2="608.0" stroke="#000" stroke-width="2.6"/>
<text x="734.6" y="600.0" font-size="21.7" text-anchor="middle">TNF-α targets</text>
<line x1="615.4" y1="609.7" x2="855.6" y2="609.7" stroke="#000" stroke-width="2.6"/>
<text x="235.5" y="725.4" font-size="21" text-anchor="end">shNC</text>
<text x="235.5" y="755.0" font-size="21" text-anchor="end">METTL1-sh1</text>
<text x="235.5" y="783.0" font-size="21" text-anchor="end">METTL1-sh2</text>
<text x="235.5" y="829.2" font-size="21" text-anchor="end">shNC</text>
<text x="235.5" y="858.0" font-size="21" text-anchor="end">METTL1-sh1</text>
<text x="235.5" y="886.7" font-size="21" text-anchor="end">METTL1-sh2</text>
<line x1="69.8" y1="700.0" x2="69.8" y2="793.7" stroke="#000" stroke-width="2.6"/>
<line x1="69.8" y1="800.0" x2="69.8" y2="893.0" stroke="#000" stroke-width="2.6"/>
<text transform="translate(62.8 751.5) rotate(-90)" font-size="22" text-anchor="middle">TPC-1</text>
<text transform="translate(62.8 849.6) rotate(-90)" font-size="22" text-anchor="middle">IHH4</text>
<defs><linearGradient id="gfc"><stop offset="0" stop-color="#FFFFFF"/><stop offset="0.6" stop-color="#CFE2F5"/><stop offset="0.85" stop-color="#6FB0C2"/><stop offset="1" stop-color="#3E8E9A"/></linearGradient><linearGradient id="gpv"><stop offset="0" stop-color="#FFFFFF"/><stop offset="0.5" stop-color="#E3B0A3"/><stop offset="1" stop-color="#C85A40"/></linearGradient></defs>
<rect x="441.0" y="903.3" width="98.0" height="22.5" fill="url(#gfc)"/>
<text x="423.0" y="921.0" font-size="21" text-anchor="middle">0</text>
<text x="548.5" y="921.0" font-size="21" text-anchor="middle">1</text>
<text x="487.0" y="944.5" font-size="21.8" text-anchor="middle">Fold change</text>
<rect x="750.6" y="903.7" width="104.2" height="22.7" fill="url(#gpv)"/>
<text x="744.5" y="921.7" font-size="21" text-anchor="end">0.05</text>
<text x="858.3" y="921.7" font-size="21">0.0001</text>
<text x="808.0" y="946.0" font-size="21" text-anchor="middle"><tspan font-style="italic">P</tspan> value</text>
<defs>
<filter id="spkN" x="0" y="0" width="1" height="1" color-interpolation-filters="sRGB"><feTurbulence type="fractalNoise" baseFrequency="0.55" numOctaves="2" seed="3" result="n"/><feColorMatrix in="n" type="matrix" values="0 0 0 0 0.56  0 0 0 0 0.64  0 0 0 0 0.88  6 0 0 0 -3.4"/><feComposite in2="SourceGraphic" operator="in"/></filter>
<filter id="spkN50" x="0" y="0" width="1" height="1" color-interpolation-filters="sRGB"><feTurbulence type="fractalNoise" baseFrequency="0.9" numOctaves="1" seed="5" result="n"/><feColorMatrix in="n" type="matrix" values="0 0 0 0 0.64  0 0 0 0 0.70  0 0 0 0 0.90  4 0 0 0 -2.0"/><feComposite in2="SourceGraphic" operator="in"/></filter>
<filter id="vacN50" x="0" y="0" width="1" height="1" color-interpolation-filters="sRGB"><feTurbulence type="fractalNoise" baseFrequency="0.16" numOctaves="2" seed="14" result="n"/><feColorMatrix in="n" type="matrix" values="0 0 0 0 0.96  0 0 0 0 0.965  0 0 0 0 0.985  9 0 0 0 -5.3"/><feComposite in2="SourceGraphic" operator="in"/></filter>
<filter id="spkT" x="0" y="0" width="1" height="1" color-interpolation-filters="sRGB"><feTurbulence type="fractalNoise" baseFrequency="0.5" numOctaves="2" seed="9" result="n"/><feColorMatrix in="n" type="matrix" values="0 0 0 0 0.60  0 0 0 0 0.67  0 0 0 0 0.87  5 0 0 0 -2.5"/><feComposite in2="SourceGraphic" operator="in"/></filter>
<filter id="swT50" x="0" y="0" width="1" height="1" color-interpolation-filters="sRGB"><feTurbulence type="turbulence" baseFrequency="0.075" numOctaves="2" seed="4" result="n"/><feColorMatrix in="n" type="matrix" values="0 0 0 0 0.975  0 0 0 0 0.97  0 0 0 0 0.96  -7 0 0 0 1.45"/><feComposite in2="SourceGraphic" operator="in"/></filter>
<filter id="b05"><feGaussianBlur stdDeviation="0.6"/></filter>
<filter id="b1"><feGaussianBlur stdDeviation="1.2"/></filter>
<filter id="b2"><feGaussianBlur stdDeviation="2.5"/></filter>
<filter id="b4"><feGaussianBlur stdDeviation="4"/></filter>
</defs>
<text x="1014.0" y="540.0" font-size="33" font-weight="bold">f</text>
<text x="1292.7" y="568.3" font-size="21.5" text-anchor="middle">TNF-α</text>
<text x="1215.0" y="604.8" font-size="21.5" text-anchor="middle">50x</text>
<text x="1375.6" y="604.8" font-size="21.5" text-anchor="middle">200x</text>
<text transform="translate(1129.5 689.5) rotate(-90)" font-size="21.5" text-anchor="middle">Normal</text>
<text transform="translate(1129.5 861.0) rotate(-90)" font-size="21.5" text-anchor="middle">Tumor</text>
<rect x="1139.0" y="611.3" width="154.1" height="153.4" fill="#FCFCFC"/>
<clipPath id="cn1"><circle cx="1215.2" cy="689.5" r="67"/></clipPath><g clip-path="url(#cn1)">
<circle cx="1215.2" cy="689.5" r="67" fill="#CDD5EC"/>
<g filter="url(#b2)" fill="#AFBCE3" opacity="0.95"><ellipse cx="1221" cy="640" rx="27" ry="9" transform="rotate(14 1221 640)"/><ellipse cx="1210" cy="672" rx="18" ry="13" transform="rotate(-20 1210 672)"/><ellipse cx="1240" cy="697" rx="23" ry="14" transform="rotate(-25 1240 697)"/><ellipse cx="1252" cy="722" rx="20" ry="16" transform="rotate(-30 1252 722)"/><ellipse cx="1175" cy="690" rx="16" ry="24"/></g>
<circle cx="1215.2" cy="689.5" r="67" fill="#000" filter="url(#spkN50)" opacity="0.55"/>
<g fill="#F0F2F9" filter="url(#b05)" opacity="0.85"><circle cx="1200.4" cy="658.5" r="1.1"/><circle cx="1221.6" cy="655.8" r="1.6"/><circle cx="1173.8" cy="663.8" r="1.7"/><circle cx="1175.0" cy="664.6" r="1.1"/><circle cx="1210.5" cy="652.7" r="1.4"/><circle cx="1230.7" cy="647.6" r="2.6"/><circle cx="1225.7" cy="638.8" r="1.0"/><circle cx="1253.8" cy="663.2" r="1.5"/><circle cx="1182.4" cy="664.4" r="2.4"/><circle cx="1186.1" cy="662.5" r="2.0"/><circle cx="1231.9" cy="645.5" r="1.1"/><circle cx="1174.0" cy="669.7" r="1.3"/><circle cx="1236.0" cy="646.4" r="2.0"/><circle cx="1213.3" cy="652.9" r="1.5"/><circle cx="1247.4" cy="651.6" r="2.0"/><circle cx="1220.5" cy="646.5" r="2.5"/><circle cx="1240.9" cy="647.8" r="1.2"/><circle cx="1209.8" cy="665.3" r="2.3"/><circle cx="1183.2" cy="659.5" r="2.1"/><circle cx="1244.5" cy="652.0" r="2.0"/><circle cx="1255.5" cy="652.6" r="2.0"/><circle cx="1226.0" cy="656.8" r="1.8"/><circle cx="1252.0" cy="659.6" r="2.1"/><circle cx="1174.1" cy="663.2" r="2.2"/><circle cx="1232.7" cy="659.3" r="1.5"/><circle cx="1206.6" cy="652.0" r="2.1"/><circle cx="1170.3" cy="664.0" r="1.2"/><circle cx="1173.9" cy="665.9" r="2.3"/><circle cx="1180.9" cy="662.0" r="2.5"/><circle cx="1176.1" cy="669.1" r="1.8"/><circle cx="1222.9" cy="656.7" r="2.5"/><circle cx="1195.8" cy="649.6" r="1.7"/><circle cx="1203.9" cy="662.6" r="1.2"/><circle cx="1185.6" cy="651.5" r="1.4"/><circle cx="1191.3" cy="650.8" r="1.4"/><circle cx="1168.4" cy="668.4" r="1.7"/><circle cx="1204.9" cy="641.6" r="2.2"/><circle cx="1219.5" cy="645.1" r="2.0"/><circle cx="1235.6" cy="660.4" r="2.3"/><circle cx="1255.5" cy="659.2" r="2.4"/><circle cx="1207.2" cy="650.4" r="2.1"/><circle cx="1174.2" cy="666.4" r="1.1"/><circle cx="1188.9" cy="660.8" r="1.1"/><circle cx="1168.0" cy="671.9" r="1.2"/><circle cx="1178.1" cy="662.4" r="2.5"/><circle cx="1229.4" cy="650.6" r="1.2"/><circle cx="1193.2" cy="654.0" r="1.2"/><circle cx="1252.9" cy="658.5" r="2.7"/><circle cx="1214.6" cy="648.6" r="1.1"/><circle cx="1202.3" cy="653.8" r="1.4"/><circle cx="1250.9" cy="654.4" r="2.6"/><circle cx="1220.8" cy="650.9" r="1.2"/><circle cx="1222.3" cy="655.9" r="2.7"/><circle cx="1254.3" cy="656.2" r="2.2"/><circle cx="1194.1" cy="654.4" r="2.3"/><circle cx="1221.3" cy="652.2" r="2.3"/><circle cx="1201.0" cy="655.6" r="2.7"/><circle cx="1253.3" cy="663.7" r="2.4"/><circle cx="1249.8" cy="653.3" r="1.9"/><circle cx="1203.6" cy="649.7" r="1.0"/><circle cx="1170.8" cy="665.9" r="2.2"/><circle cx="1263.7" cy="663.2" r="1.7"/><circle cx="1261.7" cy="670.8" r="1.6"/><circle cx="1190.0" cy="657.0" r="1.4"/><circle cx="1187.7" cy="660.9" r="2.5"/><circle cx="1252.0" cy="661.0" r="1.8"/><circle cx="1233.3" cy="650.7" r="2.1"/><circle cx="1259.0" cy="655.1" r="2.3"/><circle cx="1243.0" cy="648.5" r="2.3"/><circle cx="1201.3" cy="654.4" r="2.4"/><circle cx="1226.9" cy="710.6" r="1.5"/><circle cx="1231.7" cy="707.8" r="1.2"/><circle cx="1221.6" cy="715.3" r="2.3"/><circle cx="1219.8" cy="707.8" r="2.2"/><circle cx="1231.1" cy="710.6" r="1.5"/><circle cx="1213.5" cy="710.7" r="1.0"/><circle cx="1230.8" cy="709.9" r="1.7"/><circle cx="1226.8" cy="708.5" r="2.2"/><circle cx="1220.9" cy="707.1" r="1.3"/><circle cx="1216.2" cy="717.7" r="1.8"/><circle cx="1217.4" cy="720.3" r="1.1"/><circle cx="1225.1" cy="708.0" r="1.6"/><circle cx="1201.1" cy="703.3" r="1.6"/><circle cx="1227.2" cy="707.3" r="1.7"/><circle cx="1216.3" cy="711.8" r="1.6"/><circle cx="1218.3" cy="712.6" r="2.1"/><circle cx="1222.8" cy="720.0" r="2.0"/><circle cx="1210.5" cy="709.5" r="1.7"/><circle cx="1203.2" cy="707.2" r="1.1"/><circle cx="1211.7" cy="709.8" r="1.4"/><circle cx="1219.5" cy="702.6" r="1.8"/><circle cx="1219.2" cy="694.4" r="1.6"/><circle cx="1209.9" cy="705.8" r="1.7"/><circle cx="1214.5" cy="703.8" r="1.7"/><circle cx="1196.8" cy="714.6" r="2.0"/><circle cx="1233.3" cy="698.6" r="1.3"/><circle cx="1197.9" cy="705.0" r="2.2"/><circle cx="1221.0" cy="715.1" r="1.6"/><circle cx="1224.0" cy="714.6" r="1.1"/><circle cx="1210.4" cy="699.8" r="2.3"/><circle cx="1247.5" cy="736.7" r="1.6"/><circle cx="1253.3" cy="737.4" r="2.0"/><circle cx="1227.2" cy="751.2" r="1.3"/><circle cx="1151.7" cy="694.7" r="1.9"/><circle cx="1241.8" cy="732.3" r="1.5"/><circle cx="1191.5" cy="727.4" r="1.2"/><circle cx="1208.1" cy="649.7" r="1.5"/><circle cx="1177.6" cy="704.3" r="1.2"/><circle cx="1177.9" cy="652.8" r="0.9"/><circle cx="1273.8" cy="683.8" r="2.0"/><circle cx="1251.9" cy="717.9" r="0.9"/><circle cx="1223.5" cy="643.8" r="1.0"/><circle cx="1160.6" cy="718.6" r="1.8"/><circle cx="1212.9" cy="733.0" r="2.0"/><circle cx="1163.8" cy="665.2" r="0.9"/><circle cx="1268.1" cy="709.5" r="1.3"/><circle cx="1271.4" cy="717.0" r="1.6"/><circle cx="1228.5" cy="649.6" r="1.9"/><circle cx="1270.7" cy="714.2" r="1.4"/><circle cx="1186.9" cy="734.7" r="2.0"/><circle cx="1210.4" cy="732.3" r="1.5"/><circle cx="1218.3" cy="732.0" r="1.0"/><circle cx="1257.8" cy="703.5" r="1.2"/><circle cx="1195.5" cy="744.3" r="1.2"/><circle cx="1170.9" cy="689.5" r="1.2"/><circle cx="1260.9" cy="694.7" r="0.8"/><circle cx="1209.4" cy="636.6" r="1.0"/><circle cx="1153.6" cy="699.5" r="0.9"/><circle cx="1236.2" cy="643.7" r="1.4"/><circle cx="1240.1" cy="646.8" r="1.4"/><circle cx="1190.8" cy="630.8" r="1.2"/><circle cx="1243.2" cy="639.9" r="1.6"/><circle cx="1175.3" cy="716.8" r="0.9"/><circle cx="1243.8" cy="719.9" r="1.7"/><circle cx="1213.7" cy="733.4" r="0.9"/><circle cx="1248.1" cy="638.3" r="1.7"/><circle cx="1206.1" cy="734.4" r="1.2"/><circle cx="1172.8" cy="700.6" r="1.4"/><circle cx="1210.0" cy="752.4" r="2.0"/><circle cx="1171.3" cy="676.2" r="2.0"/><circle cx="1262.0" cy="668.0" r="4.4"/><circle cx="1268.0" cy="681.0" r="3.2"/><circle cx="1252.0" cy="655.0" r="3.6"/><circle cx="1240.0" cy="662.0" r="2.8"/><circle cx="1203.0" cy="706.0" r="3.2"/><circle cx="1213.0" cy="716.0" r="3.6"/><circle cx="1196.0" cy="650.0" r="3.2"/><circle cx="1186.0" cy="640.0" r="3.2"/></g>
</g>
<rect x="1171.3" y="693.0" width="39.5" height="38.7" fill="none" stroke="#000" stroke-width="2.4" stroke-dasharray="6.5 3.9"/>
<line x1="1210.5" y1="692.8" x2="1289.0" y2="615.5" stroke="#000" stroke-width="2.4" stroke-dasharray="6.5 3.9"/>
<line x1="1210.5" y1="731.7" x2="1289.0" y2="762.0" stroke="#000" stroke-width="2.4" stroke-dasharray="6.5 3.9"/>
<line x1="1146.4" y1="754.9" x2="1161.8" y2="754.9" stroke="#000" stroke-width="2"/>
<rect x="1139.0" y="611.3" width="154.1" height="153.4" fill="none" stroke="#000" stroke-width="2.7"/>
<clipPath id="cn2"><rect x="1301.7" y="610.8" width="153.2" height="152.8"/></clipPath><g clip-path="url(#cn2)">
<rect x="1301.7" y="610.8" width="153.2" height="152.8" fill="#E1E5F3"/>
<g filter="url(#b4)" fill="#B4C0E8" opacity="0.8"><ellipse cx="1443" cy="630" rx="20" ry="26"/><ellipse cx="1316" cy="640" rx="12" ry="28" opacity="0.6"/><ellipse cx="1335" cy="735" rx="24" ry="16" opacity="0.5"/><ellipse cx="1400" cy="700" rx="36" ry="7" transform="rotate(20 1400 700)" opacity="0.6"/></g>
<g filter="url(#b2)" fill="#E3DAC8" opacity="0.7"><ellipse cx="1375" cy="665" rx="22" ry="3.5" transform="rotate(18 1375 665)"/><ellipse cx="1345" cy="688" rx="12" ry="3" transform="rotate(30 1345 688)"/><ellipse cx="1410" cy="746" rx="8" ry="3"/><ellipse cx="1440" cy="712" rx="3" ry="9"/></g>
<rect x="1301.7" y="610.8" width="153.2" height="152.8" fill="#000" filter="url(#spkN)"/>
<g fill="#EFF1F7" filter="url(#b05)"><ellipse cx="1422.6" cy="675.7" rx="19" ry="16"/><ellipse cx="1390.8" cy="677.5" rx="10" ry="9.5"/><ellipse cx="1377" cy="628.4" rx="10" ry="7"/><ellipse cx="1359" cy="625.8" rx="5" ry="4.5"/><ellipse cx="1396" cy="625.8" rx="6" ry="4.5"/><ellipse cx="1404.5" cy="638.7" rx="8" ry="5"/><ellipse cx="1412.3" cy="623.2" rx="5" ry="5"/><ellipse cx="1407" cy="651.6" rx="9.5" ry="6"/><ellipse cx="1352.9" cy="710.2" rx="7" ry="8.5"/><ellipse cx="1368.4" cy="708.4" rx="7" ry="7"/><ellipse cx="1381.3" cy="710.2" rx="5" ry="5"/><ellipse cx="1369.2" cy="721.3" rx="8.5" ry="4"/><ellipse cx="1438" cy="697.2" rx="12" ry="7"/><ellipse cx="1448.4" cy="710.2" rx="5" ry="8"/><ellipse cx="1403.7" cy="734.3" rx="8" ry="5"/><ellipse cx="1429.5" cy="753.2" rx="17" ry="9.5"/><ellipse cx="1359" cy="753.2" rx="6" ry="5"/><ellipse cx="1324.5" cy="653.4" rx="4.5" ry="5"/><ellipse cx="1374.4" cy="689.5" rx="5" ry="3.5"/><ellipse cx="1391.6" cy="742.9" rx="7" ry="3.5"/><ellipse cx="1449.3" cy="680.9" rx="3.5" ry="6"/><ellipse cx="1417.4" cy="639.6" rx="3.5" ry="3.5"/><ellipse cx="1452" cy="622" rx="3" ry="6"/></g>
<ellipse cx="1352.9" cy="710.2" rx="7.3" ry="8.8" fill="none" stroke="#9FAEDF" stroke-width="0.8"/>
</g>
<line x1="1307.5" y1="754.0" x2="1323.3" y2="754.0" stroke="#000" stroke-width="2"/>
<rect x="1301.7" y="610.8" width="153.2" height="152.8" fill="none" stroke="#000" stroke-width="2.7"/>
<rect x="1139.0" y="779.6" width="154.1" height="153.5" fill="#FDFDFC"/>
<clipPath id="ct1"><circle cx="1212.3" cy="854.3" r="65.8"/></clipPath><g clip-path="url(#ct1)">
<circle cx="1212.3" cy="854.3" r="65.8" fill="#E8E4DE"/>
<g filter="url(#b4)" fill="#D9DCE8" opacity="0.8"><ellipse cx="1215" cy="870" rx="26" ry="14"/><ellipse cx="1185" cy="835" rx="14" ry="18"/><ellipse cx="1240" cy="830" rx="12" ry="16"/></g>
<circle cx="1212.3" cy="854.3" r="65.8" fill="#000" filter="url(#swT50)" opacity="0.9"/>
<circle cx="1212.3" cy="854.3" r="64.8" fill="none" stroke="#E4DACB" stroke-width="2" filter="url(#b1)"/>
</g>
<rect x="1204.0" y="843.1" width="38.7" height="39.6" fill="none" stroke="#000" stroke-width="2.4" stroke-dasharray="6.5 3.9"/>
<line x1="1242.7" y1="843.0" x2="1288.5" y2="785.5" stroke="#000" stroke-width="2.4" stroke-dasharray="6.5 3.9"/>
<line x1="1242.7" y1="882.7" x2="1291.0" y2="932.0" stroke="#000" stroke-width="2.4" stroke-dasharray="6.5 3.9"/>
<line x1="1146.4" y1="923.2" x2="1161.8" y2="923.2" stroke="#000" stroke-width="2"/>
<rect x="1139.0" y="779.6" width="154.1" height="153.5" fill="none" stroke="#000" stroke-width="2.7"/>
<clipPath id="ct2"><rect x="1300" y="779.6" width="154" height="153.5"/></clipPath><g clip-path="url(#ct2)">
<rect x="1300.0" y="779.6" width="154.0" height="153.5" fill="#F1ECE1"/>
<g filter="url(#b2)" fill="none" stroke="#DCE2EF" stroke-linecap="round" stroke-linejoin="round"><path d="M1341.7 893.9 L1371.0 866.4 L1403.7 844.0 L1407.1 813.0 L1401.9 780.3" stroke-width="9"/><path d="M1341.7 893.9 L1362.4 921.5 L1405.4 914.6 L1453.6 899.1" stroke-width="18"/><path d="M1302.1 873.3 L1327.9 880.2 L1343.4 893.9" stroke-width="10"/></g>
<g filter="url(#b1)" fill="none" stroke="#E7DCC7" stroke-width="12.5" stroke-linecap="round" stroke-linejoin="round"><path d="M1300.4 788.9 L1327.9 787.2 L1353.8 794.1 L1371.0 804.4"/><path d="M1300.4 806.1 L1327.9 809.6 L1350.3 813.0"/><path d="M1300.4 821.6 L1336.5 835.4 L1371.0 842.3 L1398.5 830.2 L1403.7 821.6"/><path d="M1300.4 842.3 L1319.3 845.7 L1336.5 859.5"/><path d="M1302.1 859.5 L1319.3 866.4 L1331.4 876.7"/><path d="M1381.3 780.3 L1388.2 797.5 L1383.0 813.0"/><path d="M1412.3 787.2 L1426.0 801.0 L1432.9 826.8 L1422.6 844.0"/><path d="M1405.4 850.9 L1422.6 845.7 L1450.1 844.0"/><path d="M1414.0 880.2 L1432.9 887.0 L1453.6 880.2"/><path d="M1352.0 900.8 L1358.9 887.0 L1379.6 881.9 L1398.5 893.9 L1398.5 911.1 L1377.8 921.5 L1358.9 916.3 L1352.0 900.8"/><path d="M1303.8 890.5 L1319.3 887.0 L1334.8 895.6"/><path d="M1305.6 921.5 L1322.8 924.9 L1336.5 918.0"/><path d="M1414.0 907.7 L1431.2 900.8 L1451.9 907.7"/><path d="M1436.4 780.3 L1450.1 795.8 L1453.6 814.8"/><path d="M1398.5 866.4 L1405.4 880.2 L1412.3 890.5"/><path d="M1341.7 873.3 L1333.1 883.6"/></g>
<g filter="url(#b1)" fill="none" stroke="#D6DAEA" stroke-width="6" stroke-linecap="round" stroke-linejoin="round" opacity="0.35"><path d="M1300.4 788.9 L1327.9 787.2 L1353.8 794.1 L1371.0 804.4"/><path d="M1300.4 806.1 L1327.9 809.6 L1350.3 813.0"/><path d="M1300.4 821.6 L1336.5 835.4 L1371.0 842.3 L1398.5 830.2 L1403.7 821.6"/><path d="M1300.4 842.3 L1319.3 845.7 L1336.5 859.5"/><path d="M1302.1 859.5 L1319.3 866.4 L1331.4 876.7"/><path d="M1381.3 780.3 L1388.2 797.5 L1383.0 813.0"/><path d="M1412.3 787.2 L1426.0 801.0 L1432.9 826.8 L1422.6 844.0"/><path d="M1405.4 850.9 L1422.6 845.7 L1450.1 844.0"/><path d="M1414.0 880.2 L1432.9 887.0 L1453.6 880.2"/><path d="M1352.0 900.8 L1358.9 887.0 L1379.6 881.9 L1398.5 893.9 L1398.5 911.1 L1377.8 921.5 L1358.9 916.3 L1352.0 900.8"/><path d="M1303.8 890.5 L1319.3 887.0 L1334.8 895.6"/><path d="M1305.6 921.5 L1322.8 924.9 L1336.5 918.0"/><path d="M1414.0 907.7 L1431.2 900.8 L1451.9 907.7"/><path d="M1436.4 780.3 L1450.1 795.8 L1453.6 814.8"/><path d="M1398.5 866.4 L1405.4 880.2 L1412.3 890.5"/><path d="M1341.7 873.3 L1333.1 883.6"/></g>
<g filter="url(#spkT)" fill="none" stroke="#000" stroke-width="8" stroke-linecap="round" stroke-linejoin="round" opacity="0.45"><path d="M1300.4 788.9 L1327.9 787.2 L1353.8 794.1 L1371.0 804.4"/><path d="M1300.4 806.1 L1327.9 809.6 L1350.3 813.0"/><path d="M1300.4 821.6 L1336.5 835.4 L1371.0 842.3 L1398.5 830.2 L1403.7 821.6"/><path d="M1300.4 842.3 L1319.3 845.7 L1336.5 859.5"/><path d="M1302.1 859.5 L1319.3 866.4 L1331.4 876.7"/><path d="M1381.3 780.3 L1388.2 797.5 L1383.0 813.0"/><path d="M1412.3 787.2 L1426.0 801.0 L1432.9 826.8 L1422.6 844.0"/><path d="M1405.4 850.9 L1422.6 845.7 L1450.1 844.0"/><path d="M1414.0 880.2 L1432.9 887.0 L1453.6 880.2"/><path d="M1352.0 900.8 L1358.9 887.0 L1379.6 881.9 L1398.5 893.9 L1398.5 911.1 L1377.8 921.5 L1358.9 916.3 L1352.0 900.8"/><path d="M1303.8 890.5 L1319.3 887.0 L1334.8 895.6"/><path d="M1305.6 921.5 L1322.8 924.9 L1336.5 918.0"/><path d="M1414.0 907.7 L1431.2 900.8 L1451.9 907.7"/><path d="M1436.4 780.3 L1450.1 795.8 L1453.6 814.8"/><path d="M1398.5 866.4 L1405.4 880.2 L1412.3 890.5"/><path d="M1341.7 873.3 L1333.1 883.6"/></g>
<g fill="#FBFAF8" filter="url(#b2)"><ellipse cx="1353.8" cy="862.9" rx="13.8" ry="9.5"/><ellipse cx="1388.2" cy="788.9" rx="8.6" ry="6.0"/><ellipse cx="1436.4" cy="866.4" rx="15.5" ry="5.2"/><ellipse cx="1446.7" cy="823.4" rx="5.2" ry="7.7"/><ellipse cx="1321.0" cy="906.0" rx="11.2" ry="8.6"/><ellipse cx="1374.4" cy="904.3" rx="10.3" ry="5.2"/><ellipse cx="1431.2" cy="894.8" rx="12.0" ry="3.1"/></g>
</g>
<line x1="1307.0" y1="923.2" x2="1322.5" y2="923.2" stroke="#000" stroke-width="2"/>
<rect x="1300.0" y="779.6" width="154.0" height="153.5" fill="none" stroke="#000" stroke-width="2.7"/>
<rect x="1604.6" y="726.3" width="72.6" height="46.9" fill="#C45B42"/>
<rect x="1604.6" y="773.1" width="72.6" height="140.6" fill="#4FA8B1"/>
<rect x="1713.6" y="726.3" width="72.7" height="160.1" fill="#C45B42"/>
<rect x="1713.6" y="886.4" width="72.7" height="27.3" fill="#4FA8B1"/>
<line x1="1568.2" y1="657.5" x2="1568.2" y2="915.0" stroke="#000" stroke-width="2.6"/>
<line x1="1564.0" y1="913.7" x2="1823.4" y2="913.7" stroke="#000" stroke-width="2.6"/>
<line x1="1562.5" y1="913.7" x2="1568.2" y2="913.7" stroke="#000" stroke-width="2.6"/>
<text x="1560.0" y="921.2" font-size="21.5" text-anchor="end">0</text>
<line x1="1562.5" y1="835.6" x2="1568.2" y2="835.6" stroke="#000" stroke-width="2.6"/>
<text x="1560.0" y="843.1" font-size="21.5" text-anchor="end">20</text>
<line x1="1562.5" y1="757.5" x2="1568.2" y2="757.5" stroke="#000" stroke-width="2.6"/>
<text x="1560.0" y="765.0" font-size="21.5" text-anchor="end">40</text>
<line x1="1562.5" y1="679.4" x2="1568.2" y2="679.4" stroke="#000" stroke-width="2.6"/>
<text x="1560.0" y="686.9" font-size="21.5" text-anchor="end">60</text>
<line x1="1640.9" y1="913.7" x2="1640.9" y2="918.0" stroke="#000" stroke-width="2.6"/>
<text x="1640.9" y="939.5" font-size="21.5" text-anchor="middle">Normal</text>
<line x1="1750.0" y1="913.7" x2="1750.0" y2="918.0" stroke="#000" stroke-width="2.6"/>
<text x="1750.0" y="939.5" font-size="21.5" text-anchor="middle">Tumor</text>
<text x="1640.9" y="751.6" font-size="21.5" text-anchor="middle" fill="#fff">25.0%</text>
<text x="1750.0" y="751.6" font-size="21.5" text-anchor="middle" fill="#fff">85.4%</text>
<text x="1640.9" y="910.2" font-size="21.5" text-anchor="middle" fill="#fff">75.0%</text>
<text x="1750.0" y="910.2" font-size="21.5" text-anchor="middle" fill="#fff">14.6%</text>
<rect x="1577.2" y="658.8" width="27.6" height="13.8" fill="#4FA8B1"/>
<rect x="1577.2" y="678.4" width="27.6" height="13.8" fill="#C45B42"/>
<text x="1621.0" y="671.4" font-size="21.5">TNF-α low</text>
<text x="1621.0" y="690.9" font-size="21.5">TNF-α high</text>
<path d="M1637.9 720.5V713.2H1749.9V720.5" stroke="#000" stroke-width="2.2" fill="none"/>
<text x="1694.3" y="716.5" font-size="20" text-anchor="middle">***</text>
<text transform="translate(1522.5 785.4) rotate(-90)" font-size="21.5" text-anchor="middle">Number of cases</text>
<text x="18.0" y="1062.5" font-size="33" font-weight="bold">g</text>
<rect x="162.1" y="1312.2" width="35.1" height="101.2" fill="#5F82C2" stroke="#000" stroke-width="2.5"/>
<path d="M238.0 1303.8V1290.6M228.5 1290.6H247.5" stroke="#000" stroke-width="2.5" fill="none"/>
<rect x="220.4" y="1304.1" width="35.1" height="109.3" fill="#EA5541" stroke="#000" stroke-width="2.5"/>
<path d="M296.0 1310.0V1300.0M286.5 1300.0H305.5" stroke="#000" stroke-width="2.5" fill="none"/>
<rect x="278.4" y="1310.2" width="35.2" height="103.2" fill="#EFA460" stroke="#000" stroke-width="2.5"/>
<rect x="375.6" y="1312.2" width="35.1" height="101.2" fill="#5F82C2" stroke="#000" stroke-width="2.5"/>
<path d="M451.5 1319.2V1305.7M442.0 1305.7H461.0" stroke="#000" stroke-width="2.5" fill="none"/>
<rect x="433.9" y="1319.4" width="35.1" height="94.0" fill="#EA5541" stroke="#000" stroke-width="2.5"/>
<path d="M510.2 1312.0V1295.7M500.7 1295.7H519.7" stroke="#000" stroke-width="2.5" fill="none"/>
<rect x="492.6" y="1312.2" width="35.1" height="101.2" fill="#EFA460" stroke="#000" stroke-width="2.5"/>
<line x1="140.7" y1="1156.2" x2="140.7" y2="1414.7" stroke="#000" stroke-width="2.6"/>
<line x1="139.4" y1="1413.4" x2="549.5" y2="1413.4" stroke="#000" stroke-width="2.6"/>
<line x1="135.0" y1="1413.4" x2="140.7" y2="1413.4" stroke="#000" stroke-width="2.6"/>
<text x="133.0" y="1420.9" font-size="21" text-anchor="end">0.0</text>
<line x1="135.0" y1="1362.2" x2="140.7" y2="1362.2" stroke="#000" stroke-width="2.6"/>
<text x="133.0" y="1369.7" font-size="21" text-anchor="end">0.5</text>
<line x1="135.0" y1="1311.0" x2="140.7" y2="1311.0" stroke="#000" stroke-width="2.6"/>
<text x="133.0" y="1318.5" font-size="21" text-anchor="end">1.0</text>
<line x1="135.0" y1="1259.8" x2="140.7" y2="1259.8" stroke="#000" stroke-width="2.6"/>
<text x="133.0" y="1267.3" font-size="21" text-anchor="end">1.5</text>
<line x1="135.0" y1="1208.6" x2="140.7" y2="1208.6" stroke="#000" stroke-width="2.6"/>
<text x="133.0" y="1216.1" font-size="21" text-anchor="end">2.0</text>
<line x1="135.0" y1="1157.4" x2="140.7" y2="1157.4" stroke="#000" stroke-width="2.6"/>
<text x="133.0" y="1164.9" font-size="21" text-anchor="end">2.5</text>
<text x="237.0" y="1444.5" font-size="21" text-anchor="middle">TPC-1</text>
<text x="451.2" y="1444.5" font-size="21" text-anchor="middle">IHH4</text>
<text transform="translate(89.5 1284.7) rotate(-90)" font-size="21.5" text-anchor="middle">TNF-α expression level</text>
<path d="M179.3 1279.7V1254.5H296V1270.2 M179.3 1270.2H237.7V1279.7" stroke="#000" stroke-width="2.2" fill="none"/>
<path d="M391.2 1280.6V1253.3H508V1269.6 M391.2 1271.2H449.6V1280.6" stroke="#000" stroke-width="2.2" fill="none"/>
<text x="212.6" y="1268.0" font-size="21" text-anchor="middle">ns</text>
<text x="239.2" y="1251.4" font-size="21" text-anchor="middle">ns</text>
<text x="420.7" y="1268.0" font-size="21" text-anchor="middle">ns</text>
<text x="449.0" y="1250.0" font-size="21" text-anchor="middle">ns</text>
<rect x="156.6" y="1159.3" width="24.3" height="9.3" fill="#5F82C2" stroke="#000" stroke-width="2.4"/>
<text x="197.8" y="1169.8" font-size="21">shNC</text>
<rect x="156.6" y="1186.7" width="24.3" height="9.5" fill="#EA5541" stroke="#000" stroke-width="2.4"/>
<text x="197.8" y="1196.8" font-size="21">METTL1-sh1</text>
<rect x="156.6" y="1214.3" width="24.3" height="9.5" fill="#EFA460" stroke="#000" stroke-width="2.4"/>
<text x="197.8" y="1224.7" font-size="21">METTL1-sh2</text>
<defs><filter id="bb1" x="-20%" y="-50%" width="140%" height="200%"><feGaussianBlur stdDeviation="1.6 1.3"/></filter><filter id="bb2" x="-20%" y="-50%" width="140%" height="200%"><feGaussianBlur stdDeviation="2.4 1.8"/></filter><filter id="bb3" x="-20%" y="-80%" width="140%" height="260%"><feGaussianBlur stdDeviation="5 3.5"/></filter></defs>
<text x="638.0" y="1064.3" font-size="33" font-weight="bold">h</text>
<text x="932.7" y="1156.5" font-size="21" text-anchor="middle">TPC-1</text>
<text x="1120.5" y="1156.5" font-size="21" text-anchor="middle">IHH4</text>
<line x1="857.5" y1="1165.7" x2="1010.6" y2="1165.7" stroke="#000" stroke-width="2.5"/>
<line x1="1039.4" y1="1165.7" x2="1195.0" y2="1165.7" stroke="#000" stroke-width="2.5"/>
<text x="849.0" y="1205.0" font-size="21" text-anchor="end" letter-spacing="0.55">shNC</text>
<text x="849.0" y="1254.0" font-size="21" text-anchor="end" letter-spacing="0.55">METTL1-sh1</text>
<text x="849.0" y="1302.9" font-size="21" text-anchor="end" letter-spacing="0.55">METTL1-sh2</text>
<text x="849.0" y="1352.2" font-size="21" text-anchor="end" letter-spacing="0.55">TNF-α</text>
<text x="849.0" y="1401.0" font-size="21" text-anchor="end" letter-spacing="0.55">β-ACTIN</text>
<path d="M876.0 1194.4H886.6M881.3 1189.1V1199.7" stroke="#000" stroke-width="1.6" fill="none"/>
<path d="M927.4 1243.3H938.0M932.7 1238.0V1248.6" stroke="#000" stroke-width="1.6" fill="none"/>
<path d="M986.6 1293.0H997.2M991.9 1287.7V1298.3" stroke="#000" stroke-width="1.6" fill="none"/>
<path d="M1051.4 1194.4H1062.0M1056.7 1189.1V1199.7" stroke="#000" stroke-width="1.6" fill="none"/>
<path d="M1112.4 1240.8H1123.0M1117.7 1235.5V1246.1" stroke="#000" stroke-width="1.6" fill="none"/>
<path d="M1170.2 1295.0H1180.8M1175.5 1289.7V1300.3" stroke="#000" stroke-width="1.6" fill="none"/>
<clipPath id="cb1"><rect x="861" y="1320.6" width="165.5999999999999" height="42.200000000000045"/></clipPath>
<rect x="861.0" y="1320.6" width="165.6" height="42.2" fill="#F4F4F4"/>
<g clip-path="url(#cb1)">
<g filter="url(#bb3)" fill="#BDBDBD" opacity="0.6"><ellipse cx="887" cy="1340" rx="28" ry="8"/><ellipse cx="935" cy="1342" rx="20" ry="7"/><ellipse cx="997" cy="1338" rx="24" ry="7"/></g>
<g filter="url(#bb1)"><path d="M864 1334 Q885 1329 906 1334 Q912 1338 908 1343 Q885 1346 864 1342Z" fill="#0A0A0A"/><path d="M921 1335 Q932 1331 945 1338 Q948 1342 938 1343 Q928 1342 921 1342Z" fill="#1E1E1E"/><ellipse cx="957" cy="1341" rx="7" ry="2.5" fill="#999"/><path d="M977 1338 Q995 1331 1018 1334 Q1020 1338 1010 1338 Q992 1338 977 1342Z" fill="#5A5A5A"/></g>
</g>
<rect x="862.2" y="1321.6" width="163.2" height="40.6" fill="none" stroke="#000" stroke-width="2.5"/>
<clipPath id="cb2"><rect x="1040" y="1320.6" width="166" height="42.200000000000045"/></clipPath>
<rect x="1040.0" y="1320.6" width="166.0" height="42.2" fill="#F6F6F6"/>
<g clip-path="url(#cb2)">
<g filter="url(#bb3)" fill="#BDBDBD" opacity="0.55"><ellipse cx="1067" cy="1348" rx="26" ry="8"/><ellipse cx="1122" cy="1346" rx="22" ry="6"/></g>
<g filter="url(#bb1)"><path d="M1044 1342 Q1066 1333 1090 1338 Q1094 1343 1088 1346 Q1066 1350 1046 1347Z" fill="#080808"/><path d="M1101 1340 Q1120 1334 1145 1339 Q1148 1343 1140 1345 Q1120 1344 1102 1345Z" fill="#111"/><path d="M1158 1343 Q1175 1339 1198 1342 Q1198 1345 1180 1345 Q1168 1345 1158 1346Z" fill="#7A7A7A"/></g>
</g>
<rect x="1041.2" y="1321.6" width="163.6" height="40.6" fill="none" stroke="#000" stroke-width="2.5"/>
<clipPath id="cb3"><rect x="862" y="1370.2" width="165.70000000000005" height="42.200000000000045"/></clipPath>
<rect x="862.0" y="1370.2" width="165.7" height="42.2" fill="#D8D8D8"/>
<g clip-path="url(#cb3)">
<g filter="url(#bb2)" fill="#050505"><rect x="866" y="1381" width="50" height="22" rx="10"/><rect x="920" y="1382" width="50" height="21" rx="10"/><rect x="974" y="1381" width="50" height="22" rx="10"/></g>
</g>
<rect x="863.2" y="1371.4" width="163.3" height="40.6" fill="none" stroke="#000" stroke-width="2.5"/>
<clipPath id="cb4"><rect x="1040.8" y="1370.2" width="165.9000000000001" height="42.200000000000045"/></clipPath>
<rect x="1040.8" y="1370.2" width="165.9" height="42.2" fill="#EDEDED"/>
<g clip-path="url(#cb4)">
<g filter="url(#bb3)" fill="#9A9A9A" opacity="0.6"><ellipse cx="1068" cy="1396" rx="24" ry="7"/><ellipse cx="1123" cy="1396" rx="22" ry="7"/><ellipse cx="1178" cy="1396" rx="22" ry="7"/></g>
<g filter="url(#bb1)" fill="#080808"><rect x="1046" y="1381" width="46" height="11" rx="5.5"/><rect x="1101" y="1381" width="44" height="10.5" rx="5"/><rect x="1157" y="1381" width="44" height="10.5" rx="5"/></g>
</g>
<rect x="1042.0" y="1371.4" width="163.5" height="40.6" fill="none" stroke="#000" stroke-width="2.5"/>
<line x1="1206.7" y1="1343.5" x2="1211.5" y2="1343.5" stroke="#000" stroke-width="1.8"/>
<line x1="1207.4" y1="1392.5" x2="1212.0" y2="1392.5" stroke="#000" stroke-width="1.8"/>
<text x="1219.0" y="1349.0" font-size="21" letter-spacing="0.6">17kd</text>
<text x="1218.0" y="1397.8" font-size="21" letter-spacing="0.6">42kd</text>
<text x="1357.0" y="1064.0" font-size="33" font-weight="bold">i</text>
<path d="M1505.8 1299.6V1286.7M1496.5 1286.7H1515.0" stroke="#000" stroke-width="2.5" fill="none"/>
<rect x="1488.8" y="1299.8" width="34.0" height="113.2" fill="#5F82C2" stroke="#000" stroke-width="2.5"/>
<path d="M1564.1 1348.4V1334.4M1554.8 1334.4H1573.4" stroke="#000" stroke-width="2.5" fill="none"/>
<rect x="1546.8" y="1348.7" width="34.7" height="64.3" fill="#EA5541" stroke="#000" stroke-width="2.5"/>
<path d="M1622.3 1364.3V1339.4M1613.0 1339.4H1631.6" stroke="#000" stroke-width="2.5" fill="none"/>
<rect x="1604.8" y="1364.5" width="34.9" height="48.5" fill="#EFA460" stroke="#000" stroke-width="2.5"/>
<path d="M1719.7 1368.3V1358.3M1710.4 1358.3H1729.0" stroke="#000" stroke-width="2.5" fill="none"/>
<rect x="1702.7" y="1368.5" width="34.0" height="44.5" fill="#5F82C2" stroke="#000" stroke-width="2.5"/>
<path d="M1778.0 1405.7V1397.1M1768.8 1397.1H1787.3" stroke="#000" stroke-width="2.5" fill="none"/>
<rect x="1760.8" y="1406.0" width="34.6" height="7.0" fill="#EA5541" stroke="#000" stroke-width="2.5"/>
<line x1="1466.9" y1="1157.3" x2="1466.9" y2="1414.3" stroke="#000" stroke-width="2.6"/>
<line x1="1465.6" y1="1413.0" x2="1875.6" y2="1413.0" stroke="#000" stroke-width="2.6"/>
<line x1="1461.0" y1="1413.0" x2="1466.9" y2="1413.0" stroke="#000" stroke-width="2.6"/>
<text x="1458.6" y="1420.5" font-size="21" text-anchor="end">0</text>
<line x1="1461.0" y1="1349.4" x2="1466.9" y2="1349.4" stroke="#000" stroke-width="2.6"/>
<text x="1458.6" y="1356.9" font-size="21" text-anchor="end">1</text>
<line x1="1461.0" y1="1285.8" x2="1466.9" y2="1285.8" stroke="#000" stroke-width="2.6"/>
<text x="1458.6" y="1293.3" font-size="21" text-anchor="end">2</text>
<line x1="1461.0" y1="1222.2" x2="1466.9" y2="1222.2" stroke="#000" stroke-width="2.6"/>
<text x="1458.6" y="1229.7" font-size="21" text-anchor="end">3</text>
<line x1="1461.0" y1="1158.6" x2="1466.9" y2="1158.6" stroke="#000" stroke-width="2.6"/>
<text x="1458.6" y="1166.1" font-size="21" text-anchor="end">4</text>
<line x1="1563.8" y1="1413.0" x2="1563.8" y2="1417.5" stroke="#000" stroke-width="2.6"/>
<text x="1563.8" y="1438.6" font-size="21" text-anchor="middle">TPC-1</text>
<line x1="1777.0" y1="1413.0" x2="1777.0" y2="1417.5" stroke="#000" stroke-width="2.6"/>
<text x="1777.0" y="1438.6" font-size="21" text-anchor="middle">IHH4</text>
<path d="M1505.1 1272.7V1244.9H1622.5V1317.8 M1505.1 1259.8H1563.8V1311.2" stroke="#000" stroke-width="2.2" fill="none"/>
<path d="M1718.7 1343.4V1304.2H1836.7V1379.9 M1718.7 1327.5H1778.4V1379.9" stroke="#000" stroke-width="2.2" fill="none"/>
<text x="1561.1" y="1247.5" font-size="19" text-anchor="middle">*</text>
<text x="1535.9" y="1262.5" font-size="19" text-anchor="middle">**</text>
<text x="1777.0" y="1307.0" font-size="19" text-anchor="middle">***</text>
<text x="1748.9" y="1330.0" font-size="19" text-anchor="middle">**</text>
<rect x="1485.4" y="1158.2" width="24.1" height="9.9" fill="#5F82C2" stroke="#000" stroke-width="2.4"/>
<text x="1526.3" y="1169.3" font-size="21">shNC</text>
<rect x="1485.4" y="1184.7" width="24.1" height="9.9" fill="#EA5541" stroke="#000" stroke-width="2.4"/>
<text x="1526.3" y="1195.8" font-size="21">METTL1-sh1</text>
<rect x="1485.4" y="1213.6" width="24.1" height="9.8" fill="#EFA460" stroke="#000" stroke-width="2.4"/>
<text x="1526.3" y="1224.6" font-size="21">METTL1-sh2</text>
<text transform="translate(1434 1286) rotate(-90)" font-size="22" text-anchor="middle" style="font-family:'Liberation Sans','Noto Sans CJK SC',sans-serif">TNF-α（&#8201;pg/ml）</text>
</svg>
</body></html>
